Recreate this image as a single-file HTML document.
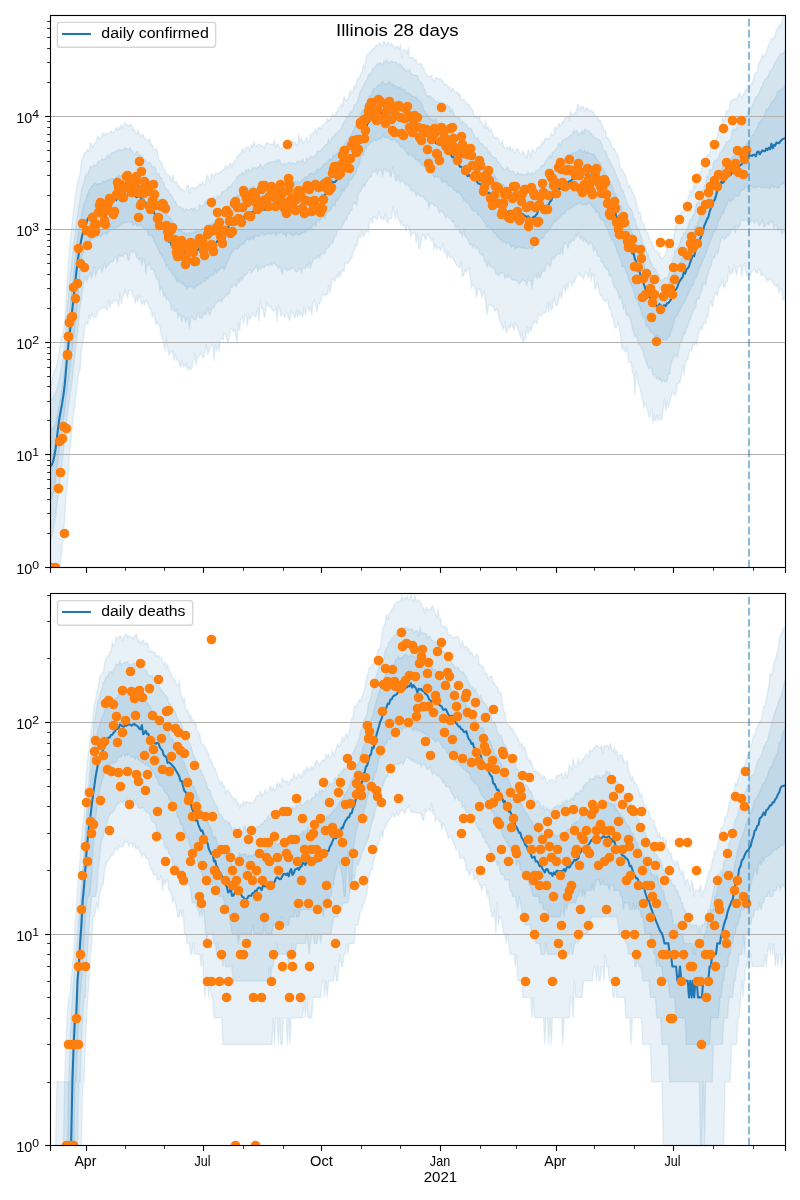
<!DOCTYPE html><html><head><meta charset="utf-8"><title>Illinois 28 days</title>
<style>html,body{margin:0;padding:0;background:#fff}svg{display:block}text{font-family:"Liberation Sans",sans-serif;fill:#000}</style></head><body>
<svg width="800" height="1200" viewBox="0 0 800 1200">
<rect width="800" height="1200" fill="#fff"/>
<defs><clipPath id="c1"><rect x="50.5" y="15.5" width="735.0" height="552.0"/></clipPath><clipPath id="c2"><rect x="50.5" y="593.5" width="735.0" height="552.0"/></clipPath></defs>
<g clip-path="url(#c1)">
<path d="M50.5,388.2L51.8,382.0L53.1,375.8L54.4,370.5L55.6,369.2L56.9,364.5L58.2,357.1L59.5,349.2L60.8,340.5L62.1,335.7L63.4,329.9L64.7,321.6L65.9,303.2L67.2,279.9L68.5,260.3L69.8,245.9L71.1,232.7L72.4,220.8L73.7,209.2L75.0,199.0L76.2,189.7L77.5,182.1L78.8,177.4L80.1,173.9L81.4,160.7L82.7,157.8L84.0,153.1L85.3,152.5L86.5,151.2L87.8,149.2L89.1,151.9L90.4,143.1L91.7,143.6L93.0,148.0L94.3,143.8L95.6,143.0L96.8,138.0L98.1,136.1L99.4,139.5L100.7,138.5L102.0,134.6L103.3,132.8L104.6,135.6L105.9,132.8L107.1,133.9L108.4,133.6L109.7,132.7L111.0,130.8L112.3,132.6L113.6,132.6L114.9,130.7L116.2,127.5L117.4,130.5L118.7,127.0L120.0,129.6L121.3,124.4L122.6,128.4L123.9,125.7L125.2,122.5L126.5,124.4L127.7,125.1L129.0,126.1L130.3,124.2L131.6,125.3L132.9,129.7L134.2,129.5L135.5,132.1L136.7,134.1L138.0,129.4L139.3,134.4L140.6,137.4L141.9,134.6L143.2,134.3L144.5,138.8L145.8,138.7L147.0,141.5L148.3,140.0L149.6,139.0L150.9,143.8L152.2,144.8L153.5,149.5L154.8,150.1L156.1,148.0L157.3,151.5L158.6,159.0L159.9,161.4L161.2,161.2L162.5,165.4L163.8,169.0L165.1,171.2L166.4,174.0L167.6,174.4L168.9,175.4L170.2,176.6L171.5,181.2L172.8,175.0L174.1,181.3L175.4,182.9L176.7,181.0L177.9,186.5L179.2,185.5L180.5,190.0L181.8,188.4L183.1,190.3L184.4,191.6L185.7,189.6L187.0,186.7L188.2,185.3L189.5,192.8L190.8,188.5L192.1,186.9L193.4,188.4L194.7,187.2L196.0,189.0L197.3,186.4L198.5,185.7L199.8,183.4L201.1,185.5L202.4,181.3L203.7,184.5L205.0,185.2L206.3,177.7L207.6,174.7L208.8,179.4L210.1,182.8L211.4,174.2L212.7,174.2L214.0,177.6L215.3,173.5L216.6,173.5L217.8,173.0L219.1,174.3L220.4,171.3L221.7,172.1L223.0,170.3L224.3,168.1L225.6,165.8L226.9,166.3L228.1,167.7L229.4,164.1L230.7,163.1L232.0,167.6L233.3,162.5L234.6,160.7L235.9,160.1L237.2,156.1L238.4,154.8L239.7,154.7L241.0,153.0L242.3,148.7L243.6,152.5L244.9,148.6L246.2,146.9L247.5,146.7L248.7,147.3L250.0,151.5L251.3,144.6L252.6,147.3L253.9,141.6L255.2,146.2L256.5,146.0L257.8,144.9L259.0,143.7L260.3,145.3L261.6,146.1L262.9,145.8L264.2,148.5L265.5,144.3L266.8,142.4L268.1,143.5L269.3,143.7L270.6,144.4L271.9,144.4L273.2,145.2L274.5,140.5L275.8,147.5L277.1,144.6L278.4,143.4L279.6,147.7L280.9,149.3L282.2,147.3L283.5,146.3L284.8,143.6L286.1,149.4L287.4,147.1L288.7,142.1L289.9,142.6L291.2,144.3L292.5,140.2L293.8,143.8L295.1,142.1L296.4,145.6L297.7,143.8L298.9,134.8L300.2,141.8L301.5,137.6L302.8,143.4L304.1,140.8L305.4,141.1L306.7,136.7L308.0,142.5L309.2,141.9L310.5,133.7L311.8,135.9L313.1,132.3L314.4,132.6L315.7,128.6L317.0,134.7L318.3,127.2L319.5,127.7L320.8,128.6L322.1,125.0L323.4,125.0L324.7,123.2L326.0,123.2L327.3,118.5L328.6,120.3L329.8,119.7L331.1,118.1L332.4,113.9L333.7,115.4L335.0,116.3L336.3,112.2L337.6,111.1L338.9,107.1L340.1,106.8L341.4,103.5L342.7,105.9L344.0,96.3L345.3,99.7L346.6,100.7L347.9,99.1L349.2,95.3L350.4,90.1L351.7,93.8L353.0,91.4L354.3,85.5L355.6,88.2L356.9,80.6L358.2,78.1L359.5,77.7L360.7,73.9L362.0,71.6L363.3,64.3L364.6,68.8L365.9,59.7L367.2,54.3L368.5,54.4L369.8,52.0L371.0,52.1L372.3,49.1L373.6,48.4L374.9,47.9L376.2,44.7L377.5,47.2L378.8,44.1L380.0,42.3L381.3,45.2L382.6,46.1L383.9,41.3L385.2,43.3L386.5,46.8L387.8,41.5L389.1,43.3L390.3,46.0L391.6,43.0L392.9,46.4L394.2,46.5L395.5,49.2L396.8,45.6L398.1,46.9L399.4,49.8L400.6,44.1L401.9,57.7L403.2,49.8L404.5,50.5L405.8,50.2L407.1,53.8L408.4,47.5L409.7,57.2L410.9,58.7L412.2,56.8L413.5,58.3L414.8,61.2L416.1,59.1L417.4,63.4L418.7,64.1L420.0,63.6L421.2,63.5L422.5,67.4L423.8,68.0L425.1,73.9L426.4,73.4L427.7,76.2L429.0,75.9L430.3,77.0L431.5,75.3L432.8,79.2L434.1,82.2L435.4,77.8L436.7,77.6L438.0,79.0L439.3,78.7L440.6,78.7L441.8,81.2L443.1,80.9L444.4,85.8L445.7,83.5L447.0,85.3L448.3,88.0L449.6,86.4L450.9,91.7L452.1,88.2L453.4,89.1L454.7,91.4L456.0,93.2L457.3,91.5L458.6,95.8L459.9,93.3L461.1,100.2L462.4,99.5L463.7,99.5L465.0,100.3L466.3,102.8L467.6,104.6L468.9,104.1L470.2,105.9L471.4,109.1L472.7,110.0L474.0,114.9L475.3,117.0L476.6,116.0L477.9,118.6L479.2,116.0L480.5,122.0L481.7,121.9L483.0,124.6L484.3,128.6L485.6,120.4L486.9,128.3L488.2,126.6L489.5,131.9L490.8,128.9L492.0,132.1L493.3,135.1L494.6,137.5L495.9,137.7L497.2,137.2L498.5,139.2L499.8,143.9L501.1,143.1L502.3,140.4L503.6,147.3L504.9,147.2L506.2,148.9L507.5,146.8L508.8,150.1L510.1,146.3L511.4,150.6L512.6,148.6L513.9,151.7L515.2,152.9L516.5,149.3L517.8,148.5L519.1,151.8L520.4,154.8L521.7,154.0L522.9,149.9L524.2,154.1L525.5,155.0L526.8,158.4L528.1,149.8L529.4,152.5L530.7,156.8L532.0,150.1L533.2,149.7L534.5,152.5L535.8,152.4L537.1,147.0L538.4,148.3L539.7,145.8L541.0,147.5L542.2,141.0L543.5,143.9L544.8,138.4L546.1,138.9L547.4,138.0L548.7,139.7L550.0,137.3L551.3,133.1L552.5,135.2L553.8,134.2L555.1,126.8L556.4,129.2L557.7,127.9L559.0,123.0L560.3,125.9L561.6,124.5L562.8,120.5L564.1,121.9L565.4,116.4L566.7,117.0L568.0,115.9L569.3,120.4L570.6,111.0L571.9,114.9L573.1,114.7L574.4,112.5L575.7,113.5L577.0,107.6L578.3,103.9L579.6,110.5L580.9,106.0L582.2,108.1L583.4,106.2L584.7,111.5L586.0,108.0L587.3,107.8L588.6,111.8L589.9,110.3L591.2,110.2L592.5,111.6L593.7,112.3L595.0,115.8L596.3,116.7L597.6,116.8L598.9,121.6L600.2,119.7L601.5,123.9L602.8,126.4L604.0,131.5L605.3,130.0L606.6,138.3L607.9,138.0L609.2,138.9L610.5,142.0L611.8,147.5L613.1,148.8L614.3,148.6L615.6,151.0L616.9,155.0L618.2,155.0L619.5,164.5L620.8,168.1L622.1,170.0L623.3,171.9L624.6,173.2L625.9,177.3L627.2,182.1L628.5,187.9L629.8,184.9L631.1,188.4L632.4,192.2L633.6,194.3L634.9,197.0L636.2,201.8L637.5,206.2L638.8,213.5L640.1,212.8L641.4,219.3L642.7,223.8L643.9,223.4L645.2,230.3L646.5,231.7L647.8,232.3L649.1,237.2L650.4,240.1L651.7,242.8L653.0,245.8L654.2,249.1L655.5,251.7L656.8,250.5L658.1,254.3L659.4,252.3L660.7,257.5L662.0,258.9L663.3,257.6L664.5,256.3L665.8,254.4L667.1,248.3L668.4,245.9L669.7,244.4L671.0,242.6L672.3,238.1L673.6,239.8L674.8,230.4L676.1,225.1L677.4,221.3L678.7,220.3L680.0,215.6L681.3,211.8L682.6,212.0L683.9,211.3L685.1,206.6L686.4,203.5L687.7,199.5L689.0,196.0L690.3,189.9L691.6,192.6L692.9,189.3L694.2,183.2L695.4,188.5L696.7,177.5L698.0,175.4L699.3,172.3L700.6,174.8L701.9,167.3L703.2,168.1L704.4,165.1L705.7,161.5L707.0,155.1L708.3,154.0L709.6,156.5L710.9,146.9L712.2,145.2L713.5,143.9L714.7,143.3L716.0,139.1L717.3,137.1L718.6,129.7L719.9,130.7L721.2,126.0L722.5,117.4L723.8,121.3L725.0,120.2L726.3,110.7L727.6,110.4L728.9,111.4L730.2,102.9L731.5,99.9L732.8,99.8L734.1,99.8L735.3,98.3L736.6,99.5L737.9,97.4L739.2,92.6L740.5,95.6L741.8,97.4L743.1,94.6L744.4,92.9L745.6,89.4L746.9,90.5L748.2,84.8L749.5,87.4L750.8,83.6L752.1,84.1L753.4,79.8L754.7,73.1L755.9,72.6L757.2,71.9L758.5,63.3L759.8,61.6L761.1,58.4L762.4,54.1L763.7,57.1L765.0,55.3L766.2,51.6L767.5,47.8L768.8,44.6L770.1,42.9L771.4,38.2L772.7,39.6L774.0,37.6L775.2,35.0L776.5,29.4L777.8,28.6L779.1,23.9L780.4,28.5L781.7,22.9L783.0,16.4L785.5,18.4L785.5,299.1L783.0,300.2L781.7,289.6L780.4,288.3L779.1,292.8L777.8,283.8L776.5,287.0L775.2,284.7L774.0,284.6L772.7,282.0L771.4,279.6L770.1,277.8L768.8,281.0L767.5,279.1L766.2,281.5L765.0,275.3L763.7,276.1L762.4,273.6L761.1,276.4L759.8,271.0L758.5,268.3L757.2,273.5L755.9,272.3L754.7,268.1L753.4,270.7L752.1,270.9L750.8,275.1L749.5,274.2L748.2,276.1L746.9,275.3L745.6,270.7L744.4,263.2L743.1,266.2L741.8,277.0L740.5,265.1L739.2,265.9L737.9,267.5L736.6,275.4L735.3,268.9L734.1,264.4L732.8,273.6L731.5,269.5L730.2,275.4L728.9,266.4L727.6,281.9L726.3,282.0L725.0,285.5L723.8,288.4L722.5,279.8L721.2,284.8L719.9,286.2L718.6,288.6L717.3,296.0L716.0,292.0L714.7,294.9L713.5,301.1L712.2,307.6L710.9,300.9L709.6,303.5L708.3,316.6L707.0,315.2L705.7,324.2L704.4,321.3L703.2,324.7L701.9,330.3L700.6,326.6L699.3,332.0L698.0,333.7L696.7,345.2L695.4,342.3L694.2,345.5L692.9,344.3L691.6,351.0L690.3,349.2L689.0,352.8L687.7,359.6L686.4,360.3L685.1,364.6L683.9,375.4L682.6,365.4L681.3,375.4L680.0,382.2L678.7,383.0L677.4,383.9L676.1,393.1L674.8,395.9L673.6,392.6L672.3,392.1L671.0,397.0L669.7,402.4L668.4,407.2L667.1,402.1L665.8,411.1L664.5,398.9L663.3,409.2L662.0,418.1L660.7,420.2L659.4,414.6L658.1,421.0L656.8,415.6L655.5,420.8L654.2,415.3L653.0,423.1L651.7,408.1L650.4,415.7L649.1,417.2L647.8,411.5L646.5,404.3L645.2,403.4L643.9,408.2L642.7,399.7L641.4,395.3L640.1,387.8L638.8,386.0L637.5,379.5L636.2,370.9L634.9,394.7L633.6,373.2L632.4,372.9L631.1,361.3L629.8,362.6L628.5,362.2L627.2,346.1L625.9,352.5L624.6,351.2L623.3,345.6L622.1,349.9L620.8,338.7L619.5,329.8L618.2,321.6L616.9,326.9L615.6,328.3L614.3,325.8L613.1,317.4L611.8,316.9L610.5,308.5L609.2,308.9L607.9,301.6L606.6,298.6L605.3,302.4L604.0,299.4L602.8,299.7L601.5,295.8L600.2,295.2L598.9,290.4L597.6,282.4L596.3,286.2L595.0,289.8L593.7,275.2L592.5,273.4L591.2,281.2L589.9,268.1L588.6,278.2L587.3,274.4L586.0,271.7L584.7,274.1L583.4,280.0L582.2,276.1L580.9,276.7L579.6,272.5L578.3,274.3L577.0,276.1L575.7,278.1L574.4,282.4L573.1,281.0L571.9,287.1L570.6,281.6L569.3,281.4L568.0,289.0L566.7,283.7L565.4,292.8L564.1,285.7L562.8,287.2L561.6,299.2L560.3,293.2L559.0,298.5L557.7,304.6L556.4,306.0L555.1,302.7L553.8,297.0L552.5,307.9L551.3,310.7L550.0,302.1L548.7,312.6L547.4,302.0L546.1,311.5L544.8,313.2L543.5,312.0L542.2,314.5L541.0,315.7L539.7,315.4L538.4,313.6L537.1,324.0L535.8,322.1L534.5,321.1L533.2,324.6L532.0,327.4L530.7,332.0L529.4,327.7L528.1,333.6L526.8,326.6L525.5,337.9L524.2,339.5L522.9,342.7L521.7,332.1L520.4,337.9L519.1,332.3L517.8,328.6L516.5,325.6L515.2,322.7L513.9,330.0L512.6,326.4L511.4,322.9L510.1,328.6L508.8,325.3L507.5,330.1L506.2,332.9L504.9,321.4L503.6,329.6L502.3,327.2L501.1,323.2L499.8,320.0L498.5,314.9L497.2,309.6L495.9,309.9L494.6,311.2L493.3,305.5L492.0,306.5L490.8,305.4L489.5,304.2L488.2,307.4L486.9,315.2L485.6,301.3L484.3,290.4L483.0,294.6L481.7,297.2L480.5,290.8L479.2,288.3L477.9,289.7L476.6,298.2L475.3,287.1L474.0,286.1L472.7,284.3L471.4,288.5L470.2,278.8L468.9,267.8L467.6,269.4L466.3,272.8L465.0,269.6L463.7,275.4L462.4,276.4L461.1,261.1L459.9,268.0L458.6,266.7L457.3,266.0L456.0,264.2L454.7,261.4L453.4,259.2L452.1,257.2L450.9,258.1L449.6,257.2L448.3,251.9L447.0,259.1L445.7,250.0L444.4,253.3L443.1,243.5L441.8,248.0L440.6,250.9L439.3,247.8L438.0,247.0L436.7,249.2L435.4,244.5L434.1,249.9L432.8,238.3L431.5,240.8L430.3,237.6L429.0,236.1L427.7,233.4L426.4,238.8L425.1,240.1L423.8,234.8L422.5,234.5L421.2,241.7L420.0,248.0L418.7,248.7L417.4,233.5L416.1,242.6L414.8,232.1L413.5,233.3L412.2,233.2L410.9,237.4L409.7,231.2L408.4,226.3L407.1,224.6L405.8,231.7L404.5,224.4L403.2,226.2L401.9,220.8L400.6,225.3L399.4,220.0L398.1,219.6L396.8,210.7L395.5,219.1L394.2,212.3L392.9,206.6L391.6,218.8L390.3,218.7L389.1,217.6L387.8,223.1L386.5,220.7L385.2,213.1L383.9,220.7L382.6,216.8L381.3,219.1L380.0,216.6L378.8,211.3L377.5,219.4L376.2,218.9L374.9,217.4L373.6,216.7L372.3,223.2L371.0,218.8L369.8,218.6L368.5,233.0L367.2,230.0L365.9,231.9L364.6,234.1L363.3,237.0L362.0,231.1L360.7,237.7L359.5,236.1L358.2,239.0L356.9,246.0L355.6,245.5L354.3,251.1L353.0,251.4L351.7,258.9L350.4,257.9L349.2,261.2L347.9,264.0L346.6,263.2L345.3,262.2L344.0,271.5L342.7,270.3L341.4,272.2L340.1,277.4L338.9,271.9L337.6,278.0L336.3,275.8L335.0,281.3L333.7,279.4L332.4,278.3L331.1,285.0L329.8,294.0L328.6,285.6L327.3,294.3L326.0,295.0L324.7,295.5L323.4,293.8L322.1,296.8L320.8,300.7L319.5,304.2L318.3,303.8L317.0,311.3L315.7,306.7L314.4,300.4L313.1,301.9L311.8,315.1L310.5,306.5L309.2,311.7L308.0,306.1L306.7,308.3L305.4,314.9L304.1,306.7L302.8,317.0L301.5,313.0L300.2,315.6L298.9,310.7L297.7,317.5L296.4,309.7L295.1,318.3L293.8,315.1L292.5,313.1L291.2,310.1L289.9,320.9L288.7,318.5L287.4,314.0L286.1,312.2L284.8,317.0L283.5,314.5L282.2,314.0L280.9,316.2L279.6,309.1L278.4,305.1L277.1,321.4L275.8,307.5L274.5,311.1L273.2,310.6L271.9,309.3L270.6,305.9L269.3,307.1L268.1,305.3L266.8,302.4L265.5,313.0L264.2,317.7L262.9,308.7L261.6,307.9L260.3,300.8L259.0,321.2L257.8,307.9L256.5,315.0L255.2,316.8L253.9,315.5L252.6,312.1L251.3,317.1L250.0,320.3L248.7,314.2L247.5,326.6L246.2,315.2L244.9,314.2L243.6,324.6L242.3,316.5L241.0,317.7L239.7,330.7L238.4,323.1L237.2,343.3L235.9,336.7L234.6,328.8L233.3,331.7L232.0,328.7L230.7,329.4L229.4,336.3L228.1,342.8L226.9,339.9L225.6,334.1L224.3,333.7L223.0,340.7L221.7,337.7L220.4,340.0L219.1,352.1L217.8,344.5L216.6,351.0L215.3,345.0L214.0,360.7L212.7,343.9L211.4,344.8L210.1,348.1L208.8,352.3L207.6,354.2L206.3,344.3L205.0,352.3L203.7,357.6L202.4,356.2L201.1,354.0L199.8,354.2L198.5,357.1L197.3,358.2L196.0,365.5L194.7,352.9L193.4,360.5L192.1,367.5L190.8,369.6L189.5,367.0L188.2,370.6L187.0,362.1L185.7,367.8L184.4,363.7L183.1,367.2L181.8,361.0L180.5,367.5L179.2,362.9L177.9,359.1L176.7,360.1L175.4,354.3L174.1,360.8L172.8,350.2L171.5,353.0L170.2,351.2L168.9,355.6L167.6,348.0L166.4,336.8L165.1,351.3L163.8,345.3L162.5,338.1L161.2,335.8L159.9,326.5L158.6,324.6L157.3,322.1L156.1,324.9L154.8,317.2L153.5,313.0L152.2,317.5L150.9,308.5L149.6,308.5L148.3,305.1L147.0,302.1L145.8,299.6L144.5,305.2L143.2,301.0L141.9,305.3L140.6,299.4L139.3,294.9L138.0,301.8L136.7,296.2L135.5,303.4L134.2,296.9L132.9,296.8L131.6,290.7L130.3,289.5L129.0,291.0L127.7,297.4L126.5,293.9L125.2,289.7L123.9,294.8L122.6,297.4L121.3,303.8L120.0,293.7L118.7,307.0L117.4,301.5L116.2,300.8L114.9,301.2L113.6,299.8L112.3,303.9L111.0,301.9L109.7,308.1L108.4,300.2L107.1,310.3L105.9,308.5L104.6,306.6L103.3,307.8L102.0,308.0L100.7,307.9L99.4,310.0L98.1,312.1L96.8,315.2L95.6,317.3L94.3,317.3L93.0,316.8L91.7,313.1L90.4,319.4L89.1,315.0L87.8,324.6L86.5,322.8L85.3,325.3L84.0,334.8L82.7,344.2L81.4,350.6L80.1,369.6L78.8,372.7L77.5,383.1L76.2,392.2L75.0,403.8L73.7,413.3L72.4,425.8L71.1,439.4L69.8,450.3L68.5,469.1L67.2,485.7L65.9,499.2L64.7,517.7L63.4,536.0L62.1,547.3L60.8,560.6L59.5,574.7L58.2,599.8L56.9,601.9L55.6,600.8L54.4,600.9L53.1,601.5L51.8,601.8L50.5,601.4Z" fill="rgb(31,119,180)" fill-opacity="0.1" stroke="rgb(31,119,180)" stroke-opacity="0.1" stroke-width="1.39" stroke-linejoin="round"/>
<path d="M50.5,399.6L51.8,399.7L53.1,397.6L54.4,395.2L55.6,392.9L56.9,389.0L58.2,384.5L59.5,378.5L60.8,370.7L62.1,364.1L63.4,355.6L64.7,344.1L65.9,327.1L67.2,308.8L68.5,294.0L69.8,279.5L71.1,267.4L72.4,255.6L73.7,243.6L75.0,233.9L76.2,224.0L77.5,215.0L78.8,206.4L80.1,199.4L81.4,190.8L82.7,185.7L84.0,183.2L85.3,176.5L86.5,174.3L87.8,174.4L89.1,170.3L90.4,166.4L91.7,166.6L93.0,166.8L94.3,164.5L95.6,165.7L96.8,165.1L98.1,161.5L99.4,161.0L100.7,160.9L102.0,158.5L103.3,160.1L104.6,158.4L105.9,159.0L107.1,156.0L108.4,154.8L109.7,158.1L111.0,153.2L112.3,153.0L113.6,152.1L114.9,152.1L116.2,150.4L117.4,151.1L118.7,149.4L120.0,149.3L121.3,150.0L122.6,150.1L123.9,149.5L125.2,147.6L126.5,149.5L127.7,149.0L129.0,149.5L130.3,147.6L131.6,151.8L132.9,151.2L134.2,154.7L135.5,153.7L136.7,151.7L138.0,152.0L139.3,156.6L140.6,154.3L141.9,157.5L143.2,157.0L144.5,161.5L145.8,159.5L147.0,162.6L148.3,163.5L149.6,161.9L150.9,163.3L152.2,167.3L153.5,166.4L154.8,166.6L156.1,171.2L157.3,174.9L158.6,172.9L159.9,177.2L161.2,177.4L162.5,182.3L163.8,182.5L165.1,187.5L166.4,188.8L167.6,190.0L168.9,192.9L170.2,194.0L171.5,195.3L172.8,197.6L174.1,201.1L175.4,201.3L176.7,205.0L177.9,206.2L179.2,207.1L180.5,206.5L181.8,208.2L183.1,208.8L184.4,211.4L185.7,208.7L187.0,209.5L188.2,209.7L189.5,209.7L190.8,208.6L192.1,208.5L193.4,210.5L194.7,207.6L196.0,209.5L197.3,210.7L198.5,209.1L199.8,203.9L201.1,207.0L202.4,205.8L203.7,205.0L205.0,200.9L206.3,203.6L207.6,199.9L208.8,202.7L210.1,201.6L211.4,203.2L212.7,198.2L214.0,195.9L215.3,199.2L216.6,198.3L217.8,195.8L219.1,197.7L220.4,195.9L221.7,192.0L223.0,192.3L224.3,191.1L225.6,190.4L226.9,189.6L228.1,187.1L229.4,186.6L230.7,186.5L232.0,184.2L233.3,182.5L234.6,181.1L235.9,179.9L237.2,175.8L238.4,177.6L239.7,174.5L241.0,175.1L242.3,171.8L243.6,174.5L244.9,172.7L246.2,169.6L247.5,171.3L248.7,169.1L250.0,172.4L251.3,169.8L252.6,167.3L253.9,168.4L255.2,167.5L256.5,168.9L257.8,167.1L259.0,167.0L260.3,164.1L261.6,166.6L262.9,168.2L264.2,165.6L265.5,164.3L266.8,164.3L268.1,162.3L269.3,163.7L270.6,161.4L271.9,162.8L273.2,161.8L274.5,160.8L275.8,162.7L277.1,159.3L278.4,161.4L279.6,159.4L280.9,164.1L282.2,164.5L283.5,163.1L284.8,165.0L286.1,163.4L287.4,163.7L288.7,162.6L289.9,162.2L291.2,164.0L292.5,163.0L293.8,163.1L295.1,164.7L296.4,163.1L297.7,160.6L298.9,162.2L300.2,160.9L301.5,161.1L302.8,159.4L304.1,162.3L305.4,162.8L306.7,157.7L308.0,159.7L309.2,158.9L310.5,155.7L311.8,156.6L313.1,157.8L314.4,156.1L315.7,156.3L317.0,151.2L318.3,150.9L319.5,151.5L320.8,150.6L322.1,149.0L323.4,147.2L324.7,146.0L326.0,144.5L327.3,144.8L328.6,138.7L329.8,143.9L331.1,139.3L332.4,136.5L333.7,137.9L335.0,133.3L336.3,134.3L337.6,131.4L338.9,131.1L340.1,129.6L341.4,128.5L342.7,124.0L344.0,122.5L345.3,121.0L346.6,117.0L347.9,118.0L349.2,115.3L350.4,111.0L351.7,112.7L353.0,110.7L354.3,104.4L355.6,104.8L356.9,103.1L358.2,99.5L359.5,93.7L360.7,89.9L362.0,88.8L363.3,85.3L364.6,83.3L365.9,80.7L367.2,79.1L368.5,75.0L369.8,73.2L371.0,75.7L372.3,69.1L373.6,68.7L374.9,66.8L376.2,65.7L377.5,63.1L378.8,64.4L380.0,62.7L381.3,63.4L382.6,64.7L383.9,61.6L385.2,62.4L386.5,59.8L387.8,61.6L389.1,63.9L390.3,61.6L391.6,60.9L392.9,62.4L394.2,62.1L395.5,62.3L396.8,62.6L398.1,66.8L399.4,63.3L400.6,64.9L401.9,65.7L403.2,69.4L404.5,68.0L405.8,71.3L407.1,70.4L408.4,70.9L409.7,69.5L410.9,74.3L412.2,74.1L413.5,74.8L414.8,75.0L416.1,75.6L417.4,75.5L418.7,80.3L420.0,81.2L421.2,82.5L422.5,84.5L423.8,88.2L425.1,90.4L426.4,95.3L427.7,96.0L429.0,95.7L430.3,96.1L431.5,98.2L432.8,98.0L434.1,100.1L435.4,101.1L436.7,102.0L438.0,102.2L439.3,101.8L440.6,103.6L441.8,102.1L443.1,104.1L444.4,106.3L445.7,106.4L447.0,105.0L448.3,106.2L449.6,106.6L450.9,112.8L452.1,108.9L453.4,112.2L454.7,116.3L456.0,116.3L457.3,117.9L458.6,116.4L459.9,119.5L461.1,124.2L462.4,120.9L463.7,122.9L465.0,123.1L466.3,125.0L467.6,127.0L468.9,129.9L470.2,128.0L471.4,128.7L472.7,132.4L474.0,134.3L475.3,137.7L476.6,138.2L477.9,137.8L479.2,141.2L480.5,143.5L481.7,143.9L483.0,144.5L484.3,147.7L485.6,147.7L486.9,147.1L488.2,153.4L489.5,151.0L490.8,153.9L492.0,155.4L493.3,156.7L494.6,158.0L495.9,157.6L497.2,161.8L498.5,162.3L499.8,163.5L501.1,166.2L502.3,167.3L503.6,168.6L504.9,170.3L506.2,169.0L507.5,166.8L508.8,170.3L510.1,170.8L511.4,171.6L512.6,171.2L513.9,171.4L515.2,174.4L516.5,175.0L517.8,172.2L519.1,174.9L520.4,174.0L521.7,173.8L522.9,175.6L524.2,174.7L525.5,174.0L526.8,175.0L528.1,172.0L529.4,174.1L530.7,174.3L532.0,172.5L533.2,174.2L534.5,173.5L535.8,171.0L537.1,170.4L538.4,170.3L539.7,169.5L541.0,165.4L542.2,165.8L543.5,165.5L544.8,162.5L546.1,159.9L547.4,158.4L548.7,157.4L550.0,154.7L551.3,157.6L552.5,152.1L553.8,151.9L555.1,150.1L556.4,149.3L557.7,146.2L559.0,143.2L560.3,145.9L561.6,141.8L562.8,140.6L564.1,139.3L565.4,139.7L566.7,137.9L568.0,137.7L569.3,136.5L570.6,134.9L571.9,134.6L573.1,132.6L574.4,130.3L575.7,132.3L577.0,130.5L578.3,135.5L579.6,133.6L580.9,133.0L582.2,130.5L583.4,134.5L584.7,129.0L586.0,129.9L587.3,130.8L588.6,130.8L589.9,132.7L591.2,133.2L592.5,136.6L593.7,136.3L595.0,137.8L596.3,138.0L597.6,138.7L598.9,139.6L600.2,140.6L601.5,144.0L602.8,147.4L604.0,151.8L605.3,150.6L606.6,153.6L607.9,158.4L609.2,159.1L610.5,163.8L611.8,165.3L613.1,167.6L614.3,169.6L615.6,174.5L616.9,176.6L618.2,179.8L619.5,182.8L620.8,187.1L622.1,190.0L623.3,190.2L624.6,195.6L625.9,199.4L627.2,203.4L628.5,206.0L629.8,208.1L631.1,209.0L632.4,212.5L633.6,218.1L634.9,218.8L636.2,224.6L637.5,228.4L638.8,228.4L640.1,234.1L641.4,236.8L642.7,243.5L643.9,245.2L645.2,246.8L646.5,251.7L647.8,253.2L649.1,257.6L650.4,261.2L651.7,264.1L653.0,267.4L654.2,268.4L655.5,269.5L656.8,273.7L658.1,274.3L659.4,275.8L660.7,281.2L662.0,280.7L663.3,279.4L664.5,277.8L665.8,277.7L667.1,278.2L668.4,276.0L669.7,269.8L671.0,265.8L672.3,261.3L673.6,258.1L674.8,250.1L676.1,250.2L677.4,247.8L678.7,246.1L680.0,242.7L681.3,238.1L682.6,236.4L683.9,232.6L685.1,232.7L686.4,230.1L687.7,227.8L689.0,222.7L690.3,219.5L691.6,220.4L692.9,215.3L694.2,214.5L695.4,209.3L696.7,203.3L698.0,203.5L699.3,201.0L700.6,195.4L701.9,190.0L703.2,190.7L704.4,186.3L705.7,183.7L707.0,176.0L708.3,177.6L709.6,169.8L710.9,169.7L712.2,169.5L713.5,162.8L714.7,160.2L716.0,159.9L717.3,160.6L718.6,158.3L719.9,152.7L721.2,152.8L722.5,150.0L723.8,147.4L725.0,145.5L726.3,141.8L727.6,142.0L728.9,140.4L730.2,140.9L731.5,136.3L732.8,129.4L734.1,129.5L735.3,130.0L736.6,128.0L737.9,123.5L739.2,124.5L740.5,122.6L741.8,121.6L743.1,119.9L744.4,119.7L745.6,118.8L746.9,115.8L748.2,111.2L749.5,109.5L750.8,107.6L752.1,106.1L753.4,103.0L754.7,100.4L755.9,96.8L757.2,96.9L758.5,94.2L759.8,91.8L761.1,87.9L762.4,86.4L763.7,82.0L765.0,79.7L766.2,78.2L767.5,77.6L768.8,74.3L770.1,70.6L771.4,70.2L772.7,68.3L774.0,65.6L775.2,62.0L776.5,60.8L777.8,57.9L779.1,55.9L780.4,54.3L781.7,53.7L783.0,53.5L785.5,49.8L785.5,233.2L783.0,232.3L781.7,234.2L780.4,229.6L779.1,228.3L777.8,231.1L776.5,224.9L775.2,224.7L774.0,229.1L772.7,221.3L771.4,223.1L770.1,220.5L768.8,225.1L767.5,223.0L766.2,224.8L765.0,226.5L763.7,227.2L762.4,220.2L761.1,222.8L759.8,225.9L758.5,225.0L757.2,219.3L755.9,220.7L754.7,223.4L753.4,222.3L752.1,218.5L750.8,221.9L749.5,222.3L748.2,222.6L746.9,220.0L745.6,219.6L744.4,220.3L743.1,220.5L741.8,220.0L740.5,222.1L739.2,226.8L737.9,228.0L736.6,224.4L735.3,232.9L734.1,225.6L732.8,228.1L731.5,228.6L730.2,233.0L728.9,235.8L727.6,235.1L726.3,238.5L725.0,237.2L723.8,239.9L722.5,236.2L721.2,239.1L719.9,243.6L718.6,250.6L717.3,254.3L716.0,250.7L714.7,258.2L713.5,256.9L712.2,260.1L710.9,266.5L709.6,268.7L708.3,273.3L707.0,276.5L705.7,285.5L704.4,282.8L703.2,283.9L701.9,290.6L700.6,292.0L699.3,298.8L698.0,297.9L696.7,300.5L695.4,307.6L694.2,308.9L692.9,311.5L691.6,315.0L690.3,319.6L689.0,320.6L687.7,327.3L686.4,327.0L685.1,334.0L683.9,332.8L682.6,339.6L681.3,341.7L680.0,343.3L678.7,351.2L677.4,357.5L676.1,354.9L674.8,355.7L673.6,358.0L672.3,359.5L671.0,364.4L669.7,374.4L668.4,373.5L667.1,381.4L665.8,381.9L664.5,381.7L663.3,379.5L662.0,382.2L660.7,378.4L659.4,380.4L658.1,376.5L656.8,379.3L655.5,375.0L654.2,374.1L653.0,375.8L651.7,368.7L650.4,365.8L649.1,369.0L647.8,366.9L646.5,362.0L645.2,358.8L643.9,355.4L642.7,350.0L641.4,348.8L640.1,343.3L638.8,345.3L637.5,339.2L636.2,334.3L634.9,337.4L633.6,331.9L632.4,329.5L631.1,321.5L629.8,318.4L628.5,313.4L627.2,316.0L625.9,313.6L624.6,304.2L623.3,309.7L622.1,301.2L620.8,296.2L619.5,299.3L618.2,293.6L616.9,290.2L615.6,287.6L614.3,287.5L613.1,283.5L611.8,278.6L610.5,274.2L609.2,276.0L607.9,268.9L606.6,269.6L605.3,266.9L604.0,266.3L602.8,262.0L601.5,262.5L600.2,255.6L598.9,256.5L597.6,255.5L596.3,250.8L595.0,247.8L593.7,251.9L592.5,244.8L591.2,243.0L589.9,241.9L588.6,245.0L587.3,241.9L586.0,242.0L584.7,239.6L583.4,241.5L582.2,236.5L580.9,239.6L579.6,237.5L578.3,231.5L577.0,237.4L575.7,234.1L574.4,240.4L573.1,240.5L571.9,239.9L570.6,242.8L569.3,241.9L568.0,248.6L566.7,244.5L565.4,243.4L564.1,242.2L562.8,254.8L561.6,247.8L560.3,253.7L559.0,254.4L557.7,253.0L556.4,255.1L555.1,257.0L553.8,259.3L552.5,256.5L551.3,262.7L550.0,267.2L548.7,264.0L547.4,264.4L546.1,265.4L544.8,271.7L543.5,270.7L542.2,270.3L541.0,276.2L539.7,277.7L538.4,273.3L537.1,278.8L535.8,275.1L534.5,276.6L533.2,279.9L532.0,288.6L530.7,280.3L529.4,280.8L528.1,279.1L526.8,285.2L525.5,281.3L524.2,280.7L522.9,279.2L521.7,280.8L520.4,281.9L519.1,283.9L517.8,282.1L516.5,280.2L515.2,280.3L513.9,280.0L512.6,279.8L511.4,279.4L510.1,276.7L508.8,274.8L507.5,277.9L506.2,275.3L504.9,278.6L503.6,272.8L502.3,272.9L501.1,273.9L499.8,272.2L498.5,276.0L497.2,273.3L495.9,274.0L494.6,269.1L493.3,268.3L492.0,266.4L490.8,267.1L489.5,265.6L488.2,261.7L486.9,267.7L485.6,260.7L484.3,261.3L483.0,254.5L481.7,255.4L480.5,254.4L479.2,253.4L477.9,246.7L476.6,248.6L475.3,248.3L474.0,244.1L472.7,248.1L471.4,243.6L470.2,245.0L468.9,243.1L467.6,238.9L466.3,236.5L465.0,236.7L463.7,229.5L462.4,237.1L461.1,231.9L459.9,233.5L458.6,227.7L457.3,226.5L456.0,228.3L454.7,225.6L453.4,220.9L452.1,222.0L450.9,218.7L449.6,217.6L448.3,217.7L447.0,215.3L445.7,218.2L444.4,214.8L443.1,213.0L441.8,210.5L440.6,211.4L439.3,213.1L438.0,209.0L436.7,205.8L435.4,205.7L434.1,205.8L432.8,203.3L431.5,203.8L430.3,202.3L429.0,208.3L427.7,201.1L426.4,200.9L425.1,199.5L423.8,197.3L422.5,196.0L421.2,196.6L420.0,196.3L418.7,194.9L417.4,192.9L416.1,196.2L414.8,191.8L413.5,190.6L412.2,190.9L410.9,190.7L409.7,184.5L408.4,186.6L407.1,183.2L405.8,185.8L404.5,182.3L403.2,182.3L401.9,179.5L400.6,182.3L399.4,180.7L398.1,175.1L396.8,181.1L395.5,179.9L394.2,172.5L392.9,167.0L391.6,175.4L390.3,176.9L389.1,170.0L387.8,171.1L386.5,171.8L385.2,168.4L383.9,169.9L382.6,176.4L381.3,171.1L380.0,169.8L378.8,169.8L377.5,175.0L376.2,169.0L374.9,172.7L373.6,171.5L372.3,171.2L371.0,177.3L369.8,176.9L368.5,178.2L367.2,181.6L365.9,183.1L364.6,187.1L363.3,184.0L362.0,188.5L360.7,191.3L359.5,191.4L358.2,195.4L356.9,205.4L355.6,203.8L354.3,202.4L353.0,204.1L351.7,210.7L350.4,210.3L349.2,214.3L347.9,214.8L346.6,219.7L345.3,219.5L344.0,223.2L342.7,225.4L341.4,229.6L340.1,229.4L338.9,229.6L337.6,229.4L336.3,235.6L335.0,236.2L333.7,239.5L332.4,244.1L331.1,239.6L329.8,246.4L328.6,247.3L327.3,248.3L326.0,248.7L324.7,253.7L323.4,252.7L322.1,253.5L320.8,253.8L319.5,258.1L318.3,255.2L317.0,258.1L315.7,258.8L314.4,258.4L313.1,261.0L311.8,262.7L310.5,268.2L309.2,261.5L308.0,267.1L306.7,264.4L305.4,268.9L304.1,267.7L302.8,267.7L301.5,273.3L300.2,268.2L298.9,268.4L297.7,271.6L296.4,271.9L295.1,270.0L293.8,268.5L292.5,268.0L291.2,267.5L289.9,269.9L288.7,269.6L287.4,270.9L286.1,267.4L284.8,269.3L283.5,268.4L282.2,274.4L280.9,268.7L279.6,266.7L278.4,268.7L277.1,265.7L275.8,265.1L274.5,262.6L273.2,264.1L271.9,265.7L270.6,262.9L269.3,265.6L268.1,265.8L266.8,264.5L265.5,265.8L264.2,267.3L262.9,267.0L261.6,267.3L260.3,269.4L259.0,266.3L257.8,271.6L256.5,265.1L255.2,267.9L253.9,269.2L252.6,271.0L251.3,273.2L250.0,268.9L248.7,270.3L247.5,273.2L246.2,273.7L244.9,275.7L243.6,276.4L242.3,280.6L241.0,277.3L239.7,282.7L238.4,279.0L237.2,283.9L235.9,286.7L234.6,284.6L233.3,284.9L232.0,288.0L230.7,285.3L229.4,294.2L228.1,293.2L226.9,296.6L225.6,293.4L224.3,298.1L223.0,298.5L221.7,302.5L220.4,299.4L219.1,301.7L217.8,301.0L216.6,302.7L215.3,304.2L214.0,307.4L212.7,308.0L211.4,309.2L210.1,315.4L208.8,312.5L207.6,307.8L206.3,314.6L205.0,314.6L203.7,312.2L202.4,318.2L201.1,317.2L199.8,318.3L198.5,312.1L197.3,315.8L196.0,319.8L194.7,319.8L193.4,319.1L192.1,316.4L190.8,317.8L189.5,328.5L188.2,320.0L187.0,317.6L185.7,322.5L184.4,316.7L183.1,315.7L181.8,321.5L180.5,315.4L179.2,313.8L177.9,318.0L176.7,308.8L175.4,311.8L174.1,311.2L172.8,305.3L171.5,310.5L170.2,302.5L168.9,301.3L167.6,297.8L166.4,300.3L165.1,293.3L163.8,297.0L162.5,291.1L161.2,286.0L159.9,291.6L158.6,280.1L157.3,279.1L156.1,278.0L154.8,273.9L153.5,270.1L152.2,269.6L150.9,268.9L149.6,262.0L148.3,265.6L147.0,265.2L145.8,273.8L144.5,259.5L143.2,258.3L141.9,265.0L140.6,257.9L139.3,260.4L138.0,258.7L136.7,257.8L135.5,253.8L134.2,250.1L132.9,253.0L131.6,251.0L130.3,251.7L129.0,260.3L127.7,259.2L126.5,253.2L125.2,253.5L123.9,254.9L122.6,256.8L121.3,255.3L120.0,256.5L118.7,254.3L117.4,262.6L116.2,257.2L114.9,257.1L113.6,260.3L112.3,262.0L111.0,261.9L109.7,262.8L108.4,265.1L107.1,265.7L105.9,268.8L104.6,263.4L103.3,267.8L102.0,272.9L100.7,267.2L99.4,267.1L98.1,269.1L96.8,271.4L95.6,276.8L94.3,266.6L93.0,271.8L91.7,278.3L90.4,272.4L89.1,275.8L87.8,277.8L86.5,281.7L85.3,275.7L84.0,281.0L82.7,287.1L81.4,300.8L80.1,305.4L78.8,320.2L77.5,331.9L76.2,343.1L75.0,353.9L73.7,365.2L72.4,378.5L71.1,387.9L69.8,396.6L68.5,406.5L67.2,416.0L65.9,427.6L64.7,438.7L63.4,450.2L62.1,462.5L60.8,473.7L59.5,484.0L58.2,495.4L56.9,505.5L55.6,516.6L54.4,522.9L53.1,530.3L51.8,536.8L50.5,540.1Z" fill="rgb(31,119,180)" fill-opacity="0.1" stroke="rgb(31,119,180)" stroke-opacity="0.1" stroke-width="1.39" stroke-linejoin="round"/>
<path d="M50.5,430.2L51.8,429.4L53.1,428.0L54.4,426.0L55.6,423.7L56.9,417.0L58.2,410.7L59.5,402.2L60.8,395.6L62.1,388.7L63.4,379.5L64.7,368.2L65.9,354.9L67.2,339.2L68.5,324.7L69.8,311.6L71.1,298.1L72.4,286.3L73.7,274.1L75.0,261.0L76.2,248.7L77.5,238.6L78.8,230.3L80.1,221.4L81.4,216.7L82.7,209.7L84.0,203.6L85.3,200.4L86.5,196.6L87.8,193.6L89.1,189.8L90.4,189.3L91.7,185.7L93.0,185.8L94.3,183.4L95.6,182.8L96.8,184.7L98.1,183.8L99.4,183.6L100.7,183.8L102.0,183.1L103.3,181.2L104.6,181.8L105.9,181.1L107.1,180.1L108.4,180.1L109.7,179.3L111.0,178.6L112.3,178.5L113.6,178.6L114.9,180.1L116.2,176.5L117.4,177.4L118.7,174.8L120.0,177.7L121.3,175.2L122.6,175.4L123.9,176.5L125.2,176.1L126.5,173.4L127.7,175.9L129.0,175.3L130.3,176.6L131.6,176.5L132.9,177.6L134.2,177.5L135.5,177.5L136.7,179.5L138.0,177.2L139.3,179.2L140.6,179.4L141.9,181.2L143.2,181.9L144.5,183.2L145.8,183.8L147.0,185.0L148.3,184.9L149.6,187.9L150.9,189.7L152.2,190.1L153.5,191.6L154.8,193.2L156.1,197.4L157.3,197.5L158.6,199.6L159.9,201.0L161.2,203.1L162.5,205.1L163.8,210.2L165.1,209.0L166.4,213.5L167.6,215.2L168.9,217.0L170.2,217.6L171.5,220.0L172.8,224.4L174.1,224.4L175.4,227.7L176.7,228.8L177.9,229.7L179.2,230.9L180.5,229.6L181.8,231.2L183.1,233.2L184.4,231.7L185.7,235.3L187.0,233.1L188.2,233.7L189.5,232.5L190.8,233.8L192.1,232.2L193.4,232.4L194.7,231.0L196.0,233.1L197.3,229.5L198.5,231.4L199.8,230.6L201.1,230.3L202.4,228.1L203.7,229.7L205.0,228.9L206.3,227.3L207.6,226.7L208.8,225.5L210.1,225.6L211.4,223.3L212.7,224.1L214.0,223.3L215.3,220.5L216.6,218.4L217.8,220.3L219.1,219.3L220.4,219.7L221.7,217.0L223.0,214.7L224.3,211.9L225.6,211.3L226.9,208.7L228.1,206.2L229.4,205.6L230.7,205.3L232.0,202.7L233.3,200.0L234.6,200.0L235.9,197.0L237.2,195.1L238.4,196.2L239.7,193.9L241.0,194.7L242.3,193.0L243.6,191.0L244.9,191.5L246.2,192.0L247.5,189.8L248.7,188.4L250.0,188.3L251.3,187.7L252.6,186.9L253.9,186.4L255.2,187.9L256.5,188.3L257.8,186.4L259.0,187.4L260.3,187.2L261.6,187.8L262.9,185.5L264.2,185.1L265.5,185.8L266.8,185.2L268.1,185.3L269.3,186.2L270.6,184.1L271.9,184.6L273.2,183.2L274.5,183.9L275.8,183.2L277.1,183.0L278.4,183.5L279.6,183.3L280.9,184.2L282.2,184.7L283.5,182.3L284.8,185.3L286.1,181.9L287.4,184.8L288.7,185.5L289.9,184.1L291.2,184.7L292.5,184.1L293.8,185.8L295.1,180.9L296.4,182.7L297.7,180.8L298.9,182.2L300.2,182.5L301.5,181.3L302.8,179.7L304.1,178.4L305.4,176.4L306.7,177.9L308.0,176.5L309.2,174.1L310.5,172.9L311.8,172.9L313.1,174.0L314.4,173.4L315.7,173.0L317.0,169.5L318.3,169.1L319.5,170.1L320.8,167.9L322.1,167.5L323.4,164.2L324.7,164.2L326.0,163.5L327.3,162.1L328.6,160.9L329.8,158.3L331.1,160.7L332.4,157.8L333.7,154.8L335.0,156.2L336.3,153.7L337.6,153.0L338.9,150.5L340.1,148.3L341.4,146.8L342.7,146.4L344.0,145.2L345.3,143.2L346.6,141.6L347.9,140.4L349.2,137.5L350.4,136.3L351.7,134.4L353.0,131.3L354.3,128.7L355.6,125.9L356.9,122.4L358.2,119.2L359.5,119.3L360.7,114.7L362.0,111.0L363.3,110.3L364.6,106.9L365.9,103.3L367.2,101.7L368.5,97.7L369.8,95.7L371.0,94.9L372.3,91.9L373.6,88.6L374.9,88.4L376.2,87.9L377.5,85.6L378.8,84.4L380.0,86.1L381.3,83.1L382.6,81.5L383.9,82.8L385.2,85.1L386.5,83.4L387.8,83.9L389.1,80.8L390.3,82.9L391.6,85.3L392.9,83.9L394.2,86.3L395.5,85.8L396.8,86.4L398.1,88.5L399.4,87.0L400.6,87.9L401.9,89.4L403.2,90.5L404.5,89.2L405.8,93.2L407.1,92.8L408.4,93.1L409.7,94.6L410.9,94.2L412.2,96.6L413.5,96.1L414.8,97.7L416.1,96.8L417.4,98.5L418.7,100.5L420.0,100.8L421.2,103.1L422.5,106.0L423.8,109.6L425.1,111.6L426.4,113.9L427.7,115.3L429.0,117.6L430.3,119.5L431.5,119.0L432.8,120.2L434.1,121.1L435.4,119.0L436.7,121.8L438.0,123.0L439.3,124.0L440.6,123.6L441.8,125.8L443.1,124.9L444.4,126.3L445.7,129.3L447.0,126.9L448.3,129.3L449.6,130.3L450.9,131.4L452.1,132.0L453.4,134.4L454.7,133.7L456.0,134.6L457.3,137.8L458.6,137.2L459.9,140.2L461.1,141.1L462.4,141.6L463.7,143.4L465.0,145.0L466.3,146.9L467.6,147.0L468.9,148.7L470.2,148.6L471.4,151.2L472.7,150.6L474.0,153.9L475.3,154.7L476.6,158.8L477.9,159.2L479.2,159.0L480.5,161.6L481.7,162.4L483.0,162.3L484.3,162.5L485.6,168.1L486.9,168.9L488.2,167.9L489.5,172.3L490.8,174.2L492.0,173.8L493.3,176.8L494.6,175.3L495.9,178.2L497.2,179.7L498.5,181.8L499.8,182.5L501.1,183.4L502.3,184.9L503.6,184.5L504.9,187.8L506.2,186.8L507.5,189.0L508.8,189.0L510.1,189.6L511.4,191.4L512.6,192.0L513.9,193.7L515.2,194.1L516.5,192.8L517.8,194.4L519.1,194.4L520.4,193.7L521.7,193.8L522.9,195.6L524.2,195.0L525.5,194.3L526.8,195.9L528.1,196.4L529.4,196.4L530.7,194.9L532.0,195.2L533.2,196.5L534.5,193.1L535.8,192.4L537.1,193.8L538.4,190.2L539.7,187.7L541.0,184.6L542.2,185.6L543.5,182.4L544.8,182.4L546.1,180.0L547.4,177.5L548.7,179.6L550.0,176.0L551.3,175.6L552.5,173.8L553.8,170.6L555.1,170.0L556.4,168.0L557.7,167.8L559.0,165.6L560.3,163.2L561.6,163.8L562.8,161.1L564.1,159.7L565.4,157.0L566.7,157.3L568.0,154.3L569.3,155.6L570.6,153.4L571.9,154.0L573.1,152.9L574.4,152.9L575.7,152.7L577.0,151.8L578.3,151.4L579.6,149.6L580.9,149.2L582.2,152.7L583.4,152.0L584.7,149.9L586.0,153.8L587.3,151.2L588.6,152.8L589.9,152.9L591.2,153.1L592.5,154.6L593.7,153.8L595.0,156.8L596.3,158.2L597.6,160.2L598.9,161.6L600.2,163.2L601.5,165.3L602.8,169.4L604.0,169.8L605.3,173.5L606.6,175.9L607.9,177.9L609.2,181.0L610.5,183.8L611.8,185.3L613.1,189.1L614.3,193.7L615.6,193.4L616.9,197.3L618.2,199.9L619.5,206.0L620.8,205.3L622.1,209.8L623.3,213.8L624.6,214.9L625.9,218.7L627.2,221.0L628.5,223.3L629.8,227.7L631.1,231.2L632.4,233.2L633.6,236.9L634.9,240.6L636.2,244.4L637.5,245.1L638.8,250.6L640.1,252.8L641.4,254.9L642.7,259.6L643.9,264.6L645.2,267.9L646.5,269.9L647.8,276.3L649.1,278.3L650.4,280.8L651.7,283.3L653.0,287.4L654.2,289.3L655.5,293.5L656.8,294.6L658.1,296.3L659.4,296.5L660.7,296.4L662.0,299.5L663.3,298.5L664.5,299.9L665.8,298.8L667.1,292.7L668.4,287.7L669.7,279.3L671.0,279.3L672.3,274.4L673.6,273.8L674.8,272.2L676.1,267.9L677.4,266.1L678.7,265.9L680.0,262.7L681.3,260.1L682.6,255.3L683.9,252.8L685.1,252.4L686.4,250.5L687.7,245.2L689.0,242.1L690.3,240.3L691.6,237.6L692.9,234.8L694.2,230.7L695.4,226.0L696.7,226.6L698.0,221.4L699.3,220.2L700.6,213.5L701.9,213.0L703.2,208.9L704.4,205.1L705.7,204.3L707.0,201.3L708.3,195.9L709.6,193.8L710.9,188.5L712.2,185.7L713.5,182.9L714.7,179.9L716.0,178.3L717.3,174.0L718.6,174.3L719.9,172.5L721.2,169.5L722.5,166.9L723.8,164.1L725.0,165.2L726.3,163.1L727.6,162.6L728.9,160.0L730.2,159.8L731.5,158.4L732.8,157.1L734.1,156.1L735.3,154.9L736.6,154.4L737.9,151.2L739.2,151.6L740.5,149.7L741.8,147.8L743.1,146.0L744.4,147.5L745.6,145.0L746.9,142.9L748.2,142.2L749.5,140.6L750.8,138.4L752.1,135.5L753.4,135.0L754.7,132.3L755.9,129.8L757.2,128.7L758.5,123.8L759.8,121.8L761.1,120.8L762.4,119.2L763.7,116.6L765.0,114.5L766.2,109.0L767.5,109.7L768.8,107.4L770.1,105.6L771.4,102.0L772.7,101.2L774.0,99.6L775.2,98.2L776.5,94.8L777.8,91.3L779.1,91.1L780.4,90.3L781.7,88.8L783.0,89.1L785.5,84.8L785.5,185.8L783.0,182.5L781.7,184.8L780.4,184.6L779.1,187.6L777.8,188.1L776.5,187.5L775.2,186.8L774.0,188.0L772.7,187.1L771.4,185.2L770.1,188.9L768.8,187.7L767.5,187.5L766.2,186.5L765.0,188.1L763.7,187.4L762.4,187.6L761.1,187.9L759.8,186.3L758.5,186.5L757.2,187.3L755.9,186.6L754.7,188.3L753.4,186.9L752.1,187.2L750.8,185.3L749.5,186.3L748.2,189.7L746.9,187.4L745.6,186.9L744.4,188.9L743.1,189.8L741.8,190.5L740.5,191.5L739.2,195.6L737.9,196.0L736.6,196.1L735.3,194.3L734.1,198.1L732.8,199.7L731.5,200.6L730.2,201.7L728.9,200.0L727.6,202.7L726.3,206.4L725.0,207.7L723.8,213.3L722.5,213.0L721.2,215.6L719.9,219.6L718.6,219.8L717.3,225.7L716.0,228.9L714.7,231.8L713.5,231.8L712.2,237.6L710.9,238.9L709.6,242.7L708.3,246.3L707.0,250.4L705.7,253.4L704.4,256.9L703.2,259.6L701.9,262.9L700.6,266.8L699.3,268.0L698.0,272.9L696.7,276.5L695.4,277.3L694.2,280.0L692.9,285.5L691.6,285.4L690.3,290.2L689.0,290.8L687.7,295.2L686.4,297.4L685.1,300.8L683.9,303.9L682.6,303.9L681.3,307.2L680.0,309.5L678.7,311.3L677.4,315.8L676.1,315.9L674.8,318.5L673.6,324.1L672.3,327.9L671.0,330.4L669.7,336.8L668.4,335.9L667.1,339.9L665.8,339.3L664.5,339.4L663.3,340.4L662.0,338.7L660.7,340.1L659.4,338.3L658.1,336.8L656.8,335.2L655.5,337.9L654.2,335.3L653.0,333.7L651.7,331.5L650.4,331.9L649.1,328.4L647.8,325.9L646.5,326.9L645.2,319.9L643.9,316.9L642.7,317.4L641.4,311.8L640.1,307.9L638.8,305.5L637.5,298.4L636.2,299.6L634.9,296.7L633.6,290.5L632.4,287.6L631.1,284.8L629.8,282.0L628.5,278.4L627.2,273.8L625.9,271.1L624.6,267.2L623.3,266.0L622.1,266.7L620.8,259.3L619.5,257.2L618.2,253.4L616.9,251.0L615.6,246.2L614.3,243.7L613.1,239.7L611.8,239.8L610.5,235.4L609.2,233.3L607.9,230.4L606.6,227.5L605.3,224.5L604.0,220.8L602.8,220.5L601.5,219.5L600.2,218.7L598.9,213.4L597.6,211.5L596.3,212.4L595.0,209.4L593.7,207.8L592.5,206.3L591.2,205.4L589.9,202.7L588.6,203.2L587.3,203.9L586.0,205.2L584.7,204.3L583.4,205.0L582.2,205.0L580.9,203.4L579.6,202.9L578.3,203.5L577.0,205.2L575.7,203.5L574.4,206.4L573.1,206.4L571.9,207.9L570.6,207.7L569.3,209.7L568.0,209.9L566.7,209.2L565.4,212.8L564.1,213.8L562.8,214.4L561.6,214.8L560.3,216.3L559.0,218.1L557.7,219.1L556.4,220.6L555.1,221.6L553.8,223.1L552.5,223.7L551.3,227.1L550.0,227.9L548.7,230.1L547.4,231.9L546.1,232.9L544.8,233.6L543.5,238.2L542.2,237.5L541.0,237.7L539.7,241.3L538.4,244.9L537.1,242.9L535.8,244.6L534.5,244.1L533.2,246.8L532.0,249.3L530.7,248.5L529.4,247.3L528.1,248.5L526.8,248.8L525.5,247.9L524.2,248.4L522.9,247.4L521.7,248.2L520.4,247.6L519.1,246.2L517.8,247.5L516.5,247.5L515.2,249.3L513.9,246.2L512.6,245.6L511.4,247.6L510.1,244.9L508.8,243.1L507.5,242.3L506.2,243.8L504.9,242.1L503.6,242.3L502.3,241.8L501.1,239.6L499.8,239.7L498.5,236.2L497.2,237.4L495.9,233.2L494.6,233.9L493.3,232.2L492.0,229.6L490.8,228.0L489.5,228.1L488.2,225.3L486.9,227.8L485.6,223.9L484.3,222.2L483.0,220.2L481.7,217.7L480.5,216.3L479.2,215.1L477.9,215.2L476.6,210.4L475.3,210.9L474.0,211.4L472.7,210.4L471.4,207.7L470.2,206.8L468.9,203.6L467.6,202.6L466.3,202.6L465.0,199.9L463.7,200.5L462.4,197.3L461.1,194.7L459.9,193.9L458.6,191.7L457.3,193.0L456.0,190.7L454.7,190.5L453.4,189.5L452.1,186.5L450.9,186.6L449.6,186.2L448.3,185.4L447.0,181.9L445.7,182.5L444.4,180.5L443.1,182.2L441.8,181.7L440.6,178.0L439.3,177.6L438.0,177.2L436.7,176.9L435.4,176.2L434.1,177.6L432.8,174.8L431.5,173.6L430.3,172.1L429.0,173.2L427.7,169.9L426.4,171.0L425.1,167.3L423.8,166.3L422.5,165.3L421.2,165.0L420.0,159.8L418.7,162.0L417.4,159.6L416.1,160.3L414.8,157.9L413.5,156.4L412.2,156.2L410.9,153.6L409.7,153.7L408.4,155.9L407.1,152.8L405.8,151.9L404.5,148.8L403.2,148.2L401.9,146.2L400.6,147.1L399.4,145.1L398.1,142.4L396.8,142.4L395.5,140.5L394.2,138.9L392.9,140.4L391.6,140.2L390.3,139.6L389.1,137.0L387.8,137.9L386.5,137.4L385.2,138.4L383.9,135.1L382.6,137.2L381.3,137.3L380.0,139.4L378.8,139.2L377.5,139.6L376.2,141.1L374.9,139.3L373.6,139.7L372.3,142.3L371.0,142.0L369.8,142.5L368.5,145.1L367.2,145.5L365.9,148.7L364.6,150.3L363.3,155.4L362.0,154.7L360.7,157.0L359.5,163.0L358.2,166.5L356.9,168.8L355.6,173.8L354.3,174.5L353.0,177.0L351.7,179.0L350.4,180.3L349.2,179.7L347.9,185.9L346.6,186.2L345.3,188.0L344.0,191.7L342.7,189.3L341.4,193.9L340.1,196.2L338.9,198.9L337.6,200.5L336.3,199.6L335.0,205.9L333.7,205.8L332.4,205.2L331.1,209.2L329.8,210.4L328.6,211.2L327.3,212.2L326.0,213.7L324.7,218.5L323.4,216.5L322.1,217.8L320.8,218.4L319.5,221.5L318.3,220.1L317.0,221.1L315.7,225.8L314.4,224.2L313.1,225.3L311.8,226.7L310.5,228.9L309.2,228.2L308.0,230.4L306.7,229.9L305.4,232.2L304.1,231.8L302.8,232.8L301.5,233.0L300.2,234.7L298.9,234.5L297.7,234.9L296.4,232.8L295.1,235.4L293.8,234.4L292.5,236.7L291.2,233.5L289.9,234.4L288.7,232.4L287.4,232.7L286.1,236.8L284.8,233.4L283.5,234.4L282.2,232.6L280.9,232.0L279.6,233.3L278.4,233.6L277.1,233.3L275.8,235.8L274.5,232.8L273.2,232.0L271.9,234.5L270.6,234.0L269.3,233.9L268.1,232.8L266.8,234.2L265.5,234.0L264.2,235.0L262.9,233.0L261.6,233.4L260.3,234.6L259.0,236.4L257.8,235.9L256.5,236.4L255.2,235.4L253.9,239.7L252.6,236.5L251.3,239.2L250.0,238.7L248.7,240.2L247.5,238.2L246.2,240.3L244.9,241.9L243.6,244.5L242.3,243.9L241.0,245.6L239.7,245.0L238.4,249.1L237.2,248.7L235.9,249.2L234.6,248.2L233.3,250.5L232.0,252.3L230.7,254.6L229.4,257.7L228.1,261.2L226.9,263.0L225.6,266.8L224.3,270.0L223.0,267.2L221.7,267.5L220.4,268.9L219.1,271.0L217.8,270.0L216.6,273.4L215.3,269.2L214.0,274.0L212.7,274.8L211.4,275.6L210.1,275.6L208.8,277.4L207.6,279.0L206.3,277.7L205.0,282.1L203.7,280.9L202.4,280.9L201.1,283.8L199.8,284.5L198.5,284.3L197.3,286.2L196.0,285.5L194.7,288.3L193.4,287.9L192.1,285.9L190.8,286.8L189.5,287.1L188.2,287.2L187.0,289.5L185.7,286.1L184.4,285.8L183.1,282.9L181.8,284.2L180.5,281.6L179.2,282.1L177.9,280.3L176.7,282.0L175.4,277.9L174.1,274.6L172.8,274.9L171.5,271.5L170.2,269.8L168.9,269.3L167.6,264.9L166.4,267.1L165.1,261.9L163.8,259.8L162.5,257.3L161.2,254.4L159.9,253.6L158.6,249.4L157.3,247.4L156.1,244.6L154.8,242.5L153.5,239.6L152.2,236.1L150.9,235.8L149.6,235.4L148.3,234.9L147.0,230.0L145.8,229.0L144.5,229.6L143.2,227.5L141.9,226.3L140.6,224.7L139.3,225.4L138.0,226.0L136.7,225.9L135.5,223.2L134.2,224.2L132.9,224.9L131.6,221.8L130.3,222.4L129.0,221.7L127.7,222.3L126.5,222.6L125.2,222.4L123.9,222.7L122.6,224.5L121.3,223.0L120.0,226.1L118.7,225.9L117.4,226.9L116.2,227.1L114.9,229.5L113.6,229.1L112.3,227.4L111.0,226.4L109.7,231.5L108.4,230.5L107.1,234.4L105.9,233.9L104.6,232.9L103.3,233.8L102.0,235.4L100.7,236.6L99.4,235.5L98.1,235.9L96.8,237.7L95.6,237.3L94.3,239.1L93.0,237.4L91.7,239.5L90.4,241.5L89.1,239.9L87.8,242.9L86.5,243.2L85.3,244.1L84.0,251.3L82.7,253.6L81.4,259.4L80.1,270.6L78.8,289.8L77.5,304.0L76.2,316.3L75.0,326.5L73.7,337.8L72.4,349.6L71.1,360.9L69.8,371.1L68.5,380.7L67.2,391.0L65.9,400.7L64.7,409.7L63.4,420.0L62.1,429.7L60.8,438.9L59.5,448.8L58.2,458.8L56.9,468.4L55.6,479.2L54.4,488.0L53.1,493.9L51.8,497.7L50.5,499.6Z" fill="rgb(31,119,180)" fill-opacity="0.1" stroke="rgb(31,119,180)" stroke-opacity="0.1" stroke-width="1.39" stroke-linejoin="round"/>
<line x1="50.5" x2="785.5" y1="454.50" y2="454.50" stroke="#b0b0b0" stroke-width="1.11"/>
<line x1="50.5" x2="785.5" y1="342.50" y2="342.50" stroke="#b0b0b0" stroke-width="1.11"/>
<line x1="50.5" x2="785.5" y1="229.50" y2="229.50" stroke="#b0b0b0" stroke-width="1.11"/>
<line x1="50.5" x2="785.5" y1="116.50" y2="116.50" stroke="#b0b0b0" stroke-width="1.11"/>
<path d="M50.5,466.0L51.8,465.0L53.1,461.5L54.4,455.7L55.6,448.5L56.9,438.1L58.2,426.8L59.5,417.8L60.8,410.6L62.1,403.7L63.4,395.4L64.7,385.1L65.9,371.4L67.2,357.0L68.5,343.7L69.8,332.6L71.1,321.3L72.4,308.6L73.7,296.8L75.0,285.4L76.2,273.3L77.5,262.3L78.8,253.4L80.1,245.7L81.4,239.3L82.7,233.6L84.0,228.4L85.3,225.0L86.5,223.0L87.8,218.5L89.1,218.3L90.4,216.5L91.7,215.8L93.0,213.6L94.3,214.4L95.6,212.7L96.8,211.5L98.1,212.0L99.4,208.2L100.7,207.9L102.0,207.8L103.3,207.2L104.6,205.4L105.9,205.1L107.1,205.0L108.4,202.5L109.7,201.5L111.0,201.0L112.3,197.7L113.6,200.0L114.9,199.4L116.2,200.2L117.4,196.3L118.7,197.3L120.0,196.9L121.3,196.6L122.6,194.2L123.9,192.0L125.2,194.8L126.5,194.8L127.7,194.8L129.0,193.9L130.3,193.9L131.6,194.9L132.9,194.4L134.2,194.8L135.5,196.4L136.7,197.2L138.0,196.1L139.3,195.9L140.6,197.3L141.9,199.7L143.2,199.6L144.5,201.7L145.8,202.8L147.0,204.7L148.3,204.6L149.6,206.6L150.9,208.9L152.2,209.2L153.5,210.3L154.8,214.4L156.1,216.9L157.3,216.8L158.6,220.6L159.9,223.0L161.2,225.3L162.5,227.1L163.8,229.3L165.1,231.8L166.4,236.9L167.6,238.7L168.9,241.6L170.2,240.9L171.5,245.1L172.8,246.4L174.1,246.9L175.4,249.7L176.7,248.8L177.9,249.4L179.2,248.9L180.5,249.5L181.8,250.8L183.1,250.9L184.4,252.0L185.7,250.4L187.0,251.6L188.2,250.3L189.5,251.1L190.8,250.6L192.1,248.9L193.4,251.8L194.7,250.0L196.0,249.8L197.3,250.7L198.5,249.1L199.8,249.1L201.1,247.1L202.4,249.2L203.7,249.2L205.0,247.4L206.3,248.2L207.6,247.8L208.8,246.3L210.1,244.6L211.4,245.0L212.7,244.5L214.0,243.4L215.3,243.8L216.6,242.5L217.8,240.2L219.1,240.3L220.4,239.7L221.7,236.9L223.0,234.7L224.3,234.0L225.6,232.1L226.9,228.2L228.1,227.7L229.4,224.6L230.7,223.1L232.0,224.3L233.3,222.6L234.6,219.8L235.9,219.3L237.2,220.3L238.4,218.7L239.7,218.0L241.0,216.8L242.3,217.3L243.6,219.1L244.9,214.5L246.2,217.0L247.5,213.8L248.7,212.7L250.0,214.1L251.3,212.4L252.6,211.8L253.9,212.7L255.2,213.1L256.5,211.1L257.8,209.3L259.0,209.0L260.3,209.6L261.6,210.5L262.9,209.6L264.2,209.3L265.5,209.9L266.8,206.4L268.1,209.3L269.3,208.4L270.6,208.2L271.9,208.5L273.2,207.7L274.5,206.8L275.8,205.8L277.1,208.0L278.4,206.3L279.6,207.4L280.9,205.7L282.2,207.2L283.5,207.7L284.8,206.7L286.1,207.5L287.4,206.2L288.7,206.4L289.9,207.0L291.2,206.8L292.5,207.2L293.8,206.7L295.1,207.5L296.4,208.0L297.7,206.9L298.9,207.0L300.2,206.1L301.5,204.3L302.8,205.8L304.1,205.4L305.4,202.9L306.7,203.4L308.0,201.5L309.2,202.8L310.5,203.5L311.8,201.7L313.1,200.3L314.4,201.7L315.7,200.8L317.0,200.1L318.3,200.3L319.5,198.7L320.8,199.5L322.1,195.6L323.4,197.3L324.7,194.6L326.0,194.0L327.3,190.8L328.6,188.0L329.8,188.2L331.1,184.6L332.4,181.7L333.7,182.2L335.0,181.9L336.3,180.6L337.6,178.6L338.9,173.3L340.1,173.3L341.4,170.5L342.7,169.9L344.0,165.9L345.3,166.6L346.6,164.4L347.9,163.7L349.2,161.8L350.4,158.9L351.7,155.3L353.0,155.5L354.3,152.2L355.6,150.8L356.9,149.8L358.2,144.3L359.5,143.2L360.7,139.5L362.0,137.5L363.3,134.5L364.6,131.2L365.9,128.3L367.2,124.4L368.5,122.3L369.8,120.9L371.0,119.2L372.3,117.0L373.6,114.5L374.9,113.7L376.2,113.2L377.5,111.3L378.8,111.3L380.0,112.4L381.3,114.0L382.6,111.7L383.9,110.3L385.2,112.9L386.5,111.8L387.8,110.2L389.1,111.6L390.3,112.0L391.6,113.0L392.9,111.5L394.2,114.0L395.5,113.0L396.8,114.2L398.1,113.3L399.4,116.4L400.6,116.2L401.9,115.9L403.2,118.1L404.5,119.3L405.8,120.4L407.1,121.3L408.4,119.4L409.7,121.1L410.9,123.0L412.2,124.2L413.5,123.7L414.8,126.9L416.1,127.3L417.4,126.0L418.7,127.5L420.0,130.9L421.2,128.8L422.5,133.8L423.8,134.3L425.1,132.4L426.4,135.0L427.7,136.7L429.0,135.2L430.3,135.7L431.5,140.1L432.8,139.4L434.1,138.9L435.4,142.7L436.7,143.7L438.0,144.1L439.3,144.6L440.6,144.8L441.8,145.1L443.1,148.7L444.4,149.5L445.7,148.6L447.0,150.2L448.3,151.4L449.6,152.8L450.9,154.4L452.1,157.2L453.4,157.1L454.7,159.6L456.0,160.2L457.3,162.9L458.6,163.7L459.9,166.7L461.1,166.9L462.4,167.7L463.7,172.1L465.0,171.1L466.3,172.4L467.6,176.1L468.9,175.1L470.2,176.4L471.4,177.5L472.7,178.6L474.0,180.1L475.3,179.9L476.6,180.3L477.9,183.4L479.2,183.5L480.5,184.4L481.7,186.8L483.0,188.2L484.3,189.0L485.6,188.0L486.9,193.6L488.2,192.8L489.5,192.7L490.8,196.1L492.0,198.2L493.3,199.4L494.6,199.9L495.9,201.3L497.2,200.5L498.5,201.1L499.8,206.7L501.1,207.2L502.3,208.7L503.6,208.2L504.9,212.6L506.2,211.2L507.5,213.2L508.8,211.3L510.1,210.8L511.4,213.5L512.6,214.0L513.9,212.5L515.2,216.3L516.5,213.4L517.8,215.5L519.1,215.4L520.4,213.0L521.7,215.2L522.9,214.1L524.2,215.6L525.5,215.8L526.8,217.4L528.1,216.2L529.4,217.9L530.7,218.5L532.0,219.0L533.2,216.9L534.5,217.1L535.8,215.3L537.1,213.9L538.4,209.3L539.7,208.7L541.0,207.7L542.2,208.3L543.5,206.7L544.8,206.6L546.1,205.8L547.4,206.1L548.7,204.6L550.0,201.7L551.3,200.4L552.5,197.0L553.8,196.4L555.1,195.1L556.4,193.1L557.7,194.2L559.0,188.2L560.3,188.8L561.6,188.1L562.8,187.7L564.1,186.0L565.4,182.8L566.7,182.4L568.0,182.7L569.3,181.2L570.6,181.2L571.9,179.7L573.1,178.1L574.4,177.3L575.7,177.8L577.0,175.9L578.3,175.9L579.6,176.9L580.9,175.0L582.2,175.6L583.4,172.4L584.7,174.1L586.0,174.9L587.3,175.6L588.6,175.1L589.9,175.6L591.2,175.1L592.5,176.3L593.7,177.6L595.0,176.4L596.3,176.9L597.6,180.6L598.9,183.3L600.2,184.9L601.5,185.2L602.8,188.0L604.0,190.2L605.3,193.5L606.6,196.2L607.9,197.2L609.2,201.3L610.5,203.9L611.8,207.9L613.1,209.3L614.3,212.8L615.6,213.7L616.9,218.1L618.2,222.2L619.5,223.6L620.8,227.5L622.1,231.8L623.3,235.0L624.6,237.7L625.9,241.1L627.2,244.9L628.5,248.0L629.8,249.3L631.1,250.4L632.4,253.5L633.6,253.3L634.9,259.2L636.2,261.9L637.5,265.7L638.8,269.3L640.1,274.0L641.4,278.5L642.7,281.1L643.9,284.2L645.2,288.3L646.5,292.1L647.8,294.5L649.1,297.1L650.4,297.9L651.7,300.3L653.0,302.3L654.2,306.0L655.5,304.4L656.8,306.1L658.1,305.8L659.4,304.1L660.7,305.4L662.0,306.3L663.3,305.7L664.5,305.2L665.8,306.1L667.1,303.3L668.4,302.9L669.7,301.3L671.0,299.3L672.3,296.9L673.6,292.2L674.8,290.3L676.1,289.3L677.4,287.0L678.7,283.0L680.0,280.5L681.3,278.8L682.6,277.3L683.9,272.2L685.1,273.6L686.4,269.6L687.7,268.4L689.0,266.5L690.3,262.1L691.6,258.4L692.9,255.5L694.2,256.1L695.4,250.8L696.7,248.2L698.0,243.4L699.3,240.7L700.6,237.8L701.9,234.3L703.2,230.1L704.4,225.4L705.7,222.8L707.0,219.2L708.3,217.3L709.6,212.1L710.9,208.0L712.2,206.2L713.5,201.4L714.7,199.7L716.0,195.8L717.3,190.4L718.6,187.2L719.9,185.8L721.2,181.7L722.5,182.9L723.8,181.8L725.0,179.6L726.3,178.3L727.6,176.5L728.9,175.1L730.2,175.2L731.5,173.8L732.8,171.6L734.1,171.8L735.3,169.1L736.6,169.2L737.9,165.9L739.2,166.0L740.5,165.2L741.8,164.3L743.1,161.9L744.4,161.0L745.6,160.0L746.9,160.0L748.2,157.1L749.5,155.3L750.8,155.5L752.1,156.0L753.4,154.8L754.7,154.7L755.9,156.3L757.2,152.0L758.5,151.5L759.8,154.3L761.1,152.2L762.4,150.4L763.7,151.2L765.0,151.3L766.2,148.5L767.5,150.0L768.8,147.9L770.1,149.2L771.4,143.8L772.7,148.3L774.0,144.8L775.2,145.6L776.5,142.5L777.8,143.1L779.1,143.1L780.4,141.2L781.7,139.9L783.0,139.0L785.5,138.1" fill="none" stroke="#1f77b4" stroke-width="2.08" stroke-linejoin="round" stroke-linecap="square"/>
<circle class="d" cx="92.5" cy="217.5" r="4.1"/>
<circle class="d" cx="94.5" cy="225.5" r="4.1"/>
<circle class="d" cx="95.5" cy="231.5" r="4.1"/>
<circle class="d" cx="96.5" cy="224.5" r="4.1"/>
<circle class="d" cx="98.5" cy="212.5" r="4.1"/>
<circle class="d" cx="99.5" cy="205.5" r="4.1"/>
<circle class="d" cx="100.5" cy="202.5" r="4.1"/>
<circle class="d" cx="101.5" cy="212.5" r="4.1"/>
<circle class="d" cx="103.5" cy="212.5" r="4.1"/>
<circle class="d" cx="104.5" cy="220.5" r="4.1"/>
<circle class="d" cx="105.5" cy="224.5" r="4.1"/>
<circle class="d" cx="107.5" cy="208.5" r="4.1"/>
<circle class="d" cx="108.5" cy="202.5" r="4.1"/>
<circle class="d" cx="109.5" cy="198.5" r="4.1"/>
<circle class="d" cx="111.5" cy="198.5" r="4.1"/>
<circle class="d" cx="112.5" cy="212.5" r="4.1"/>
<circle class="d" cx="113.5" cy="214.5" r="4.1"/>
<circle class="d" cx="114.5" cy="211.5" r="4.1"/>
<circle class="d" cx="116.5" cy="194.5" r="4.1"/>
<circle class="d" cx="117.5" cy="182.5" r="4.1"/>
<circle class="d" cx="118.5" cy="187.5" r="4.1"/>
<circle class="d" cx="120.5" cy="184.5" r="4.1"/>
<circle class="d" cx="121.5" cy="191.5" r="4.1"/>
<circle class="d" cx="122.5" cy="197.5" r="4.1"/>
<circle class="d" cx="123.5" cy="197.5" r="4.1"/>
<circle class="d" cx="125.5" cy="187.5" r="4.1"/>
<circle class="d" cx="126.5" cy="176.5" r="4.1"/>
<circle class="d" cx="127.5" cy="175.5" r="4.1"/>
<circle class="d" cx="129.5" cy="182.5" r="4.1"/>
<circle class="d" cx="130.5" cy="183.5" r="4.1"/>
<circle class="d" cx="131.5" cy="192.5" r="4.1"/>
<circle class="d" cx="132.5" cy="192.5" r="4.1"/>
<circle class="d" cx="134.5" cy="187.5" r="4.1"/>
<circle class="d" cx="135.5" cy="182.5" r="4.1"/>
<circle class="d" cx="136.5" cy="176.5" r="4.1"/>
<circle class="d" cx="138.5" cy="192.5" r="4.1"/>
<circle class="d" cx="139.5" cy="189.5" r="4.1"/>
<circle class="d" cx="140.5" cy="205.5" r="4.1"/>
<circle class="d" cx="141.5" cy="203.5" r="4.1"/>
<circle class="d" cx="143.5" cy="193.5" r="4.1"/>
<circle class="d" cx="144.5" cy="181.5" r="4.1"/>
<circle class="d" cx="145.5" cy="183.5" r="4.1"/>
<circle class="d" cx="147.5" cy="189.5" r="4.1"/>
<circle class="d" cx="148.5" cy="191.5" r="4.1"/>
<circle class="d" cx="149.5" cy="206.5" r="4.1"/>
<circle class="d" cx="150.5" cy="209.5" r="4.1"/>
<circle class="d" cx="152.5" cy="200.5" r="4.1"/>
<circle class="d" cx="153.5" cy="184.5" r="4.1"/>
<circle class="d" cx="154.5" cy="194.5" r="4.1"/>
<circle class="d" cx="156.5" cy="205.5" r="4.1"/>
<circle class="d" cx="157.5" cy="218.5" r="4.1"/>
<circle class="d" cx="158.5" cy="217.5" r="4.1"/>
<circle class="d" cx="159.5" cy="225.5" r="4.1"/>
<circle class="d" cx="161.5" cy="206.5" r="4.1"/>
<circle class="d" cx="162.5" cy="203.5" r="4.1"/>
<circle class="d" cx="163.5" cy="204.5" r="4.1"/>
<circle class="d" cx="165.5" cy="208.5" r="4.1"/>
<circle class="d" cx="166.5" cy="225.5" r="4.1"/>
<circle class="d" cx="167.5" cy="231.5" r="4.1"/>
<circle class="d" cx="168.5" cy="237.5" r="4.1"/>
<circle class="d" cx="170.5" cy="230.5" r="4.1"/>
<circle class="d" cx="171.5" cy="229.5" r="4.1"/>
<circle class="d" cx="172.5" cy="227.5" r="4.1"/>
<circle class="d" cx="174.5" cy="239.5" r="4.1"/>
<circle class="d" cx="175.5" cy="245.5" r="4.1"/>
<circle class="d" cx="176.5" cy="252.5" r="4.1"/>
<circle class="d" cx="177.5" cy="256.5" r="4.1"/>
<circle class="d" cx="179.5" cy="250.5" r="4.1"/>
<circle class="d" cx="180.5" cy="242.5" r="4.1"/>
<circle class="d" cx="181.5" cy="240.5" r="4.1"/>
<circle class="d" cx="183.5" cy="247.5" r="4.1"/>
<circle class="d" cx="184.5" cy="257.5" r="4.1"/>
<circle class="d" cx="185.5" cy="264.5" r="4.1"/>
<circle class="d" cx="186.5" cy="259.5" r="4.1"/>
<circle class="d" cx="188.5" cy="249.5" r="4.1"/>
<circle class="d" cx="189.5" cy="251.5" r="4.1"/>
<circle class="d" cx="190.5" cy="242.5" r="4.1"/>
<circle class="d" cx="192.5" cy="250.5" r="4.1"/>
<circle class="d" cx="193.5" cy="252.5" r="4.1"/>
<circle class="d" cx="194.5" cy="261.5" r="4.1"/>
<circle class="d" cx="195.5" cy="261.5" r="4.1"/>
<circle class="d" cx="197.5" cy="243.5" r="4.1"/>
<circle class="d" cx="198.5" cy="242.5" r="4.1"/>
<circle class="d" cx="199.5" cy="238.5" r="4.1"/>
<circle class="d" cx="201.5" cy="241.5" r="4.1"/>
<circle class="d" cx="202.5" cy="241.5" r="4.1"/>
<circle class="d" cx="203.5" cy="250.5" r="4.1"/>
<circle class="d" cx="204.5" cy="255.5" r="4.1"/>
<circle class="d" cx="206.5" cy="246.5" r="4.1"/>
<circle class="d" cx="207.5" cy="234.5" r="4.1"/>
<circle class="d" cx="208.5" cy="229.5" r="4.1"/>
<circle class="d" cx="210.5" cy="231.5" r="4.1"/>
<circle class="d" cx="211.5" cy="244.5" r="4.1"/>
<circle class="d" cx="212.5" cy="245.5" r="4.1"/>
<circle class="d" cx="213.5" cy="251.5" r="4.1"/>
<circle class="d" cx="215.5" cy="230.5" r="4.1"/>
<circle class="d" cx="216.5" cy="227.5" r="4.1"/>
<circle class="d" cx="217.5" cy="212.5" r="4.1"/>
<circle class="d" cx="219.5" cy="222.5" r="4.1"/>
<circle class="d" cx="220.5" cy="236.5" r="4.1"/>
<circle class="d" cx="221.5" cy="237.5" r="4.1"/>
<circle class="d" cx="222.5" cy="243.5" r="4.1"/>
<circle class="d" cx="224.5" cy="230.5" r="4.1"/>
<circle class="d" cx="225.5" cy="212.5" r="4.1"/>
<circle class="d" cx="226.5" cy="210.5" r="4.1"/>
<circle class="d" cx="228.5" cy="213.5" r="4.1"/>
<circle class="d" cx="229.5" cy="221.5" r="4.1"/>
<circle class="d" cx="230.5" cy="233.5" r="4.1"/>
<circle class="d" cx="232.5" cy="231.5" r="4.1"/>
<circle class="d" cx="233.5" cy="221.5" r="4.1"/>
<circle class="d" cx="234.5" cy="203.5" r="4.1"/>
<circle class="d" cx="235.5" cy="201.5" r="4.1"/>
<circle class="d" cx="237.5" cy="207.5" r="4.1"/>
<circle class="d" cx="238.5" cy="218.5" r="4.1"/>
<circle class="d" cx="239.5" cy="219.5" r="4.1"/>
<circle class="d" cx="241.5" cy="222.5" r="4.1"/>
<circle class="d" cx="242.5" cy="207.5" r="4.1"/>
<circle class="d" cx="243.5" cy="190.5" r="4.1"/>
<circle class="d" cx="244.5" cy="193.5" r="4.1"/>
<circle class="d" cx="246.5" cy="198.5" r="4.1"/>
<circle class="d" cx="247.5" cy="202.5" r="4.1"/>
<circle class="d" cx="248.5" cy="215.5" r="4.1"/>
<circle class="d" cx="250.5" cy="216.5" r="4.1"/>
<circle class="d" cx="251.5" cy="199.5" r="4.1"/>
<circle class="d" cx="252.5" cy="193.5" r="4.1"/>
<circle class="d" cx="253.5" cy="192.5" r="4.1"/>
<circle class="d" cx="255.5" cy="196.5" r="4.1"/>
<circle class="d" cx="256.5" cy="203.5" r="4.1"/>
<circle class="d" cx="257.5" cy="209.5" r="4.1"/>
<circle class="d" cx="259.5" cy="207.5" r="4.1"/>
<circle class="d" cx="260.5" cy="201.5" r="4.1"/>
<circle class="d" cx="261.5" cy="189.5" r="4.1"/>
<circle class="d" cx="262.5" cy="185.5" r="4.1"/>
<circle class="d" cx="264.5" cy="185.5" r="4.1"/>
<circle class="d" cx="265.5" cy="199.5" r="4.1"/>
<circle class="d" cx="266.5" cy="203.5" r="4.1"/>
<circle class="d" cx="268.5" cy="206.5" r="4.1"/>
<circle class="d" cx="269.5" cy="196.5" r="4.1"/>
<circle class="d" cx="270.5" cy="188.5" r="4.1"/>
<circle class="d" cx="271.5" cy="186.5" r="4.1"/>
<circle class="d" cx="273.5" cy="194.5" r="4.1"/>
<circle class="d" cx="274.5" cy="197.5" r="4.1"/>
<circle class="d" cx="275.5" cy="206.5" r="4.1"/>
<circle class="d" cx="277.5" cy="205.5" r="4.1"/>
<circle class="d" cx="278.5" cy="199.5" r="4.1"/>
<circle class="d" cx="279.5" cy="188.5" r="4.1"/>
<circle class="d" cx="280.5" cy="184.5" r="4.1"/>
<circle class="d" cx="282.5" cy="193.5" r="4.1"/>
<circle class="d" cx="283.5" cy="202.5" r="4.1"/>
<circle class="d" cx="284.5" cy="208.5" r="4.1"/>
<circle class="d" cx="286.5" cy="213.5" r="4.1"/>
<circle class="d" cx="287.5" cy="202.5" r="4.1"/>
<circle class="d" cx="288.5" cy="190.5" r="4.1"/>
<circle class="d" cx="289.5" cy="184.5" r="4.1"/>
<circle class="d" cx="291.5" cy="198.5" r="4.1"/>
<circle class="d" cx="292.5" cy="203.5" r="4.1"/>
<circle class="d" cx="293.5" cy="208.5" r="4.1"/>
<circle class="d" cx="295.5" cy="210.5" r="4.1"/>
<circle class="d" cx="296.5" cy="199.5" r="4.1"/>
<circle class="d" cx="297.5" cy="194.5" r="4.1"/>
<circle class="d" cx="298.5" cy="190.5" r="4.1"/>
<circle class="d" cx="300.5" cy="195.5" r="4.1"/>
<circle class="d" cx="301.5" cy="197.5" r="4.1"/>
<circle class="d" cx="302.5" cy="208.5" r="4.1"/>
<circle class="d" cx="304.5" cy="213.5" r="4.1"/>
<circle class="d" cx="305.5" cy="200.5" r="4.1"/>
<circle class="d" cx="306.5" cy="188.5" r="4.1"/>
<circle class="d" cx="307.5" cy="185.5" r="4.1"/>
<circle class="d" cx="309.5" cy="189.5" r="4.1"/>
<circle class="d" cx="310.5" cy="201.5" r="4.1"/>
<circle class="d" cx="311.5" cy="211.5" r="4.1"/>
<circle class="d" cx="313.5" cy="208.5" r="4.1"/>
<circle class="d" cx="314.5" cy="200.5" r="4.1"/>
<circle class="d" cx="315.5" cy="184.5" r="4.1"/>
<circle class="d" cx="316.5" cy="185.5" r="4.1"/>
<circle class="d" cx="318.5" cy="187.5" r="4.1"/>
<circle class="d" cx="319.5" cy="207.5" r="4.1"/>
<circle class="d" cx="320.5" cy="212.5" r="4.1"/>
<circle class="d" cx="322.5" cy="208.5" r="4.1"/>
<circle class="d" cx="323.5" cy="199.5" r="4.1"/>
<circle class="d" cx="324.5" cy="183.5" r="4.1"/>
<circle class="d" cx="325.5" cy="187.5" r="4.1"/>
<circle class="d" cx="327.5" cy="181.5" r="4.1"/>
<circle class="d" cx="328.5" cy="190.5" r="4.1"/>
<circle class="d" cx="329.5" cy="190.5" r="4.1"/>
<circle class="d" cx="331.5" cy="187.5" r="4.1"/>
<circle class="d" cx="332.5" cy="173.5" r="4.1"/>
<circle class="d" cx="333.5" cy="169.5" r="4.1"/>
<circle class="d" cx="334.5" cy="166.5" r="4.1"/>
<circle class="d" cx="336.5" cy="166.5" r="4.1"/>
<circle class="d" cx="337.5" cy="168.5" r="4.1"/>
<circle class="d" cx="338.5" cy="175.5" r="4.1"/>
<circle class="d" cx="340.5" cy="173.5" r="4.1"/>
<circle class="d" cx="341.5" cy="164.5" r="4.1"/>
<circle class="d" cx="342.5" cy="155.5" r="4.1"/>
<circle class="d" cx="344.5" cy="150.5" r="4.1"/>
<circle class="d" cx="345.5" cy="159.5" r="4.1"/>
<circle class="d" cx="346.5" cy="162.5" r="4.1"/>
<circle class="d" cx="347.5" cy="167.5" r="4.1"/>
<circle class="d" cx="349.5" cy="168.5" r="4.1"/>
<circle class="d" cx="350.5" cy="158.5" r="4.1"/>
<circle class="d" cx="351.5" cy="145.5" r="4.1"/>
<circle class="d" cx="353.5" cy="140.5" r="4.1"/>
<circle class="d" cx="354.5" cy="144.5" r="4.1"/>
<circle class="d" cx="355.5" cy="149.5" r="4.1"/>
<circle class="d" cx="356.5" cy="152.5" r="4.1"/>
<circle class="d" cx="358.5" cy="149.5" r="4.1"/>
<circle class="d" cx="359.5" cy="139.5" r="4.1"/>
<circle class="d" cx="360.5" cy="122.5" r="4.1"/>
<circle class="d" cx="362.5" cy="123.5" r="4.1"/>
<circle class="d" cx="363.5" cy="120.5" r="4.1"/>
<circle class="d" cx="364.5" cy="119.5" r="4.1"/>
<circle class="d" cx="365.5" cy="119.5" r="4.1"/>
<circle class="d" cx="367.5" cy="117.5" r="4.1"/>
<circle class="d" cx="368.5" cy="111.5" r="4.1"/>
<circle class="d" cx="369.5" cy="106.5" r="4.1"/>
<circle class="d" cx="371.5" cy="102.5" r="4.1"/>
<circle class="d" cx="372.5" cy="107.5" r="4.1"/>
<circle class="d" cx="373.5" cy="108.5" r="4.1"/>
<circle class="d" cx="374.5" cy="113.5" r="4.1"/>
<circle class="d" cx="376.5" cy="120.5" r="4.1"/>
<circle class="d" cx="377.5" cy="109.5" r="4.1"/>
<circle class="d" cx="378.5" cy="99.5" r="4.1"/>
<circle class="d" cx="380.5" cy="101.5" r="4.1"/>
<circle class="d" cx="381.5" cy="102.5" r="4.1"/>
<circle class="d" cx="382.5" cy="119.5" r="4.1"/>
<circle class="d" cx="383.5" cy="117.5" r="4.1"/>
<circle class="d" cx="385.5" cy="123.5" r="4.1"/>
<circle class="d" cx="386.5" cy="111.5" r="4.1"/>
<circle class="d" cx="387.5" cy="107.5" r="4.1"/>
<circle class="d" cx="389.5" cy="101.5" r="4.1"/>
<circle class="d" cx="390.5" cy="108.5" r="4.1"/>
<circle class="d" cx="391.5" cy="119.5" r="4.1"/>
<circle class="d" cx="392.5" cy="130.5" r="4.1"/>
<circle class="d" cx="394.5" cy="132.5" r="4.1"/>
<circle class="d" cx="395.5" cy="115.5" r="4.1"/>
<circle class="d" cx="396.5" cy="106.5" r="4.1"/>
<circle class="d" cx="398.5" cy="105.5" r="4.1"/>
<circle class="d" cx="399.5" cy="106.5" r="4.1"/>
<circle class="d" cx="400.5" cy="117.5" r="4.1"/>
<circle class="d" cx="401.5" cy="133.5" r="4.1"/>
<circle class="d" cx="403.5" cy="135.5" r="4.1"/>
<circle class="d" cx="404.5" cy="118.5" r="4.1"/>
<circle class="d" cx="405.5" cy="108.5" r="4.1"/>
<circle class="d" cx="407.5" cy="106.5" r="4.1"/>
<circle class="d" cx="408.5" cy="115.5" r="4.1"/>
<circle class="d" cx="409.5" cy="127.5" r="4.1"/>
<circle class="d" cx="410.5" cy="128.5" r="4.1"/>
<circle class="d" cx="412.5" cy="132.5" r="4.1"/>
<circle class="d" cx="413.5" cy="121.5" r="4.1"/>
<circle class="d" cx="414.5" cy="115.5" r="4.1"/>
<circle class="d" cx="416.5" cy="117.5" r="4.1"/>
<circle class="d" cx="417.5" cy="117.5" r="4.1"/>
<circle class="d" cx="418.5" cy="127.5" r="4.1"/>
<circle class="d" cx="419.5" cy="137.5" r="4.1"/>
<circle class="d" cx="421.5" cy="140.5" r="4.1"/>
<circle class="d" cx="422.5" cy="128.5" r="4.1"/>
<circle class="d" cx="423.5" cy="132.5" r="4.1"/>
<circle class="d" cx="425.5" cy="132.5" r="4.1"/>
<circle class="d" cx="426.5" cy="129.5" r="4.1"/>
<circle class="d" cx="427.5" cy="149.5" r="4.1"/>
<circle class="d" cx="428.5" cy="163.5" r="4.1"/>
<circle class="d" cx="430.5" cy="168.5" r="4.1"/>
<circle class="d" cx="431.5" cy="139.5" r="4.1"/>
<circle class="d" cx="432.5" cy="136.5" r="4.1"/>
<circle class="d" cx="434.5" cy="128.5" r="4.1"/>
<circle class="d" cx="435.5" cy="132.5" r="4.1"/>
<circle class="d" cx="436.5" cy="153.5" r="4.1"/>
<circle class="d" cx="437.5" cy="154.5" r="4.1"/>
<circle class="d" cx="439.5" cy="160.5" r="4.1"/>
<circle class="d" cx="440.5" cy="141.5" r="4.1"/>
<circle class="d" cx="441.5" cy="127.5" r="4.1"/>
<circle class="d" cx="443.5" cy="132.5" r="4.1"/>
<circle class="d" cx="444.5" cy="137.5" r="4.1"/>
<circle class="d" cx="445.5" cy="144.5" r="4.1"/>
<circle class="d" cx="446.5" cy="146.5" r="4.1"/>
<circle class="d" cx="448.5" cy="150.5" r="4.1"/>
<circle class="d" cx="449.5" cy="140.5" r="4.1"/>
<circle class="d" cx="450.5" cy="128.5" r="4.1"/>
<circle class="d" cx="452.5" cy="127.5" r="4.1"/>
<circle class="d" cx="453.5" cy="138.5" r="4.1"/>
<circle class="d" cx="454.5" cy="147.5" r="4.1"/>
<circle class="d" cx="455.5" cy="151.5" r="4.1"/>
<circle class="d" cx="457.5" cy="160.5" r="4.1"/>
<circle class="d" cx="458.5" cy="148.5" r="4.1"/>
<circle class="d" cx="459.5" cy="148.5" r="4.1"/>
<circle class="d" cx="461.5" cy="136.5" r="4.1"/>
<circle class="d" cx="462.5" cy="144.5" r="4.1"/>
<circle class="d" cx="463.5" cy="153.5" r="4.1"/>
<circle class="d" cx="465.5" cy="170.5" r="4.1"/>
<circle class="d" cx="466.5" cy="169.5" r="4.1"/>
<circle class="d" cx="467.5" cy="154.5" r="4.1"/>
<circle class="d" cx="468.5" cy="149.5" r="4.1"/>
<circle class="d" cx="470.5" cy="148.5" r="4.1"/>
<circle class="d" cx="471.5" cy="155.5" r="4.1"/>
<circle class="d" cx="472.5" cy="165.5" r="4.1"/>
<circle class="d" cx="474.5" cy="176.5" r="4.1"/>
<circle class="d" cx="475.5" cy="176.5" r="4.1"/>
<circle class="d" cx="476.5" cy="174.5" r="4.1"/>
<circle class="d" cx="477.5" cy="166.5" r="4.1"/>
<circle class="d" cx="479.5" cy="160.5" r="4.1"/>
<circle class="d" cx="480.5" cy="165.5" r="4.1"/>
<circle class="d" cx="481.5" cy="177.5" r="4.1"/>
<circle class="d" cx="483.5" cy="191.5" r="4.1"/>
<circle class="d" cx="484.5" cy="187.5" r="4.1"/>
<circle class="d" cx="485.5" cy="181.5" r="4.1"/>
<circle class="d" cx="486.5" cy="174.5" r="4.1"/>
<circle class="d" cx="488.5" cy="170.5" r="4.1"/>
<circle class="d" cx="489.5" cy="180.5" r="4.1"/>
<circle class="d" cx="490.5" cy="198.5" r="4.1"/>
<circle class="d" cx="492.5" cy="205.5" r="4.1"/>
<circle class="d" cx="493.5" cy="200.5" r="4.1"/>
<circle class="d" cx="494.5" cy="195.5" r="4.1"/>
<circle class="d" cx="495.5" cy="186.5" r="4.1"/>
<circle class="d" cx="497.5" cy="187.5" r="4.1"/>
<circle class="d" cx="498.5" cy="188.5" r="4.1"/>
<circle class="d" cx="499.5" cy="203.5" r="4.1"/>
<circle class="d" cx="501.5" cy="214.5" r="4.1"/>
<circle class="d" cx="502.5" cy="211.5" r="4.1"/>
<circle class="d" cx="503.5" cy="203.5" r="4.1"/>
<circle class="d" cx="504.5" cy="194.5" r="4.1"/>
<circle class="d" cx="506.5" cy="191.5" r="4.1"/>
<circle class="d" cx="507.5" cy="194.5" r="4.1"/>
<circle class="d" cx="508.5" cy="217.5" r="4.1"/>
<circle class="d" cx="510.5" cy="218.5" r="4.1"/>
<circle class="d" cx="511.5" cy="214.5" r="4.1"/>
<circle class="d" cx="512.5" cy="198.5" r="4.1"/>
<circle class="d" cx="513.5" cy="186.5" r="4.1"/>
<circle class="d" cx="515.5" cy="186.5" r="4.1"/>
<circle class="d" cx="516.5" cy="195.5" r="4.1"/>
<circle class="d" cx="517.5" cy="211.5" r="4.1"/>
<circle class="d" cx="519.5" cy="220.5" r="4.1"/>
<circle class="d" cx="520.5" cy="218.5" r="4.1"/>
<circle class="d" cx="521.5" cy="201.5" r="4.1"/>
<circle class="d" cx="522.5" cy="193.5" r="4.1"/>
<circle class="d" cx="524.5" cy="189.5" r="4.1"/>
<circle class="d" cx="525.5" cy="189.5" r="4.1"/>
<circle class="d" cx="526.5" cy="207.5" r="4.1"/>
<circle class="d" cx="528.5" cy="226.5" r="4.1"/>
<circle class="d" cx="529.5" cy="221.5" r="4.1"/>
<circle class="d" cx="530.5" cy="205.5" r="4.1"/>
<circle class="d" cx="531.5" cy="187.5" r="4.1"/>
<circle class="d" cx="533.5" cy="192.5" r="4.1"/>
<circle class="d" cx="534.5" cy="195.5" r="4.1"/>
<circle class="d" cx="535.5" cy="207.5" r="4.1"/>
<circle class="d" cx="537.5" cy="222.5" r="4.1"/>
<circle class="d" cx="538.5" cy="221.5" r="4.1"/>
<circle class="d" cx="539.5" cy="204.5" r="4.1"/>
<circle class="d" cx="540.5" cy="196.5" r="4.1"/>
<circle class="d" cx="542.5" cy="183.5" r="4.1"/>
<circle class="d" cx="543.5" cy="192.5" r="4.1"/>
<circle class="d" cx="544.5" cy="209.5" r="4.1"/>
<circle class="d" cx="546.5" cy="209.5" r="4.1"/>
<circle class="d" cx="547.5" cy="209.5" r="4.1"/>
<circle class="d" cx="548.5" cy="195.5" r="4.1"/>
<circle class="d" cx="549.5" cy="173.5" r="4.1"/>
<circle class="d" cx="551.5" cy="177.5" r="4.1"/>
<circle class="d" cx="552.5" cy="178.5" r="4.1"/>
<circle class="d" cx="553.5" cy="185.5" r="4.1"/>
<circle class="d" cx="555.5" cy="193.5" r="4.1"/>
<circle class="d" cx="556.5" cy="193.5" r="4.1"/>
<circle class="d" cx="557.5" cy="183.5" r="4.1"/>
<circle class="d" cx="558.5" cy="167.5" r="4.1"/>
<circle class="d" cx="560.5" cy="162.5" r="4.1"/>
<circle class="d" cx="561.5" cy="169.5" r="4.1"/>
<circle class="d" cx="562.5" cy="182.5" r="4.1"/>
<circle class="d" cx="564.5" cy="186.5" r="4.1"/>
<circle class="d" cx="565.5" cy="186.5" r="4.1"/>
<circle class="d" cx="566.5" cy="170.5" r="4.1"/>
<circle class="d" cx="567.5" cy="169.5" r="4.1"/>
<circle class="d" cx="569.5" cy="159.5" r="4.1"/>
<circle class="d" cx="570.5" cy="170.5" r="4.1"/>
<circle class="d" cx="571.5" cy="170.5" r="4.1"/>
<circle class="d" cx="573.5" cy="185.5" r="4.1"/>
<circle class="d" cx="574.5" cy="186.5" r="4.1"/>
<circle class="d" cx="575.5" cy="175.5" r="4.1"/>
<circle class="d" cx="577.5" cy="168.5" r="4.1"/>
<circle class="d" cx="578.5" cy="163.5" r="4.1"/>
<circle class="d" cx="579.5" cy="175.5" r="4.1"/>
<circle class="d" cx="580.5" cy="188.5" r="4.1"/>
<circle class="d" cx="582.5" cy="192.5" r="4.1"/>
<circle class="d" cx="583.5" cy="189.5" r="4.1"/>
<circle class="d" cx="584.5" cy="184.5" r="4.1"/>
<circle class="d" cx="586.5" cy="170.5" r="4.1"/>
<circle class="d" cx="587.5" cy="168.5" r="4.1"/>
<circle class="d" cx="588.5" cy="179.5" r="4.1"/>
<circle class="d" cx="589.5" cy="185.5" r="4.1"/>
<circle class="d" cx="591.5" cy="191.5" r="4.1"/>
<circle class="d" cx="592.5" cy="194.5" r="4.1"/>
<circle class="d" cx="593.5" cy="178.5" r="4.1"/>
<circle class="d" cx="595.5" cy="172.5" r="4.1"/>
<circle class="d" cx="596.5" cy="168.5" r="4.1"/>
<circle class="d" cx="597.5" cy="179.5" r="4.1"/>
<circle class="d" cx="598.5" cy="182.5" r="4.1"/>
<circle class="d" cx="600.5" cy="186.5" r="4.1"/>
<circle class="d" cx="601.5" cy="193.5" r="4.1"/>
<circle class="d" cx="602.5" cy="187.5" r="4.1"/>
<circle class="d" cx="604.5" cy="179.5" r="4.1"/>
<circle class="d" cx="605.5" cy="182.5" r="4.1"/>
<circle class="d" cx="606.5" cy="194.5" r="4.1"/>
<circle class="d" cx="607.5" cy="203.5" r="4.1"/>
<circle class="d" cx="609.5" cy="213.5" r="4.1"/>
<circle class="d" cx="610.5" cy="215.5" r="4.1"/>
<circle class="d" cx="611.5" cy="207.5" r="4.1"/>
<circle class="d" cx="613.5" cy="204.5" r="4.1"/>
<circle class="d" cx="614.5" cy="201.5" r="4.1"/>
<circle class="d" cx="615.5" cy="208.5" r="4.1"/>
<circle class="d" cx="616.5" cy="222.5" r="4.1"/>
<circle class="d" cx="618.5" cy="229.5" r="4.1"/>
<circle class="d" cx="619.5" cy="234.5" r="4.1"/>
<circle class="d" cx="620.5" cy="222.5" r="4.1"/>
<circle class="d" cx="622.5" cy="217.5" r="4.1"/>
<circle class="d" cx="623.5" cy="216.5" r="4.1"/>
<circle class="d" cx="624.5" cy="222.5" r="4.1"/>
<circle class="d" cx="625.5" cy="235.5" r="4.1"/>
<circle class="d" cx="627.5" cy="241.5" r="4.1"/>
<circle class="d" cx="628.5" cy="247.5" r="4.1"/>
<circle class="d" cx="629.5" cy="244.5" r="4.1"/>
<circle class="d" cx="631.5" cy="239.5" r="4.1"/>
<circle class="d" cx="632.5" cy="239.5" r="4.1"/>
<circle class="d" cx="633.5" cy="248.5" r="4.1"/>
<circle class="d" cx="634.5" cy="266.5" r="4.1"/>
<circle class="d" cx="636.5" cy="279.5" r="4.1"/>
<circle class="d" cx="637.5" cy="279.5" r="4.1"/>
<circle class="d" cx="638.5" cy="267.5" r="4.1"/>
<circle class="d" cx="51.5" cy="567.5" r="4.1"/>
<circle class="d" cx="55.5" cy="567.5" r="4.1"/>
<circle class="d" cx="64.5" cy="533.5" r="4.1"/>
<circle class="d" cx="58.5" cy="488.5" r="4.1"/>
<circle class="d" cx="60.5" cy="472.5" r="4.1"/>
<circle class="d" cx="59.5" cy="441.5" r="4.1"/>
<circle class="d" cx="62.5" cy="438.5" r="4.1"/>
<circle class="d" cx="63.5" cy="426.5" r="4.1"/>
<circle class="d" cx="66.5" cy="428.5" r="4.1"/>
<circle class="d" cx="67.5" cy="354.5" r="4.1"/>
<circle class="d" cx="68.5" cy="336.5" r="4.1"/>
<circle class="d" cx="69.5" cy="322.5" r="4.1"/>
<circle class="d" cx="71.5" cy="317.5" r="4.1"/>
<circle class="d" cx="732.5" cy="120.5" r="4.1"/>
<circle class="d" cx="741.5" cy="120.5" r="4.1"/>
<circle class="d" cx="723.5" cy="128.5" r="4.1"/>
<circle class="d" cx="714.5" cy="144.5" r="4.1"/>
<circle class="d" cx="705.5" cy="162.5" r="4.1"/>
<circle class="d" cx="696.5" cy="178.5" r="4.1"/>
<circle class="d" cx="687.5" cy="206.5" r="4.1"/>
<circle class="d" cx="679.5" cy="219.5" r="4.1"/>
<circle class="d" cx="660.5" cy="242.5" r="4.1"/>
<circle class="d" cx="669.5" cy="243.5" r="4.1"/>
<circle class="d" cx="67.5" cy="355.5" r="4.1"/>
<circle class="d" cx="68.5" cy="336.5" r="4.1"/>
<circle class="d" cx="69.5" cy="322.5" r="4.1"/>
<circle class="d" cx="72.5" cy="316.5" r="4.1"/>
<circle class="d" cx="75.5" cy="298.5" r="4.1"/>
<circle class="d" cx="77.5" cy="283.5" r="4.1"/>
<circle class="d" cx="73.5" cy="287.5" r="4.1"/>
<circle class="d" cx="80.5" cy="263.5" r="4.1"/>
<circle class="d" cx="84.5" cy="267.5" r="4.1"/>
<circle class="d" cx="78.5" cy="248.5" r="4.1"/>
<circle class="d" cx="87.5" cy="245.5" r="4.1"/>
<circle class="d" cx="82.5" cy="223.5" r="4.1"/>
<circle class="d" cx="86.5" cy="230.5" r="4.1"/>
<circle class="d" cx="91.5" cy="233.5" r="4.1"/>
<circle class="d" cx="93.5" cy="228.5" r="4.1"/>
<circle class="d" cx="139.5" cy="161.5" r="4.1"/>
<circle class="d" cx="141.5" cy="171.5" r="4.1"/>
<circle class="d" cx="138.5" cy="217.5" r="4.1"/>
<circle class="d" cx="211.5" cy="202.5" r="4.1"/>
<circle class="d" cx="360.5" cy="124.5" r="4.1"/>
<circle class="d" cx="365.5" cy="130.5" r="4.1"/>
<circle class="d" cx="364.5" cy="138.5" r="4.1"/>
<circle class="d" cx="357.5" cy="139.5" r="4.1"/>
<circle class="d" cx="287.5" cy="144.5" r="4.1"/>
<circle class="d" cx="288.5" cy="178.5" r="4.1"/>
<circle class="d" cx="441.5" cy="107.5" r="4.1"/>
<circle class="d" cx="534.5" cy="241.5" r="4.1"/>
<circle class="d" cx="651.5" cy="317.5" r="4.1"/>
<circle class="d" cx="656.5" cy="341.5" r="4.1"/>
<circle class="d" cx="737.5" cy="150.5" r="4.1"/>
<circle class="d" cx="746.5" cy="150.5" r="4.1"/>
<circle class="d" cx="743.5" cy="154.5" r="4.1"/>
<circle class="d" cx="744.5" cy="159.5" r="4.1"/>
<circle class="d" cx="726.5" cy="162.5" r="4.1"/>
<circle class="d" cx="735.5" cy="163.5" r="4.1"/>
<circle class="d" cx="729.5" cy="167.5" r="4.1"/>
<circle class="d" cx="735.5" cy="169.5" r="4.1"/>
<circle class="d" cx="743.5" cy="174.5" r="4.1"/>
<circle class="d" cx="738.5" cy="172.5" r="4.1"/>
<circle class="d" cx="718.5" cy="174.5" r="4.1"/>
<circle class="d" cx="723.5" cy="176.5" r="4.1"/>
<circle class="d" cx="714.5" cy="180.5" r="4.1"/>
<circle class="d" cx="726.5" cy="173.5" r="4.1"/>
<circle class="d" cx="710.5" cy="186.5" r="4.1"/>
<circle class="d" cx="717.5" cy="186.5" r="4.1"/>
<circle class="d" cx="708.5" cy="192.5" r="4.1"/>
<circle class="d" cx="699.5" cy="195.5" r="4.1"/>
<circle class="d" cx="709.5" cy="203.5" r="4.1"/>
<circle class="d" cx="705.5" cy="204.5" r="4.1"/>
<circle class="d" cx="701.5" cy="210.5" r="4.1"/>
<circle class="d" cx="699.5" cy="231.5" r="4.1"/>
<circle class="d" cx="691.5" cy="236.5" r="4.1"/>
<circle class="d" cx="697.5" cy="243.5" r="4.1"/>
<circle class="d" cx="690.5" cy="243.5" r="4.1"/>
<circle class="d" cx="692.5" cy="248.5" r="4.1"/>
<circle class="d" cx="682.5" cy="251.5" r="4.1"/>
<circle class="d" cx="687.5" cy="255.5" r="4.1"/>
<circle class="d" cx="673.5" cy="267.5" r="4.1"/>
<circle class="d" cx="681.5" cy="267.5" r="4.1"/>
<circle class="d" cx="674.5" cy="279.5" r="4.1"/>
<circle class="d" cx="640.5" cy="249.5" r="4.1"/>
<circle class="d" cx="641.5" cy="258.5" r="4.1"/>
<circle class="d" cx="646.5" cy="273.5" r="4.1"/>
<circle class="d" cx="643.5" cy="278.5" r="4.1"/>
<circle class="d" cx="654.5" cy="279.5" r="4.1"/>
<circle class="d" cx="650.5" cy="288.5" r="4.1"/>
<circle class="d" cx="665.5" cy="288.5" r="4.1"/>
<circle class="d" cx="670.5" cy="288.5" r="4.1"/>
<circle class="d" cx="645.5" cy="294.5" r="4.1"/>
<circle class="d" cx="654.5" cy="294.5" r="4.1"/>
<circle class="d" cx="663.5" cy="296.5" r="4.1"/>
<circle class="d" cx="672.5" cy="294.5" r="4.1"/>
<circle class="d" cx="642.5" cy="297.5" r="4.1"/>
<circle class="d" cx="652.5" cy="302.5" r="4.1"/>
<circle class="d" cx="660.5" cy="309.5" r="4.1"/>
<line x1="749.0" x2="749.0" y1="567.5" y2="15.5" stroke="#1f77b4" stroke-opacity="0.5" stroke-width="2.08" stroke-dasharray="7.71 3.33"/>
</g>
<rect x="50.5" y="15.5" width="735.0" height="552.0" fill="none" stroke="#000" stroke-width="1.11" stroke-linejoin="miter"/>
<line x1="45.09" x2="50.50" y1="454.50" y2="454.50" stroke="#000" stroke-width="1.11"/>
<line x1="45.09" x2="50.50" y1="342.50" y2="342.50" stroke="#000" stroke-width="1.11"/>
<line x1="45.09" x2="50.50" y1="229.50" y2="229.50" stroke="#000" stroke-width="1.11"/>
<line x1="45.09" x2="50.50" y1="116.50" y2="116.50" stroke="#000" stroke-width="1.11"/>
<line x1="45.09" x2="50.50" y1="567.50" y2="567.50" stroke="#000" stroke-width="1.11"/>
<line x1="47.17" x2="50.50" y1="533.50" y2="533.50" stroke="#000" stroke-width="0.83"/>
<line x1="47.17" x2="50.50" y1="513.50" y2="513.50" stroke="#000" stroke-width="0.83"/>
<line x1="47.17" x2="50.50" y1="499.50" y2="499.50" stroke="#000" stroke-width="0.83"/>
<line x1="47.17" x2="50.50" y1="488.50" y2="488.50" stroke="#000" stroke-width="0.83"/>
<line x1="47.17" x2="50.50" y1="479.50" y2="479.50" stroke="#000" stroke-width="0.83"/>
<line x1="47.17" x2="50.50" y1="472.50" y2="472.50" stroke="#000" stroke-width="0.83"/>
<line x1="47.17" x2="50.50" y1="465.50" y2="465.50" stroke="#000" stroke-width="0.83"/>
<line x1="47.17" x2="50.50" y1="460.50" y2="460.50" stroke="#000" stroke-width="0.83"/>
<line x1="47.17" x2="50.50" y1="420.50" y2="420.50" stroke="#000" stroke-width="0.83"/>
<line x1="47.17" x2="50.50" y1="401.50" y2="401.50" stroke="#000" stroke-width="0.83"/>
<line x1="47.17" x2="50.50" y1="386.50" y2="386.50" stroke="#000" stroke-width="0.83"/>
<line x1="47.17" x2="50.50" y1="376.50" y2="376.50" stroke="#000" stroke-width="0.83"/>
<line x1="47.17" x2="50.50" y1="367.50" y2="367.50" stroke="#000" stroke-width="0.83"/>
<line x1="47.17" x2="50.50" y1="359.50" y2="359.50" stroke="#000" stroke-width="0.83"/>
<line x1="47.17" x2="50.50" y1="353.50" y2="353.50" stroke="#000" stroke-width="0.83"/>
<line x1="47.17" x2="50.50" y1="347.50" y2="347.50" stroke="#000" stroke-width="0.83"/>
<line x1="47.17" x2="50.50" y1="308.50" y2="308.50" stroke="#000" stroke-width="0.83"/>
<line x1="47.17" x2="50.50" y1="288.50" y2="288.50" stroke="#000" stroke-width="0.83"/>
<line x1="47.17" x2="50.50" y1="274.50" y2="274.50" stroke="#000" stroke-width="0.83"/>
<line x1="47.17" x2="50.50" y1="263.50" y2="263.50" stroke="#000" stroke-width="0.83"/>
<line x1="47.17" x2="50.50" y1="254.50" y2="254.50" stroke="#000" stroke-width="0.83"/>
<line x1="47.17" x2="50.50" y1="246.50" y2="246.50" stroke="#000" stroke-width="0.83"/>
<line x1="47.17" x2="50.50" y1="240.50" y2="240.50" stroke="#000" stroke-width="0.83"/>
<line x1="47.17" x2="50.50" y1="234.50" y2="234.50" stroke="#000" stroke-width="0.83"/>
<line x1="47.17" x2="50.50" y1="195.50" y2="195.50" stroke="#000" stroke-width="0.83"/>
<line x1="47.17" x2="50.50" y1="175.50" y2="175.50" stroke="#000" stroke-width="0.83"/>
<line x1="47.17" x2="50.50" y1="161.50" y2="161.50" stroke="#000" stroke-width="0.83"/>
<line x1="47.17" x2="50.50" y1="150.50" y2="150.50" stroke="#000" stroke-width="0.83"/>
<line x1="47.17" x2="50.50" y1="141.50" y2="141.50" stroke="#000" stroke-width="0.83"/>
<line x1="47.17" x2="50.50" y1="134.50" y2="134.50" stroke="#000" stroke-width="0.83"/>
<line x1="47.17" x2="50.50" y1="127.50" y2="127.50" stroke="#000" stroke-width="0.83"/>
<line x1="47.17" x2="50.50" y1="121.50" y2="121.50" stroke="#000" stroke-width="0.83"/>
<line x1="47.17" x2="50.50" y1="82.50" y2="82.50" stroke="#000" stroke-width="0.83"/>
<line x1="47.17" x2="50.50" y1="62.50" y2="62.50" stroke="#000" stroke-width="0.83"/>
<line x1="47.17" x2="50.50" y1="48.50" y2="48.50" stroke="#000" stroke-width="0.83"/>
<line x1="47.17" x2="50.50" y1="37.50" y2="37.50" stroke="#000" stroke-width="0.83"/>
<line x1="47.17" x2="50.50" y1="28.50" y2="28.50" stroke="#000" stroke-width="0.83"/>
<line x1="47.17" x2="50.50" y1="21.50" y2="21.50" stroke="#000" stroke-width="0.83"/>
<line x1="86.50" x2="86.50" y1="567.5" y2="572.91" stroke="#000" stroke-width="1.11"/>
<line x1="125.50" x2="125.50" y1="567.5" y2="570.83" stroke="#000" stroke-width="0.83"/>
<line x1="164.50" x2="164.50" y1="567.5" y2="570.83" stroke="#000" stroke-width="0.83"/>
<line x1="203.50" x2="203.50" y1="567.5" y2="572.91" stroke="#000" stroke-width="1.11"/>
<line x1="243.50" x2="243.50" y1="567.5" y2="570.83" stroke="#000" stroke-width="0.83"/>
<line x1="283.50" x2="283.50" y1="567.5" y2="570.83" stroke="#000" stroke-width="0.83"/>
<line x1="321.50" x2="321.50" y1="567.5" y2="572.91" stroke="#000" stroke-width="1.11"/>
<line x1="361.50" x2="361.50" y1="567.5" y2="570.83" stroke="#000" stroke-width="0.83"/>
<line x1="400.50" x2="400.50" y1="567.5" y2="570.83" stroke="#000" stroke-width="0.83"/>
<line x1="440.50" x2="440.50" y1="567.5" y2="572.91" stroke="#000" stroke-width="1.11"/>
<line x1="480.50" x2="480.50" y1="567.5" y2="570.83" stroke="#000" stroke-width="0.83"/>
<line x1="516.50" x2="516.50" y1="567.5" y2="570.83" stroke="#000" stroke-width="0.83"/>
<line x1="556.50" x2="556.50" y1="567.5" y2="572.91" stroke="#000" stroke-width="1.11"/>
<line x1="594.50" x2="594.50" y1="567.5" y2="570.83" stroke="#000" stroke-width="0.83"/>
<line x1="634.50" x2="634.50" y1="567.5" y2="570.83" stroke="#000" stroke-width="0.83"/>
<line x1="673.50" x2="673.50" y1="567.5" y2="572.91" stroke="#000" stroke-width="1.11"/>
<line x1="713.50" x2="713.50" y1="567.5" y2="570.83" stroke="#000" stroke-width="0.83"/>
<line x1="753.50" x2="753.50" y1="567.5" y2="570.83" stroke="#000" stroke-width="0.83"/>
<line x1="50.50" x2="50.50" y1="567.5" y2="572.91" stroke="#000" stroke-width="1.11"/>
<line x1="785.50" x2="785.50" y1="567.5" y2="572.91" stroke="#000" stroke-width="1.11"/>
<rect x="57.4" y="22.4" width="158.2" height="24.800000000000004" rx="2.8" ry="2.8" fill="#fff" fill-opacity="0.8" stroke="#ccc" stroke-opacity="0.8" stroke-width="1.39"/>
<line x1="62.0" x2="91.0" y1="34.00" y2="34.00" stroke="#1f77b4" stroke-width="2.08"/>

<g clip-path="url(#c2)">
<path d="M50.5,1175.4L51.8,1175.4L53.1,1175.4L54.4,1175.4L55.6,1145.4L56.9,1081.7L58.2,1081.7L59.5,1081.7L60.8,1081.7L62.1,1081.7L63.4,1081.7L64.7,1081.7L65.9,1044.4L67.2,1017.9L68.5,997.4L69.8,997.4L71.1,980.7L72.4,966.5L73.7,954.2L75.0,924.9L76.2,909.6L77.5,890.5L78.8,874.7L80.1,857.3L81.4,838.7L82.7,825.0L84.0,813.3L85.3,787.9L86.5,771.7L87.8,758.1L89.1,750.3L90.4,736.3L91.7,727.3L93.0,716.3L94.3,704.0L95.6,699.7L96.8,691.8L98.1,688.2L99.4,678.3L100.7,675.3L102.0,672.8L103.3,672.6L104.6,663.1L105.9,658.8L107.1,656.6L108.4,656.9L109.7,651.2L111.0,652.0L112.3,642.0L113.6,646.5L114.9,644.1L116.2,636.5L117.4,638.2L118.7,638.9L120.0,635.3L121.3,637.3L122.6,640.6L123.9,636.0L125.2,635.0L126.5,634.2L127.7,637.8L129.0,636.2L130.3,636.7L131.6,637.3L132.9,639.5L134.2,636.0L135.5,635.4L136.7,633.7L138.0,642.4L139.3,640.2L140.6,643.9L141.9,640.9L143.2,639.9L144.5,643.8L145.8,643.8L147.0,642.6L148.3,644.9L149.6,652.4L150.9,650.5L152.2,651.9L153.5,651.6L154.8,651.9L156.1,656.3L157.3,655.9L158.6,655.6L159.9,658.2L161.2,657.6L162.5,661.4L163.8,664.9L165.1,661.9L166.4,669.0L167.6,663.6L168.9,670.8L170.2,671.0L171.5,675.0L172.8,678.2L174.1,679.5L175.4,681.4L176.7,684.0L177.9,686.3L179.2,679.8L180.5,693.0L181.8,697.5L183.1,701.7L184.4,697.8L185.7,711.5L187.0,709.5L188.2,710.5L189.5,718.5L190.8,714.3L192.1,721.4L193.4,719.5L194.7,725.1L196.0,722.6L197.3,731.4L198.5,732.7L199.8,733.9L201.1,743.1L202.4,744.0L203.7,745.4L205.0,746.6L206.3,751.3L207.6,751.0L208.8,754.6L210.1,762.1L211.4,759.1L212.7,764.9L214.0,767.9L215.3,768.8L216.6,773.1L217.8,776.6L219.1,780.6L220.4,784.0L221.7,780.9L223.0,785.9L224.3,785.4L225.6,793.2L226.9,790.3L228.1,790.0L229.4,792.1L230.7,793.9L232.0,797.5L233.3,797.5L234.6,800.7L235.9,797.9L237.2,804.4L238.4,801.9L239.7,808.4L241.0,803.8L242.3,806.9L243.6,801.0L244.9,804.9L246.2,801.6L247.5,802.1L248.7,802.9L250.0,801.8L251.3,802.6L252.6,803.0L253.9,801.9L255.2,799.3L256.5,795.3L257.8,795.6L259.0,796.1L260.3,790.9L261.6,796.8L262.9,793.8L264.2,793.1L265.5,789.3L266.8,793.9L268.1,792.3L269.3,788.8L270.6,785.5L271.9,790.5L273.2,787.0L274.5,790.8L275.8,788.9L277.1,782.5L278.4,786.7L279.6,782.8L280.9,787.6L282.2,777.9L283.5,781.1L284.8,780.8L286.1,782.4L287.4,780.9L288.7,784.3L289.9,781.7L291.2,778.7L292.5,780.0L293.8,773.3L295.1,777.9L296.4,778.5L297.7,775.4L298.9,773.5L300.2,775.7L301.5,778.1L302.8,773.3L304.1,769.5L305.4,774.6L306.7,766.2L308.0,770.9L309.2,767.6L310.5,770.3L311.8,765.5L313.1,769.7L314.4,766.5L315.7,761.2L317.0,759.9L318.3,762.9L319.5,765.8L320.8,762.2L322.1,761.2L323.4,759.6L324.7,760.9L326.0,753.9L327.3,757.9L328.6,753.9L329.8,757.9L331.1,757.2L332.4,749.9L333.7,757.0L335.0,752.2L336.3,748.1L337.6,743.5L338.9,746.7L340.1,746.1L341.4,739.9L342.7,737.1L344.0,741.7L345.3,735.5L346.6,733.3L347.9,738.2L349.2,733.0L350.4,726.1L351.7,718.5L353.0,716.8L354.3,706.3L355.6,706.6L356.9,705.1L358.2,702.1L359.5,699.4L360.7,701.5L362.0,697.0L363.3,693.0L364.6,690.1L365.9,681.5L367.2,676.0L368.5,670.4L369.8,667.0L371.0,669.0L372.3,664.4L373.6,663.8L374.9,657.2L376.2,656.3L377.5,652.6L378.8,647.9L380.0,649.7L381.3,640.0L382.6,629.7L383.9,625.4L385.2,623.6L386.5,614.2L387.8,619.3L389.1,612.9L390.3,612.9L391.6,609.5L392.9,608.9L394.2,605.3L395.5,603.0L396.8,602.7L398.1,601.6L399.4,600.9L400.6,600.7L401.9,595.4L403.2,600.6L404.5,597.4L405.8,599.1L407.1,595.5L408.4,600.4L409.7,598.6L410.9,595.0L412.2,600.8L413.5,602.0L414.8,595.0L416.1,600.3L417.4,601.8L418.7,599.3L420.0,602.2L421.2,603.3L422.5,607.4L423.8,607.6L425.1,613.5L426.4,607.0L427.7,611.0L429.0,608.9L430.3,609.8L431.5,607.1L432.8,606.1L434.1,609.8L435.4,614.7L436.7,618.0L438.0,608.6L439.3,619.0L440.6,618.1L441.8,625.9L443.1,627.7L444.4,625.4L445.7,628.3L447.0,627.9L448.3,635.2L449.6,634.4L450.9,634.6L452.1,637.1L453.4,638.2L454.7,637.2L456.0,636.2L457.3,637.0L458.6,636.9L459.9,642.9L461.1,648.1L462.4,640.4L463.7,645.9L465.0,647.9L466.3,646.0L467.6,650.1L468.9,648.3L470.2,654.8L471.4,651.9L472.7,654.7L474.0,657.4L475.3,656.2L476.6,654.6L477.9,655.1L479.2,664.3L480.5,664.4L481.7,667.2L483.0,666.1L484.3,670.8L485.6,673.8L486.9,673.8L488.2,679.7L489.5,676.4L490.8,676.1L492.0,676.3L493.3,684.2L494.6,682.6L495.9,686.4L497.2,686.5L498.5,691.0L499.8,692.4L501.1,692.9L502.3,701.6L503.6,711.3L504.9,711.9L506.2,721.6L507.5,723.9L508.8,725.9L510.1,725.4L511.4,728.7L512.6,727.7L513.9,732.6L515.2,733.2L516.5,736.9L517.8,737.6L519.1,741.5L520.4,745.9L521.7,742.7L522.9,750.4L524.2,746.4L525.5,748.7L526.8,755.9L528.1,758.6L529.4,762.0L530.7,759.5L532.0,765.3L533.2,767.8L534.5,772.3L535.8,769.7L537.1,773.8L538.4,771.8L539.7,775.0L541.0,775.5L542.2,779.0L543.5,775.7L544.8,776.7L546.1,780.5L547.4,783.7L548.7,780.8L550.0,780.7L551.3,779.1L552.5,780.2L553.8,780.3L555.1,782.5L556.4,775.7L557.7,775.3L559.0,775.7L560.3,774.4L561.6,773.4L562.8,778.7L564.1,777.2L565.4,772.0L566.7,778.2L568.0,773.9L569.3,764.7L570.6,767.0L571.9,770.4L573.1,758.3L574.4,763.8L575.7,767.1L577.0,766.3L578.3,758.3L579.6,764.2L580.9,763.0L582.2,759.2L583.4,759.2L584.7,757.0L586.0,754.5L587.3,754.4L588.6,757.1L589.9,749.4L591.2,752.0L592.5,750.7L593.7,747.8L595.0,747.7L596.3,745.1L597.6,746.0L598.9,747.8L600.2,748.2L601.5,745.1L602.8,753.9L604.0,745.3L605.3,746.7L606.6,745.7L607.9,745.2L609.2,749.5L610.5,743.1L611.8,750.8L613.1,751.2L614.3,747.1L615.6,752.9L616.9,750.3L618.2,759.7L619.5,754.4L620.8,755.1L622.1,754.9L623.3,758.5L624.6,762.5L625.9,764.1L627.2,760.3L628.5,770.3L629.8,774.1L631.1,780.5L632.4,775.8L633.6,781.0L634.9,782.7L636.2,784.0L637.5,787.1L638.8,790.5L640.1,796.8L641.4,793.3L642.7,799.1L643.9,804.3L645.2,806.1L646.5,807.5L647.8,811.5L649.1,811.3L650.4,817.2L651.7,819.4L653.0,820.0L654.2,820.7L655.5,829.6L656.8,828.9L658.1,837.2L659.4,832.3L660.7,838.3L662.0,838.0L663.3,837.0L664.5,846.2L665.8,838.5L667.1,849.1L668.4,849.1L669.7,854.1L671.0,853.1L672.3,860.4L673.6,861.2L674.8,865.5L676.1,861.2L677.4,861.2L678.7,865.5L680.0,870.0L681.3,874.7L682.6,870.0L683.9,874.7L685.1,884.9L686.4,879.7L687.7,879.7L689.0,884.9L690.3,890.5L691.6,879.7L692.9,884.9L694.2,896.4L695.4,890.5L696.7,890.5L698.0,890.5L699.3,890.5L700.6,884.9L701.9,896.4L703.2,890.5L704.4,890.5L705.7,884.9L707.0,879.7L708.3,874.7L709.6,870.0L710.9,870.0L712.2,861.2L713.5,856.7L714.7,850.8L716.0,853.0L717.3,845.9L718.6,839.4L719.9,833.7L721.2,827.8L722.5,828.3L723.8,824.5L725.0,816.6L726.3,818.1L727.6,812.6L728.9,804.0L730.2,800.6L731.5,796.9L732.8,794.4L734.1,790.0L735.3,782.7L736.6,785.8L737.9,779.0L739.2,777.4L740.5,772.0L741.8,768.3L743.1,767.1L744.4,765.6L745.6,762.8L746.9,757.6L748.2,753.3L749.5,751.4L750.8,745.9L752.1,742.7L753.4,735.3L754.7,736.2L755.9,729.8L757.2,727.0L758.5,724.3L759.8,721.3L761.1,721.2L762.4,713.7L763.7,706.2L765.0,705.5L766.2,698.6L767.5,693.1L768.8,686.3L770.1,673.0L771.4,675.7L772.7,670.5L774.0,662.7L775.2,659.8L776.5,654.7L777.8,650.4L779.1,640.5L780.4,635.2L781.7,633.1L783.0,629.2L785.5,626.2L785.5,954.2L783.0,954.2L781.7,966.5L780.4,954.2L779.1,954.2L777.8,966.5L776.5,954.2L775.2,966.5L774.0,943.4L772.7,954.2L771.4,943.4L770.1,954.2L768.8,943.4L767.5,954.2L766.2,966.5L765.0,954.2L763.7,966.5L762.4,966.5L761.1,966.5L759.8,966.5L758.5,966.5L757.2,966.5L755.9,966.5L754.7,966.5L753.4,966.5L752.1,966.5L750.8,954.2L749.5,966.5L748.2,954.2L746.9,966.5L745.6,966.5L744.4,980.7L743.1,997.4L741.8,980.7L740.5,997.4L739.2,1017.9L737.9,1017.9L736.6,1044.4L735.3,1044.4L734.1,1044.4L732.8,1044.4L731.5,1044.4L730.2,1081.7L728.9,1081.7L727.6,1081.7L726.3,1081.7L725.0,1081.7L723.8,1145.4L722.5,1145.4L721.2,1145.4L719.9,1145.4L718.6,1145.4L717.3,1145.4L716.0,1145.4L714.7,1145.4L713.5,1145.4L712.2,1145.4L710.9,1145.4L709.6,1145.4L708.3,1145.4L707.0,1145.4L705.7,1145.4L704.4,1145.4L703.2,1145.4L701.9,1145.4L700.6,1145.4L699.3,1145.4L698.0,1145.4L696.7,1145.4L695.4,1145.4L694.2,1145.4L692.9,1145.4L691.6,1145.4L690.3,1145.4L689.0,1145.4L687.7,1145.4L686.4,1145.4L685.1,1145.4L683.9,1145.4L682.6,1145.4L681.3,1145.4L680.0,1145.4L678.7,1145.4L677.4,1145.4L676.1,1145.4L674.8,1145.4L673.6,1145.4L672.3,1145.4L671.0,1145.4L669.7,1145.4L668.4,1145.4L667.1,1145.4L665.8,1145.4L664.5,1145.4L663.3,1145.4L662.0,1081.7L660.7,1081.7L659.4,1081.7L658.1,1081.7L656.8,1081.7L655.5,1081.7L654.2,1081.7L653.0,1081.7L651.7,1081.7L650.4,1044.4L649.1,1044.4L647.8,1044.4L646.5,1044.4L645.2,1044.4L643.9,1044.4L642.7,1044.4L641.4,1017.9L640.1,1017.9L638.8,1017.9L637.5,1017.9L636.2,1017.9L634.9,1017.9L633.6,1017.9L632.4,1017.9L631.1,1044.4L629.8,1017.9L628.5,1017.9L627.2,1017.9L625.9,1017.9L624.6,997.4L623.3,997.4L622.1,997.4L620.8,997.4L619.5,997.4L618.2,997.4L616.9,997.4L615.6,980.7L614.3,997.4L613.1,997.4L611.8,980.7L610.5,980.7L609.2,980.7L607.9,966.5L606.6,966.5L605.3,954.2L604.0,980.7L602.8,966.5L601.5,966.5L600.2,980.7L598.9,980.7L597.6,966.5L596.3,980.7L595.0,966.5L593.7,966.5L592.5,980.7L591.2,980.7L589.9,980.7L588.6,980.7L587.3,980.7L586.0,980.7L584.7,980.7L583.4,980.7L582.2,997.4L580.9,997.4L579.6,997.4L578.3,997.4L577.0,997.4L575.7,997.4L574.4,980.7L573.1,1017.9L571.9,997.4L570.6,997.4L569.3,1017.9L568.0,1017.9L566.7,1017.9L565.4,1017.9L564.1,1017.9L562.8,1044.4L561.6,1017.9L560.3,1017.9L559.0,1017.9L557.7,1017.9L556.4,1017.9L555.1,1017.9L553.8,1017.9L552.5,1017.9L551.3,1044.4L550.0,1017.9L548.7,1044.4L547.4,1017.9L546.1,1017.9L544.8,1044.4L543.5,1017.9L542.2,1017.9L541.0,1017.9L539.7,1017.9L538.4,1017.9L537.1,1017.9L535.8,1017.9L534.5,1017.9L533.2,997.4L532.0,1017.9L530.7,997.4L529.4,997.4L528.1,997.4L526.8,997.4L525.5,997.4L524.2,997.4L522.9,997.4L521.7,980.7L520.4,980.7L519.1,980.7L517.8,980.7L516.5,954.2L515.2,966.5L513.9,954.2L512.6,954.2L511.4,954.2L510.1,954.2L508.8,943.4L507.5,933.7L506.2,943.4L504.9,933.7L503.6,933.7L502.3,924.9L501.1,916.9L499.8,916.9L498.5,924.9L497.2,902.8L495.9,933.7L494.6,909.6L493.3,916.9L492.0,916.9L490.8,909.6L489.5,902.8L488.2,890.5L486.9,896.4L485.6,884.9L484.3,884.9L483.0,884.9L481.7,890.5L480.5,884.9L479.2,884.9L477.9,879.7L476.6,874.7L475.3,879.7L474.0,879.7L472.7,870.0L471.4,870.0L470.2,874.7L468.9,874.7L467.6,870.0L466.3,870.0L465.0,861.2L463.7,857.1L462.4,858.8L461.1,857.7L459.9,858.7L458.6,850.9L457.3,849.6L456.0,849.5L454.7,845.4L453.4,842.0L452.1,840.3L450.9,836.6L449.6,837.0L448.3,838.5L447.0,833.0L445.7,830.5L444.4,825.0L443.1,823.0L441.8,830.1L440.6,821.2L439.3,822.1L438.0,818.9L436.7,817.6L435.4,821.9L434.1,809.5L432.8,814.3L431.5,802.5L430.3,811.9L429.0,808.7L427.7,809.6L426.4,812.3L425.1,808.8L423.8,820.6L422.5,819.7L421.2,813.7L420.0,813.6L418.7,813.3L417.4,813.1L416.1,812.9L414.8,811.9L413.5,812.5L412.2,811.4L410.9,812.6L409.7,804.8L408.4,808.1L407.1,807.3L405.8,812.2L404.5,813.7L403.2,809.6L401.9,810.2L400.6,811.4L399.4,813.5L398.1,815.9L396.8,811.8L395.5,815.3L394.2,817.5L392.9,813.3L391.6,816.8L390.3,817.8L389.1,819.5L387.8,821.5L386.5,824.7L385.2,828.2L383.9,829.1L382.6,838.5L381.3,831.1L380.0,838.9L378.8,843.2L377.5,845.4L376.2,854.2L374.9,856.3L373.6,861.2L372.3,870.0L371.0,870.0L369.8,874.7L368.5,879.7L367.2,890.5L365.9,896.4L364.6,902.8L363.3,902.8L362.0,909.6L360.7,909.6L359.5,916.9L358.2,924.9L356.9,924.9L355.6,924.9L354.3,943.4L353.0,943.4L351.7,943.4L350.4,943.4L349.2,943.4L347.9,954.2L346.6,943.4L345.3,954.2L344.0,954.2L342.7,966.5L341.4,966.5L340.1,954.2L338.9,966.5L337.6,980.7L336.3,980.7L335.0,966.5L333.7,980.7L332.4,980.7L331.1,980.7L329.8,980.7L328.6,980.7L327.3,997.4L326.0,980.7L324.7,997.4L323.4,980.7L322.1,980.7L320.8,997.4L319.5,997.4L318.3,997.4L317.0,997.4L315.7,997.4L314.4,997.4L313.1,997.4L311.8,1017.9L310.5,1017.9L309.2,1017.9L308.0,1017.9L306.7,997.4L305.4,1017.9L304.1,997.4L302.8,1017.9L301.5,1017.9L300.2,1017.9L298.9,1017.9L297.7,1017.9L296.4,1017.9L295.1,1017.9L293.8,1017.9L292.5,1017.9L291.2,1017.9L289.9,1044.4L288.7,1017.9L287.4,1044.4L286.1,1017.9L284.8,1017.9L283.5,1017.9L282.2,1044.4L280.9,1044.4L279.6,1017.9L278.4,1044.4L277.1,1017.9L275.8,1017.9L274.5,1044.4L273.2,1017.9L271.9,1044.4L270.6,1044.4L269.3,1044.4L268.1,1044.4L266.8,1044.4L265.5,1044.4L264.2,1044.4L262.9,1044.4L261.6,1044.4L260.3,1044.4L259.0,1044.4L257.8,1044.4L256.5,1044.4L255.2,1044.4L253.9,1044.4L252.6,1044.4L251.3,1044.4L250.0,1044.4L248.7,1044.4L247.5,1044.4L246.2,1044.4L244.9,1044.4L243.6,1044.4L242.3,1044.4L241.0,1044.4L239.7,1044.4L238.4,1044.4L237.2,1044.4L235.9,1044.4L234.6,1044.4L233.3,1044.4L232.0,1044.4L230.7,1044.4L229.4,1044.4L228.1,1044.4L226.9,1044.4L225.6,1044.4L224.3,1044.4L223.0,1044.4L221.7,1017.9L220.4,1017.9L219.1,1017.9L217.8,1017.9L216.6,1017.9L215.3,1017.9L214.0,1017.9L212.7,997.4L211.4,997.4L210.1,980.7L208.8,997.4L207.6,980.7L206.3,980.7L205.0,997.4L203.7,980.7L202.4,954.2L201.1,966.5L199.8,954.2L198.5,954.2L197.3,954.2L196.0,954.2L194.7,954.2L193.4,943.4L192.1,954.2L190.8,954.2L189.5,943.4L188.2,943.4L187.0,943.4L185.7,933.7L184.4,933.7L183.1,909.6L181.8,916.9L180.5,909.6L179.2,916.9L177.9,916.9L176.7,909.6L175.4,902.8L174.1,896.4L172.8,902.8L171.5,896.4L170.2,890.5L168.9,890.5L167.6,879.7L166.4,879.7L165.1,884.9L163.8,879.7L162.5,890.5L161.2,874.7L159.9,879.7L158.6,879.7L157.3,879.7L156.1,874.7L154.8,874.7L153.5,874.7L152.2,870.0L150.9,870.0L149.6,865.5L148.3,858.3L147.0,858.6L145.8,858.3L144.5,853.9L143.2,853.8L141.9,857.2L140.6,851.7L139.3,852.2L138.0,847.0L136.7,849.1L135.5,848.2L134.2,842.6L132.9,847.2L131.6,842.5L130.3,843.5L129.0,846.6L127.7,842.2L126.5,842.8L125.2,839.8L123.9,845.2L122.6,846.7L121.3,846.8L120.0,845.5L118.7,846.9L117.4,850.4L116.2,849.6L114.9,849.2L113.6,854.8L112.3,854.6L111.0,856.4L109.7,857.7L108.4,860.6L107.1,861.2L105.9,865.5L104.6,870.0L103.3,884.9L102.0,884.9L100.7,890.5L99.4,896.4L98.1,909.6L96.8,902.8L95.6,909.6L94.3,916.9L93.0,916.9L91.7,943.4L90.4,954.2L89.1,980.7L87.8,997.4L86.5,1017.9L85.3,1044.4L84.0,1081.7L82.7,1081.7L81.4,1145.4L80.1,1175.4L78.8,1175.4L77.5,1175.4L76.2,1175.4L75.0,1175.4L73.7,1175.4L72.4,1175.4L71.1,1175.4L69.8,1175.4L68.5,1175.4L67.2,1175.4L65.9,1175.4L64.7,1175.4L63.4,1175.4L62.1,1175.4L60.8,1175.4L59.5,1175.4L58.2,1175.4L56.9,1175.4L55.6,1175.4L54.4,1175.4L53.1,1175.4L51.8,1175.4L50.5,1175.4Z" fill="rgb(31,119,180)" fill-opacity="0.1" stroke="rgb(31,119,180)" stroke-opacity="0.1" stroke-width="1.39" stroke-linejoin="round"/>
<path d="M50.5,1175.4L51.8,1175.4L53.1,1175.4L54.4,1175.4L55.6,1175.4L56.9,1175.4L58.2,1175.4L59.5,1175.4L60.8,1175.4L62.1,1175.4L63.4,1145.4L64.7,1081.7L65.9,1081.7L67.2,1081.7L68.5,1081.7L69.8,1044.4L71.1,1017.9L72.4,997.4L73.7,980.7L75.0,966.5L76.2,954.2L77.5,933.7L78.8,916.9L80.1,902.8L81.4,884.9L82.7,870.0L84.0,851.7L85.3,830.6L86.5,812.4L87.8,793.1L89.1,779.0L90.4,760.3L91.7,749.8L93.0,735.5L94.3,722.3L95.6,714.6L96.8,706.3L98.1,700.1L99.4,699.2L100.7,691.3L102.0,688.9L103.3,682.6L104.6,680.8L105.9,676.8L107.1,677.8L108.4,674.2L109.7,672.3L111.0,671.3L112.3,673.7L113.6,669.6L114.9,668.9L116.2,664.3L117.4,664.1L118.7,664.8L120.0,660.8L121.3,665.5L122.6,663.5L123.9,662.8L125.2,662.3L126.5,662.2L127.7,661.7L129.0,664.9L130.3,664.2L131.6,665.6L132.9,663.7L134.2,663.3L135.5,667.3L136.7,663.6L138.0,664.9L139.3,667.4L140.6,668.4L141.9,665.1L143.2,667.5L144.5,669.1L145.8,670.4L147.0,671.0L148.3,675.2L149.6,675.0L150.9,676.9L152.2,675.2L153.5,680.1L154.8,678.6L156.1,684.4L157.3,685.6L158.6,685.6L159.9,688.3L161.2,689.9L162.5,691.2L163.8,693.8L165.1,694.9L166.4,696.3L167.6,697.8L168.9,703.9L170.2,703.7L171.5,705.7L172.8,709.2L174.1,709.8L175.4,712.3L176.7,716.6L177.9,719.8L179.2,721.9L180.5,721.3L181.8,726.6L183.1,729.5L184.4,733.3L185.7,734.2L187.0,737.0L188.2,741.5L189.5,743.3L190.8,746.0L192.1,750.6L193.4,755.2L194.7,757.0L196.0,761.5L197.3,761.2L198.5,766.9L199.8,768.7L201.1,770.4L202.4,774.1L203.7,776.4L205.0,780.5L206.3,782.7L207.6,788.9L208.8,789.3L210.1,790.5L211.4,795.4L212.7,799.3L214.0,801.1L215.3,805.7L216.6,805.6L217.8,808.0L219.1,814.2L220.4,813.8L221.7,816.7L223.0,818.4L224.3,820.1L225.6,820.6L226.9,821.0L228.1,823.8L229.4,822.3L230.7,825.6L232.0,830.5L233.3,829.4L234.6,827.6L235.9,830.7L237.2,831.7L238.4,830.4L239.7,827.3L241.0,831.0L242.3,833.1L243.6,827.6L244.9,825.7L246.2,829.6L247.5,830.1L248.7,831.2L250.0,831.3L251.3,830.0L252.6,830.3L253.9,829.4L255.2,828.3L256.5,827.2L257.8,826.2L259.0,826.7L260.3,825.4L261.6,823.2L262.9,824.5L264.2,820.5L265.5,820.2L266.8,819.7L268.1,815.6L269.3,817.2L270.6,818.6L271.9,818.2L273.2,814.7L274.5,815.0L275.8,814.4L277.1,815.4L278.4,815.4L279.6,812.6L280.9,815.2L282.2,814.2L283.5,813.4L284.8,811.8L286.1,811.8L287.4,808.6L288.7,811.1L289.9,810.4L291.2,809.2L292.5,806.9L293.8,810.1L295.1,809.2L296.4,803.9L297.7,806.8L298.9,805.8L300.2,800.9L301.5,805.1L302.8,804.7L304.1,804.2L305.4,802.7L306.7,800.8L308.0,800.4L309.2,801.2L310.5,801.5L311.8,798.1L313.1,797.5L314.4,798.0L315.7,792.5L317.0,795.6L318.3,793.5L319.5,789.4L320.8,793.1L322.1,789.5L323.4,791.3L324.7,791.3L326.0,786.2L327.3,785.3L328.6,786.2L329.8,782.4L331.1,785.2L332.4,783.1L333.7,783.2L335.0,777.5L336.3,779.4L337.6,778.4L338.9,773.5L340.1,776.2L341.4,771.2L342.7,772.1L344.0,768.2L345.3,769.7L346.6,769.2L347.9,764.5L349.2,761.9L350.4,761.1L351.7,755.3L353.0,752.8L354.3,750.7L355.6,746.6L356.9,744.8L358.2,740.5L359.5,737.7L360.7,730.6L362.0,728.3L363.3,721.2L364.6,719.8L365.9,716.9L367.2,713.5L368.5,703.5L369.8,700.7L371.0,697.5L372.3,690.1L373.6,687.4L374.9,682.5L376.2,676.2L377.5,671.9L378.8,667.4L380.0,665.6L381.3,663.6L382.6,658.8L383.9,659.5L385.2,649.9L386.5,648.3L387.8,647.4L389.1,641.8L390.3,641.6L391.6,640.2L392.9,637.4L394.2,635.1L395.5,635.4L396.8,633.2L398.1,632.6L399.4,631.4L400.6,628.8L401.9,627.5L403.2,628.0L404.5,628.4L405.8,627.5L407.1,629.1L408.4,628.2L409.7,629.8L410.9,629.3L412.2,628.8L413.5,632.1L414.8,632.1L416.1,630.3L417.4,631.2L418.7,636.4L420.0,626.8L421.2,634.1L422.5,632.7L423.8,633.0L425.1,633.4L426.4,633.9L427.7,639.4L429.0,636.1L430.3,637.3L431.5,640.2L432.8,640.8L434.1,641.3L435.4,642.5L436.7,642.2L438.0,647.3L439.3,645.1L440.6,644.2L441.8,650.9L443.1,651.7L444.4,652.4L445.7,652.6L447.0,657.0L448.3,655.2L449.6,655.3L450.9,660.7L452.1,663.4L453.4,664.5L454.7,668.1L456.0,667.4L457.3,666.9L458.6,668.2L459.9,671.3L461.1,671.3L462.4,672.9L463.7,672.0L465.0,676.1L466.3,676.3L467.6,680.5L468.9,682.1L470.2,684.7L471.4,688.1L472.7,686.7L474.0,691.0L475.3,688.6L476.6,692.3L477.9,695.2L479.2,698.4L480.5,695.3L481.7,698.5L483.0,701.1L484.3,703.1L485.6,704.3L486.9,705.9L488.2,709.3L489.5,713.8L490.8,714.4L492.0,721.9L493.3,723.7L494.6,721.2L495.9,726.1L497.2,731.5L498.5,734.3L499.8,736.3L501.1,734.9L502.3,739.1L503.6,744.3L504.9,745.0L506.2,746.7L507.5,750.8L508.8,754.2L510.1,755.4L511.4,758.1L512.6,762.0L513.9,762.0L515.2,764.1L516.5,769.4L517.8,768.9L519.1,774.1L520.4,774.5L521.7,779.3L522.9,778.2L524.2,784.0L525.5,784.7L526.8,785.9L528.1,787.1L529.4,790.5L530.7,791.6L532.0,793.5L533.2,799.2L534.5,800.4L535.8,803.0L537.1,800.4L538.4,801.0L539.7,802.9L541.0,807.6L542.2,808.7L543.5,805.1L544.8,810.3L546.1,808.5L547.4,807.7L548.7,809.8L550.0,810.9L551.3,809.6L552.5,809.3L553.8,807.8L555.1,806.3L556.4,807.4L557.7,804.8L559.0,807.7L560.3,804.5L561.6,807.1L562.8,801.5L564.1,805.3L565.4,800.8L566.7,800.0L568.0,801.1L569.3,801.2L570.6,798.9L571.9,797.4L573.1,800.2L574.4,796.6L575.7,792.6L577.0,792.7L578.3,794.5L579.6,790.9L580.9,790.4L582.2,791.0L583.4,785.4L584.7,785.6L586.0,782.7L587.3,782.6L588.6,782.4L589.9,778.3L591.2,779.5L592.5,778.6L593.7,779.4L595.0,776.5L596.3,775.5L597.6,778.1L598.9,775.7L600.2,777.8L601.5,778.2L602.8,775.3L604.0,775.9L605.3,773.8L606.6,770.5L607.9,772.7L609.2,772.0L610.5,776.1L611.8,775.3L613.1,778.0L614.3,779.3L615.6,782.3L616.9,781.4L618.2,783.0L619.5,786.3L620.8,790.0L622.1,789.2L623.3,791.8L624.6,793.0L625.9,794.2L627.2,795.1L628.5,799.7L629.8,801.7L631.1,804.1L632.4,810.2L633.6,809.1L634.9,812.8L636.2,814.3L637.5,819.4L638.8,819.6L640.1,825.6L641.4,824.8L642.7,829.0L643.9,832.0L645.2,832.6L646.5,836.9L647.8,838.2L649.1,839.5L650.4,842.2L651.7,846.4L653.0,851.3L654.2,850.2L655.5,854.4L656.8,854.8L658.1,859.1L659.4,859.2L660.7,861.2L662.0,865.5L663.3,870.0L664.5,870.0L665.8,874.7L667.1,879.7L668.4,874.7L669.7,879.7L671.0,879.7L672.3,884.9L673.6,884.9L674.8,884.9L676.1,890.5L677.4,890.5L678.7,896.4L680.0,896.4L681.3,902.8L682.6,902.8L683.9,909.6L685.1,909.6L686.4,916.9L687.7,916.9L689.0,916.9L690.3,924.9L691.6,924.9L692.9,924.9L694.2,924.9L695.4,924.9L696.7,924.9L698.0,933.7L699.3,924.9L700.6,933.7L701.9,924.9L703.2,924.9L704.4,924.9L705.7,916.9L707.0,916.9L708.3,909.6L709.6,909.6L710.9,902.8L712.2,896.4L713.5,890.5L714.7,884.9L716.0,879.7L717.3,874.7L718.6,874.7L719.9,874.7L721.2,870.0L722.5,874.7L723.8,861.2L725.0,861.0L726.3,855.4L727.6,850.9L728.9,843.7L730.2,840.7L731.5,836.2L732.8,831.7L734.1,824.8L735.3,819.8L736.6,818.9L737.9,814.1L739.2,808.9L740.5,805.1L741.8,801.4L743.1,794.0L744.4,793.7L745.6,791.6L746.9,787.9L748.2,784.4L749.5,782.1L750.8,776.2L752.1,775.1L753.4,774.7L754.7,772.2L755.9,767.3L757.2,762.5L758.5,759.8L759.8,758.1L761.1,756.8L762.4,751.6L763.7,746.4L765.0,745.1L766.2,741.6L767.5,741.3L768.8,734.7L770.1,729.8L771.4,725.5L772.7,719.5L774.0,715.6L775.2,712.3L776.5,707.5L777.8,704.8L779.1,700.3L780.4,697.4L781.7,694.0L783.0,687.5L785.5,678.5L785.5,890.5L783.0,884.9L781.7,884.9L780.4,890.5L779.1,884.9L777.8,884.9L776.5,890.5L775.2,890.5L774.0,890.5L772.7,896.4L771.4,896.4L770.1,896.4L768.8,890.5L767.5,896.4L766.2,896.4L765.0,896.4L763.7,902.8L762.4,902.8L761.1,909.6L759.8,902.8L758.5,909.6L757.2,909.6L755.9,909.6L754.7,909.6L753.4,916.9L752.1,916.9L750.8,924.9L749.5,924.9L748.2,933.7L746.9,933.7L745.6,933.7L744.4,954.2L743.1,933.7L741.8,954.2L740.5,954.2L739.2,954.2L737.9,966.5L736.6,966.5L735.3,980.7L734.1,980.7L732.8,997.4L731.5,997.4L730.2,997.4L728.9,997.4L727.6,1017.9L726.3,1017.9L725.0,1017.9L723.8,1017.9L722.5,1044.4L721.2,1044.4L719.9,1044.4L718.6,1044.4L717.3,1044.4L716.0,1044.4L714.7,1044.4L713.5,1044.4L712.2,1081.7L710.9,1081.7L709.6,1081.7L708.3,1081.7L707.0,1081.7L705.7,1081.7L704.4,1145.4L703.2,1081.7L701.9,1145.4L700.6,1145.4L699.3,1081.7L698.0,1081.7L696.7,1081.7L695.4,1081.7L694.2,1081.7L692.9,1081.7L691.6,1081.7L690.3,1081.7L689.0,1081.7L687.7,1081.7L686.4,1081.7L685.1,1081.7L683.9,1081.7L682.6,1081.7L681.3,1081.7L680.0,1081.7L678.7,1081.7L677.4,1081.7L676.1,1081.7L674.8,1081.7L673.6,1081.7L672.3,1081.7L671.0,1081.7L669.7,1081.7L668.4,1044.4L667.1,1044.4L665.8,1044.4L664.5,1044.4L663.3,1044.4L662.0,1044.4L660.7,1017.9L659.4,1017.9L658.1,1017.9L656.8,1017.9L655.5,997.4L654.2,997.4L653.0,997.4L651.7,997.4L650.4,997.4L649.1,980.7L647.8,980.7L646.5,980.7L645.2,980.7L643.9,980.7L642.7,980.7L641.4,966.5L640.1,966.5L638.8,966.5L637.5,954.2L636.2,966.5L634.9,966.5L633.6,954.2L632.4,954.2L631.1,954.2L629.8,954.2L628.5,954.2L627.2,943.4L625.9,943.4L624.6,933.7L623.3,933.7L622.1,933.7L620.8,933.7L619.5,933.7L618.2,924.9L616.9,916.9L615.6,916.9L614.3,916.9L613.1,916.9L611.8,916.9L610.5,916.9L609.2,916.9L607.9,909.6L606.6,916.9L605.3,916.9L604.0,916.9L602.8,916.9L601.5,916.9L600.2,916.9L598.9,916.9L597.6,916.9L596.3,916.9L595.0,916.9L593.7,916.9L592.5,916.9L591.2,916.9L589.9,924.9L588.6,924.9L587.3,933.7L586.0,933.7L584.7,933.7L583.4,933.7L582.2,933.7L580.9,933.7L579.6,933.7L578.3,943.4L577.0,933.7L575.7,943.4L574.4,943.4L573.1,954.2L571.9,954.2L570.6,943.4L569.3,954.2L568.0,954.2L566.7,954.2L565.4,954.2L564.1,954.2L562.8,954.2L561.6,954.2L560.3,943.4L559.0,954.2L557.7,954.2L556.4,954.2L555.1,954.2L553.8,954.2L552.5,954.2L551.3,954.2L550.0,954.2L548.7,954.2L547.4,954.2L546.1,943.4L544.8,954.2L543.5,954.2L542.2,954.2L541.0,954.2L539.7,943.4L538.4,943.4L537.1,943.4L535.8,943.4L534.5,933.7L533.2,933.7L532.0,933.7L530.7,924.9L529.4,924.9L528.1,924.9L526.8,924.9L525.5,924.9L524.2,916.9L522.9,916.9L521.7,909.6L520.4,902.8L519.1,896.4L517.8,909.6L516.5,902.8L515.2,896.4L513.9,896.4L512.6,896.4L511.4,890.5L510.1,890.5L508.8,879.7L507.5,879.7L506.2,879.7L504.9,879.7L503.6,874.7L502.3,874.7L501.1,874.7L499.8,870.0L498.5,861.2L497.2,865.5L495.9,860.1L494.6,861.2L493.3,856.4L492.0,855.4L490.8,852.5L489.5,847.1L488.2,846.7L486.9,842.2L485.6,842.8L484.3,835.3L483.0,838.4L481.7,833.4L480.5,828.9L479.2,831.0L477.9,827.4L476.6,826.2L475.3,821.9L474.0,819.2L472.7,816.2L471.4,820.7L470.2,817.3L468.9,812.9L467.6,811.5L466.3,813.9L465.0,807.6L463.7,805.8L462.4,807.5L461.1,800.0L459.9,801.1L458.6,800.6L457.3,796.7L456.0,797.3L454.7,800.1L453.4,795.0L452.1,794.2L450.9,791.6L449.6,787.8L448.3,785.7L447.0,787.2L445.7,786.6L444.4,781.4L443.1,783.4L441.8,779.6L440.6,778.4L439.3,775.0L438.0,775.5L436.7,775.8L435.4,774.1L434.1,771.1L432.8,774.7L431.5,772.2L430.3,766.1L429.0,769.1L427.7,769.9L426.4,769.0L425.1,764.2L423.8,764.8L422.5,763.2L421.2,767.4L420.0,762.4L418.7,763.8L417.4,764.1L416.1,761.8L414.8,762.3L413.5,759.6L412.2,761.4L410.9,758.3L409.7,759.7L408.4,757.8L407.1,757.6L405.8,757.1L404.5,761.1L403.2,764.8L401.9,761.9L400.6,762.9L399.4,763.9L398.1,764.8L396.8,763.4L395.5,764.7L394.2,765.2L392.9,768.9L391.6,768.4L390.3,770.3L389.1,771.1L387.8,776.4L386.5,776.8L385.2,779.3L383.9,782.6L382.6,786.3L381.3,790.2L380.0,793.7L378.8,798.1L377.5,803.8L376.2,807.8L374.9,811.8L373.6,818.4L372.3,820.7L371.0,826.5L369.8,830.8L368.5,838.2L367.2,840.6L365.9,843.8L364.6,846.9L363.3,850.4L362.0,852.1L360.7,858.7L359.5,860.6L358.2,865.5L356.9,861.2L355.6,870.0L354.3,879.7L353.0,874.7L351.7,884.9L350.4,884.9L349.2,896.4L347.9,902.8L346.6,902.8L345.3,902.8L344.0,902.8L342.7,902.8L341.4,909.6L340.1,909.6L338.9,909.6L337.6,916.9L336.3,916.9L335.0,916.9L333.7,916.9L332.4,924.9L331.1,933.7L329.8,933.7L328.6,933.7L327.3,933.7L326.0,933.7L324.7,933.7L323.4,933.7L322.1,933.7L320.8,943.4L319.5,933.7L318.3,933.7L317.0,943.4L315.7,943.4L314.4,943.4L313.1,933.7L311.8,933.7L310.5,943.4L309.2,954.2L308.0,943.4L306.7,933.7L305.4,943.4L304.1,943.4L302.8,943.4L301.5,943.4L300.2,943.4L298.9,943.4L297.7,943.4L296.4,943.4L295.1,954.2L293.8,954.2L292.5,943.4L291.2,954.2L289.9,954.2L288.7,966.5L287.4,954.2L286.1,954.2L284.8,954.2L283.5,954.2L282.2,954.2L280.9,954.2L279.6,954.2L278.4,954.2L277.1,943.4L275.8,954.2L274.5,954.2L273.2,966.5L271.9,966.5L270.6,980.7L269.3,966.5L268.1,980.7L266.8,980.7L265.5,980.7L264.2,980.7L262.9,980.7L261.6,980.7L260.3,980.7L259.0,980.7L257.8,980.7L256.5,980.7L255.2,980.7L253.9,980.7L252.6,980.7L251.3,980.7L250.0,980.7L248.7,980.7L247.5,980.7L246.2,980.7L244.9,980.7L243.6,980.7L242.3,980.7L241.0,980.7L239.7,980.7L238.4,980.7L237.2,980.7L235.9,980.7L234.6,980.7L233.3,980.7L232.0,966.5L230.7,966.5L229.4,966.5L228.1,966.5L226.9,966.5L225.6,966.5L224.3,954.2L223.0,966.5L221.7,954.2L220.4,954.2L219.1,954.2L217.8,943.4L216.6,954.2L215.3,943.4L214.0,943.4L212.7,933.7L211.4,933.7L210.1,933.7L208.8,933.7L207.6,933.7L206.3,943.4L205.0,924.9L203.7,909.6L202.4,916.9L201.1,909.6L199.8,916.9L198.5,909.6L197.3,909.6L196.0,902.8L194.7,902.8L193.4,902.8L192.1,902.8L190.8,890.5L189.5,884.9L188.2,884.9L187.0,879.7L185.7,884.9L184.4,884.9L183.1,874.7L181.8,879.7L180.5,879.7L179.2,874.7L177.9,870.0L176.7,865.5L175.4,865.5L174.1,865.5L172.8,865.5L171.5,856.2L170.2,854.9L168.9,853.8L167.6,847.1L166.4,849.2L165.1,847.2L163.8,842.0L162.5,838.4L161.2,838.9L159.9,834.1L158.6,830.3L157.3,833.2L156.1,826.5L154.8,822.8L153.5,822.6L152.2,821.1L150.9,818.2L149.6,814.1L148.3,812.6L147.0,812.7L145.8,811.0L144.5,809.6L143.2,807.7L141.9,807.7L140.6,808.4L139.3,808.4L138.0,806.8L136.7,804.0L135.5,803.4L134.2,799.6L132.9,801.4L131.6,803.0L130.3,800.4L129.0,798.1L127.7,797.2L126.5,800.4L125.2,802.0L123.9,800.4L122.6,802.9L121.3,801.4L120.0,802.1L118.7,803.2L117.4,804.6L116.2,805.1L114.9,809.9L113.6,810.5L112.3,813.0L111.0,812.5L109.7,815.7L108.4,817.1L107.1,822.2L105.9,827.6L104.6,830.5L103.3,836.5L102.0,839.4L100.7,845.9L99.4,860.2L98.1,870.0L96.8,890.5L95.6,896.4L94.3,896.4L93.0,896.4L91.7,896.4L90.4,909.6L89.1,924.9L87.8,943.4L86.5,966.5L85.3,997.4L84.0,997.4L82.7,1017.9L81.4,1044.4L80.1,1081.7L78.8,1081.7L77.5,1145.4L76.2,1175.4L75.0,1175.4L73.7,1175.4L72.4,1175.4L71.1,1175.4L69.8,1175.4L68.5,1175.4L67.2,1175.4L65.9,1175.4L64.7,1175.4L63.4,1175.4L62.1,1175.4L60.8,1175.4L59.5,1175.4L58.2,1175.4L56.9,1175.4L55.6,1175.4L54.4,1175.4L53.1,1175.4L51.8,1175.4L50.5,1175.4Z" fill="rgb(31,119,180)" fill-opacity="0.1" stroke="rgb(31,119,180)" stroke-opacity="0.1" stroke-width="1.39" stroke-linejoin="round"/>
<path d="M50.5,1175.4L51.8,1175.4L53.1,1175.4L54.4,1175.4L55.6,1175.4L56.9,1175.4L58.2,1175.4L59.5,1175.4L60.8,1175.4L62.1,1175.4L63.4,1175.4L64.7,1175.4L65.9,1175.4L67.2,1175.4L68.5,1081.7L69.8,1081.7L71.1,1081.7L72.4,1044.4L73.7,1017.9L75.0,1017.9L76.2,997.4L77.5,966.5L78.8,954.2L80.1,924.9L81.4,902.8L82.7,884.9L84.0,861.2L85.3,845.5L86.5,829.6L87.8,813.9L89.1,799.5L90.4,784.3L91.7,770.2L93.0,756.7L94.3,748.7L95.6,743.1L96.8,736.2L98.1,729.2L99.4,725.3L100.7,722.1L102.0,716.8L103.3,715.6L104.6,709.9L105.9,709.4L107.1,707.2L108.4,704.8L109.7,703.3L111.0,702.1L112.3,697.5L113.6,699.6L114.9,699.4L116.2,697.6L117.4,697.7L118.7,694.2L120.0,694.9L121.3,694.8L122.6,693.5L123.9,694.7L125.2,693.4L126.5,692.0L127.7,693.5L129.0,693.7L130.3,692.6L131.6,694.3L132.9,694.6L134.2,695.1L135.5,693.7L136.7,697.1L138.0,696.6L139.3,696.2L140.6,697.1L141.9,697.6L143.2,697.6L144.5,698.6L145.8,701.1L147.0,702.3L148.3,704.5L149.6,705.6L150.9,708.4L152.2,711.6L153.5,712.4L154.8,713.9L156.1,715.2L157.3,716.8L158.6,717.2L159.9,722.6L161.2,721.4L162.5,722.2L163.8,726.2L165.1,727.9L166.4,728.9L167.6,729.8L168.9,732.1L170.2,737.8L171.5,738.1L172.8,739.8L174.1,745.2L175.4,744.8L176.7,746.9L177.9,751.3L179.2,753.8L180.5,758.0L181.8,757.2L183.1,762.4L184.4,763.0L185.7,768.7L187.0,770.4L188.2,773.7L189.5,776.3L190.8,781.1L192.1,785.0L193.4,786.0L194.7,788.9L196.0,791.9L197.3,796.5L198.5,798.2L199.8,807.2L201.1,806.1L202.4,811.8L203.7,813.1L205.0,814.4L206.3,817.2L207.6,821.6L208.8,824.1L210.1,827.5L211.4,829.1L212.7,836.0L214.0,838.3L215.3,836.1L216.6,841.3L217.8,844.6L219.1,845.4L220.4,848.4L221.7,852.7L223.0,854.1L224.3,853.3L225.6,856.3L226.9,852.8L228.1,853.8L229.4,849.0L230.7,850.2L232.0,865.5L233.3,865.5L234.6,865.5L235.9,860.9L237.2,857.1L238.4,857.2L239.7,852.8L241.0,856.0L242.3,853.7L243.6,854.6L244.9,854.0L246.2,854.7L247.5,857.8L248.7,854.7L250.0,856.4L251.3,855.1L252.6,857.0L253.9,853.7L255.2,854.8L256.5,855.2L257.8,856.2L259.0,851.4L260.3,851.2L261.6,851.6L262.9,852.9L264.2,849.2L265.5,850.8L266.8,848.3L268.1,847.2L269.3,845.8L270.6,847.3L271.9,847.6L273.2,845.6L274.5,842.4L275.8,843.6L277.1,844.8L278.4,844.1L279.6,842.9L280.9,843.9L282.2,840.2L283.5,840.0L284.8,844.1L286.1,841.7L287.4,840.4L288.7,839.7L289.9,836.8L291.2,840.5L292.5,836.4L293.8,835.9L295.1,837.6L296.4,838.8L297.7,835.7L298.9,836.0L300.2,834.2L301.5,834.5L302.8,831.2L304.1,835.0L305.4,830.4L306.7,831.5L308.0,827.5L309.2,831.3L310.5,828.9L311.8,830.0L313.1,826.0L314.4,827.2L315.7,825.0L317.0,824.3L318.3,825.2L319.5,821.6L320.8,822.8L322.1,823.4L323.4,822.3L324.7,820.5L326.0,818.7L327.3,816.1L328.6,818.0L329.8,814.2L331.1,815.3L332.4,812.0L333.7,810.9L335.0,809.3L336.3,808.4L337.6,805.3L338.9,804.3L340.1,801.6L341.4,801.0L342.7,798.7L344.0,796.8L345.3,793.0L346.6,792.1L347.9,789.3L349.2,787.3L350.4,783.8L351.7,779.5L353.0,778.4L354.3,773.4L355.6,771.2L356.9,764.7L358.2,764.1L359.5,760.3L360.7,754.4L362.0,752.1L363.3,746.9L364.6,744.9L365.9,739.8L367.2,733.1L368.5,730.0L369.8,723.7L371.0,720.8L372.3,717.0L373.6,712.4L374.9,706.3L376.2,701.5L377.5,697.7L378.8,692.9L380.0,690.2L381.3,687.6L382.6,683.1L383.9,680.9L385.2,676.1L386.5,673.9L387.8,672.6L389.1,672.4L390.3,669.2L391.6,668.2L392.9,664.5L394.2,664.4L395.5,659.3L396.8,660.6L398.1,656.2L399.4,659.3L400.6,657.7L401.9,658.0L403.2,656.5L404.5,654.9L405.8,654.3L407.1,655.2L408.4,656.9L409.7,656.1L410.9,655.1L412.2,655.6L413.5,656.0L414.8,657.2L416.1,657.9L417.4,658.0L418.7,659.3L420.0,658.0L421.2,662.5L422.5,661.6L423.8,663.7L425.1,662.8L426.4,662.8L427.7,663.8L429.0,664.6L430.3,664.4L431.5,665.8L432.8,669.8L434.1,670.0L435.4,669.7L436.7,672.3L438.0,672.0L439.3,675.9L440.6,674.2L441.8,677.8L443.1,678.0L444.4,679.4L445.7,679.9L447.0,682.2L448.3,683.4L449.6,685.1L450.9,688.5L452.1,692.7L453.4,690.6L454.7,693.5L456.0,693.5L457.3,693.9L458.6,697.6L459.9,698.1L461.1,700.3L462.4,700.7L463.7,702.5L465.0,703.1L466.3,705.6L467.6,709.7L468.9,706.6L470.2,711.5L471.4,714.4L472.7,715.3L474.0,717.2L475.3,717.7L476.6,721.4L477.9,723.5L479.2,724.3L480.5,728.6L481.7,728.2L483.0,727.9L484.3,733.0L485.6,735.0L486.9,736.2L488.2,738.8L489.5,740.9L490.8,741.7L492.0,747.9L493.3,749.0L494.6,754.9L495.9,754.3L497.2,757.4L498.5,757.7L499.8,763.3L501.1,763.3L502.3,767.9L503.6,770.9L504.9,773.3L506.2,773.9L507.5,776.6L508.8,781.0L510.1,784.1L511.4,787.0L512.6,787.8L513.9,790.3L515.2,795.2L516.5,795.0L517.8,799.2L519.1,800.4L520.4,801.5L521.7,804.1L522.9,808.1L524.2,810.0L525.5,812.4L526.8,813.5L528.1,815.4L529.4,818.6L530.7,820.4L532.0,821.0L533.2,824.5L534.5,829.0L535.8,827.6L537.1,830.8L538.4,831.5L539.7,833.8L541.0,833.0L542.2,833.3L543.5,836.1L544.8,835.3L546.1,836.6L547.4,836.7L548.7,838.6L550.0,837.8L551.3,837.6L552.5,835.9L553.8,834.7L555.1,835.0L556.4,836.4L557.7,835.8L559.0,835.3L560.3,833.7L561.6,832.6L562.8,834.8L564.1,833.1L565.4,832.9L566.7,830.2L568.0,829.2L569.3,829.4L570.6,828.0L571.9,824.5L573.1,824.7L574.4,821.7L575.7,823.3L577.0,821.3L578.3,821.9L579.6,819.7L580.9,815.8L582.2,815.5L583.4,813.3L584.7,812.7L586.0,812.2L587.3,810.2L588.6,809.2L589.9,806.3L591.2,807.5L592.5,805.9L593.7,806.0L595.0,806.2L596.3,805.0L597.6,805.8L598.9,804.3L600.2,806.1L601.5,804.7L602.8,803.5L604.0,803.3L605.3,801.3L606.6,801.8L607.9,802.0L609.2,802.9L610.5,803.5L611.8,803.8L613.1,805.5L614.3,804.3L615.6,808.2L616.9,810.2L618.2,812.1L619.5,814.3L620.8,814.7L622.1,816.7L623.3,818.2L624.6,820.2L625.9,823.0L627.2,826.7L628.5,825.3L629.8,829.0L631.1,832.3L632.4,833.3L633.6,837.6L634.9,838.1L636.2,842.0L637.5,843.0L638.8,847.9L640.1,849.2L641.4,853.5L642.7,854.9L643.9,856.7L645.2,859.9L646.5,861.2L647.8,861.2L649.1,870.0L650.4,870.0L651.7,874.7L653.0,874.7L654.2,874.7L655.5,879.7L656.8,874.7L658.1,879.7L659.4,884.9L660.7,884.9L662.0,890.5L663.3,890.5L664.5,896.4L665.8,902.8L667.1,902.8L668.4,909.6L669.7,909.6L671.0,909.6L672.3,916.9L673.6,924.9L674.8,924.9L676.1,924.9L677.4,924.9L678.7,933.7L680.0,933.7L681.3,933.7L682.6,933.7L683.9,943.4L685.1,943.4L686.4,943.4L687.7,943.4L689.0,943.4L690.3,943.4L691.6,943.4L692.9,954.2L694.2,943.4L695.4,954.2L696.7,943.4L698.0,943.4L699.3,943.4L700.6,943.4L701.9,943.4L703.2,943.4L704.4,933.7L705.7,933.7L707.0,924.9L708.3,916.9L709.6,916.9L710.9,909.6L712.2,909.6L713.5,909.6L714.7,896.4L716.0,896.4L717.3,890.5L718.6,884.9L719.9,879.7L721.2,879.7L722.5,874.7L723.8,874.7L725.0,874.7L726.3,874.7L727.6,874.7L728.9,874.7L730.2,879.7L731.5,870.0L732.8,874.7L734.1,870.0L735.3,861.2L736.6,855.7L737.9,849.4L739.2,846.3L740.5,840.2L741.8,836.6L743.1,833.9L744.4,829.9L745.6,824.6L746.9,821.5L748.2,818.7L749.5,814.8L750.8,813.1L752.1,810.1L753.4,805.2L754.7,800.5L755.9,798.5L757.2,797.2L758.5,794.2L759.8,791.7L761.1,789.1L762.4,784.6L763.7,783.0L765.0,781.5L766.2,778.0L767.5,776.0L768.8,770.7L770.1,767.3L771.4,767.8L772.7,763.0L774.0,759.5L775.2,757.2L776.5,754.7L777.8,752.1L779.1,742.2L780.4,742.0L781.7,739.3L783.0,732.6L785.5,727.4L785.5,842.7L783.0,845.6L781.7,845.7L780.4,844.9L779.1,848.1L777.8,848.1L776.5,850.3L775.2,848.8L774.0,850.4L772.7,850.7L771.4,853.4L770.1,854.4L768.8,855.9L767.5,856.3L766.2,856.7L765.0,858.0L763.7,861.2L762.4,857.1L761.1,865.5L759.8,861.2L758.5,865.5L757.2,874.7L755.9,870.0L754.7,870.0L753.4,874.7L752.1,879.7L750.8,884.9L749.5,890.5L748.2,896.4L746.9,896.4L745.6,902.8L744.4,909.6L743.1,909.6L741.8,902.8L740.5,916.9L739.2,916.9L737.9,924.9L736.6,924.9L735.3,933.7L734.1,933.7L732.8,943.4L731.5,943.4L730.2,954.2L728.9,954.2L727.6,966.5L726.3,966.5L725.0,966.5L723.8,980.7L722.5,980.7L721.2,997.4L719.9,997.4L718.6,1017.9L717.3,1017.9L716.0,1017.9L714.7,1017.9L713.5,1017.9L712.2,1017.9L710.9,1017.9L709.6,1044.4L708.3,1044.4L707.0,1044.4L705.7,1044.4L704.4,1044.4L703.2,1044.4L701.9,1044.4L700.6,1044.4L699.3,1044.4L698.0,1044.4L696.7,1044.4L695.4,1044.4L694.2,1044.4L692.9,1044.4L691.6,1044.4L690.3,1044.4L689.0,1044.4L687.7,1044.4L686.4,1044.4L685.1,1017.9L683.9,1017.9L682.6,1017.9L681.3,1017.9L680.0,1017.9L678.7,1017.9L677.4,1017.9L676.1,1017.9L674.8,997.4L673.6,997.4L672.3,997.4L671.0,997.4L669.7,997.4L668.4,980.7L667.1,980.7L665.8,980.7L664.5,980.7L663.3,980.7L662.0,966.5L660.7,966.5L659.4,966.5L658.1,954.2L656.8,966.5L655.5,954.2L654.2,954.2L653.0,943.4L651.7,943.4L650.4,933.7L649.1,933.7L647.8,933.7L646.5,933.7L645.2,933.7L643.9,924.9L642.7,916.9L641.4,916.9L640.1,909.6L638.8,909.6L637.5,902.8L636.2,909.6L634.9,909.6L633.6,902.8L632.4,909.6L631.1,909.6L629.8,909.6L628.5,902.8L627.2,902.8L625.9,902.8L624.6,902.8L623.3,909.6L622.1,896.4L620.8,896.4L619.5,890.5L618.2,890.5L616.9,890.5L615.6,890.5L614.3,890.5L613.1,884.9L611.8,884.9L610.5,884.9L609.2,890.5L607.9,884.9L606.6,884.9L605.3,884.9L604.0,884.9L602.8,879.7L601.5,884.9L600.2,884.9L598.9,879.7L597.6,879.7L596.3,879.7L595.0,884.9L593.7,890.5L592.5,884.9L591.2,890.5L589.9,890.5L588.6,890.5L587.3,890.5L586.0,890.5L584.7,896.4L583.4,890.5L582.2,896.4L580.9,890.5L579.6,890.5L578.3,896.4L577.0,896.4L575.7,902.8L574.4,902.8L573.1,902.8L571.9,902.8L570.6,902.8L569.3,902.8L568.0,902.8L566.7,909.6L565.4,902.8L564.1,916.9L562.8,909.6L561.6,909.6L560.3,916.9L559.0,916.9L557.7,916.9L556.4,916.9L555.1,916.9L553.8,916.9L552.5,916.9L551.3,916.9L550.0,916.9L548.7,916.9L547.4,909.6L546.1,909.6L544.8,909.6L543.5,909.6L542.2,902.8L541.0,902.8L539.7,902.8L538.4,896.4L537.1,896.4L535.8,896.4L534.5,896.4L533.2,896.4L532.0,890.5L530.7,884.9L529.4,884.9L528.1,879.7L526.8,879.7L525.5,874.7L524.2,879.7L522.9,874.7L521.7,870.0L520.4,870.0L519.1,861.2L517.8,861.2L516.5,865.5L515.2,857.1L513.9,855.8L512.6,853.0L511.4,848.9L510.1,846.6L508.8,846.8L507.5,842.6L506.2,841.6L504.9,839.1L503.6,837.3L502.3,834.2L501.1,828.9L499.8,827.9L498.5,825.3L497.2,821.5L495.9,818.4L494.6,817.5L493.3,811.3L492.0,811.6L490.8,808.2L489.5,807.3L488.2,805.4L486.9,801.3L485.6,800.3L484.3,797.5L483.0,796.9L481.7,794.8L480.5,792.8L479.2,789.6L477.9,785.9L476.6,784.6L475.3,783.0L474.0,783.0L472.7,780.3L471.4,779.4L470.2,775.5L468.9,772.3L467.6,772.3L466.3,771.6L465.0,769.4L463.7,769.0L462.4,767.3L461.1,766.8L459.9,765.5L458.6,762.3L457.3,762.6L456.0,762.3L454.7,759.8L453.4,759.5L452.1,758.7L450.9,755.7L449.6,755.6L448.3,751.7L447.0,753.6L445.7,749.8L444.4,747.8L443.1,747.8L441.8,745.2L440.6,744.1L439.3,740.4L438.0,739.4L436.7,741.6L435.4,742.1L434.1,739.9L432.8,739.1L431.5,738.1L430.3,737.8L429.0,737.9L427.7,735.0L426.4,734.9L425.1,734.6L423.8,731.4L422.5,733.2L421.2,730.7L420.0,730.8L418.7,730.9L417.4,729.0L416.1,730.0L414.8,727.5L413.5,730.8L412.2,730.1L410.9,725.9L409.7,727.6L408.4,725.1L407.1,726.3L405.8,728.0L404.5,727.8L403.2,726.5L401.9,731.0L400.6,728.2L399.4,728.6L398.1,732.4L396.8,730.8L395.5,731.8L394.2,734.6L392.9,734.4L391.6,736.0L390.3,739.8L389.1,739.2L387.8,739.2L386.5,744.1L385.2,742.7L383.9,748.5L382.6,750.5L381.3,755.3L380.0,757.0L378.8,758.6L377.5,766.2L376.2,772.1L374.9,773.3L373.6,779.4L372.3,782.8L371.0,785.0L369.8,789.2L368.5,794.8L367.2,798.1L365.9,804.9L364.6,809.1L363.3,815.0L362.0,818.0L360.7,817.1L359.5,821.9L358.2,824.3L356.9,828.4L355.6,833.0L354.3,841.3L353.0,859.8L351.7,879.7L350.4,890.5L349.2,884.9L347.9,851.0L346.6,865.5L345.3,896.4L344.0,896.4L342.7,879.7L341.4,870.0L340.1,865.5L338.9,861.2L337.6,865.5L336.3,870.0L335.0,874.7L333.7,884.9L332.4,884.9L331.1,896.4L329.8,896.4L328.6,902.8L327.3,902.8L326.0,909.6L324.7,902.8L323.4,916.9L322.1,909.6L320.8,909.6L319.5,909.6L318.3,909.6L317.0,909.6L315.7,909.6L314.4,909.6L313.1,909.6L311.8,909.6L310.5,909.6L309.2,909.6L308.0,909.6L306.7,909.6L305.4,909.6L304.1,909.6L302.8,909.6L301.5,909.6L300.2,909.6L298.9,916.9L297.7,916.9L296.4,916.9L295.1,909.6L293.8,916.9L292.5,916.9L291.2,916.9L289.9,916.9L288.7,924.9L287.4,924.9L286.1,924.9L284.8,924.9L283.5,924.9L282.2,916.9L280.9,916.9L279.6,924.9L278.4,924.9L277.1,924.9L275.8,924.9L274.5,924.9L273.2,924.9L271.9,933.7L270.6,933.7L269.3,933.7L268.1,933.7L266.8,933.7L265.5,933.7L264.2,924.9L262.9,933.7L261.6,933.7L260.3,933.7L259.0,933.7L257.8,933.7L256.5,933.7L255.2,933.7L253.9,933.7L252.6,924.9L251.3,933.7L250.0,933.7L248.7,933.7L247.5,933.7L246.2,933.7L244.9,933.7L243.6,933.7L242.3,933.7L241.0,933.7L239.7,933.7L238.4,943.4L237.2,933.7L235.9,933.7L234.6,933.7L233.3,933.7L232.0,933.7L230.7,924.9L229.4,916.9L228.1,909.6L226.9,909.6L225.6,909.6L224.3,902.8L223.0,896.4L221.7,896.4L220.4,896.4L219.1,896.4L217.8,890.5L216.6,884.9L215.3,884.9L214.0,874.7L212.7,884.9L211.4,884.9L210.1,884.9L208.8,884.9L207.6,884.9L206.3,884.9L205.0,884.9L203.7,879.7L202.4,874.7L201.1,870.0L199.8,865.5L198.5,865.5L197.3,860.8L196.0,857.0L194.7,856.4L193.4,849.3L192.1,849.2L190.8,847.4L189.5,844.5L188.2,838.2L187.0,837.8L185.7,835.5L184.4,832.4L183.1,829.4L181.8,823.4L180.5,824.7L179.2,818.1L177.9,817.7L176.7,812.6L175.4,809.0L174.1,807.6L172.8,804.5L171.5,802.3L170.2,800.8L168.9,798.9L167.6,794.6L166.4,793.9L165.1,791.9L163.8,790.7L162.5,786.8L161.2,786.3L159.9,784.7L158.6,783.7L157.3,778.6L156.1,777.8L154.8,774.1L153.5,772.6L152.2,771.1L150.9,769.4L149.6,766.4L148.3,766.5L147.0,764.8L145.8,765.0L144.5,764.1L143.2,762.2L141.9,763.0L140.6,760.9L139.3,760.2L138.0,759.2L136.7,756.4L135.5,759.6L134.2,758.3L132.9,756.9L131.6,757.0L130.3,756.0L129.0,753.2L127.7,755.9L126.5,753.5L125.2,757.1L123.9,754.0L122.6,754.1L121.3,756.4L120.0,756.7L118.7,756.7L117.4,759.2L116.2,761.7L114.9,762.2L113.6,763.6L112.3,761.3L111.0,764.1L109.7,763.1L108.4,767.8L107.1,770.0L105.9,771.6L104.6,772.8L103.3,777.7L102.0,781.4L100.7,785.8L99.4,792.1L98.1,799.8L96.8,807.5L95.6,819.3L94.3,832.3L93.0,851.2L91.7,874.7L90.4,890.5L89.1,896.4L87.8,896.4L86.5,902.8L85.3,916.9L84.0,943.4L82.7,966.5L81.4,980.7L80.1,997.4L78.8,1017.9L77.5,1044.4L76.2,1081.7L75.0,1081.7L73.7,1175.4L72.4,1175.4L71.1,1175.4L69.8,1175.4L68.5,1175.4L67.2,1175.4L65.9,1175.4L64.7,1175.4L63.4,1175.4L62.1,1175.4L60.8,1175.4L59.5,1175.4L58.2,1175.4L56.9,1175.4L55.6,1175.4L54.4,1175.4L53.1,1175.4L51.8,1175.4L50.5,1175.4Z" fill="rgb(31,119,180)" fill-opacity="0.1" stroke="rgb(31,119,180)" stroke-opacity="0.1" stroke-width="1.39" stroke-linejoin="round"/>
<line x1="50.5" x2="785.5" y1="934.50" y2="934.50" stroke="#b0b0b0" stroke-width="1.11"/>
<line x1="50.5" x2="785.5" y1="722.50" y2="722.50" stroke="#b0b0b0" stroke-width="1.11"/>
<path d="M50.5,1175.4L51.8,1175.4L53.1,1175.4L54.4,1175.4L55.6,1175.4L56.9,1175.4L58.2,1175.4L59.5,1175.4L60.8,1175.4L62.1,1175.4L63.4,1175.4L64.7,1175.4L65.9,1175.4L67.2,1175.4L68.5,1175.4L69.8,1175.4L71.1,1145.4L72.4,1081.7L73.7,1044.4L75.0,1017.9L76.2,1017.9L77.5,980.7L78.8,966.5L80.1,943.4L81.4,925.4L82.7,900.3L84.0,887.5L85.3,869.6L86.5,852.4L87.8,838.2L89.1,825.8L90.4,816.9L91.7,805.5L93.0,795.0L94.3,786.3L95.6,776.6L96.8,770.2L98.1,763.4L99.4,757.6L100.7,756.5L102.0,753.3L103.3,748.9L104.6,747.1L105.9,742.4L107.1,742.4L108.4,737.6L109.7,737.5L111.0,735.1L112.3,734.8L113.6,732.6L114.9,731.4L116.2,728.9L117.4,729.0L118.7,728.1L120.0,724.4L121.3,725.6L122.6,726.4L123.9,726.7L125.2,725.3L126.5,725.7L127.7,724.8L129.0,724.1L130.3,724.7L131.6,725.7L132.9,724.6L134.2,723.8L135.5,725.2L136.7,725.5L138.0,726.6L139.3,728.7L140.6,729.3L141.9,725.1L143.2,734.2L144.5,733.1L145.8,730.6L147.0,733.9L148.3,733.7L149.6,739.5L150.9,736.9L152.2,741.1L153.5,741.1L154.8,743.3L156.1,743.7L157.3,742.9L158.6,743.7L159.9,747.4L161.2,749.1L162.5,750.7L163.8,755.3L165.1,756.0L166.4,757.5L167.6,762.9L168.9,762.3L170.2,763.3L171.5,764.5L172.8,766.1L174.1,767.4L175.4,769.5L176.7,771.7L177.9,773.7L179.2,776.2L180.5,781.0L181.8,781.1L183.1,786.5L184.4,790.9L185.7,792.1L187.0,796.1L188.2,801.0L189.5,803.5L190.8,804.5L192.1,808.9L193.4,811.8L194.7,816.7L196.0,820.8L197.3,820.4L198.5,825.1L199.8,828.2L201.1,831.0L202.4,830.5L203.7,834.6L205.0,837.9L206.3,840.9L207.6,843.3L208.8,849.0L210.1,851.6L211.4,854.0L212.7,854.0L214.0,861.4L215.3,860.7L216.6,866.5L217.8,867.7L219.1,871.7L220.4,872.7L221.7,876.2L223.0,877.5L224.3,882.0L225.6,884.6L226.9,887.1L228.1,892.4L229.4,891.4L230.7,888.2L232.0,895.7L233.3,895.7L234.6,893.4L235.9,891.4L237.2,892.2L238.4,889.6L239.7,892.0L241.0,894.4L242.3,896.8L243.6,897.4L244.9,899.7L246.2,899.1L247.5,898.1L248.7,895.7L250.0,895.7L251.3,895.7L252.6,893.0L253.9,893.6L255.2,890.7L256.5,891.3L257.8,888.3L259.0,887.6L260.3,888.0L261.6,890.2L262.9,885.8L264.2,886.3L265.5,886.2L266.8,886.0L268.1,884.8L269.3,883.2L270.6,882.3L271.9,882.7L273.2,883.2L274.5,882.1L275.8,878.6L277.1,877.2L278.4,878.1L279.6,879.1L280.9,878.9L282.2,876.2L283.5,874.3L284.8,873.8L286.1,875.0L287.4,873.3L288.7,876.2L289.9,871.7L291.2,869.0L292.5,875.0L293.8,873.1L295.1,869.3L296.4,869.0L297.7,868.0L298.9,869.9L300.2,867.0L301.5,866.5L302.8,862.9L304.1,863.4L305.4,865.2L306.7,861.1L308.0,861.0L309.2,863.6L310.5,861.2L311.8,860.9L313.1,859.2L314.4,859.6L315.7,857.5L317.0,861.6L318.3,858.9L319.5,858.6L320.8,856.7L322.1,855.6L323.4,855.7L324.7,853.6L326.0,853.5L327.3,851.1L328.6,850.9L329.8,846.8L331.1,844.8L332.4,841.7L333.7,838.4L335.0,838.1L336.3,838.3L337.6,835.8L338.9,836.4L340.1,834.6L341.4,827.9L342.7,828.1L344.0,824.1L345.3,821.1L346.6,819.5L347.9,817.4L349.2,817.2L350.4,813.3L351.7,813.2L353.0,808.0L354.3,805.8L355.6,799.7L356.9,796.8L358.2,795.0L359.5,788.8L360.7,784.0L362.0,782.7L363.3,773.8L364.6,772.4L365.9,766.7L367.2,765.5L368.5,760.0L369.8,755.3L371.0,754.4L372.3,747.4L373.6,748.1L374.9,741.2L376.2,736.1L377.5,731.2L378.8,727.0L380.0,722.1L381.3,719.5L382.6,715.4L383.9,711.5L385.2,710.8L386.5,707.4L387.8,703.5L389.1,703.9L390.3,699.8L391.6,699.2L392.9,696.6L394.2,695.7L395.5,694.9L396.8,694.3L398.1,691.5L399.4,691.1L400.6,689.4L401.9,689.6L403.2,689.6L404.5,689.4L405.8,685.5L407.1,687.4L408.4,686.0L409.7,686.2L410.9,683.3L412.2,687.6L413.5,685.2L414.8,686.8L416.1,688.7L417.4,692.6L418.7,688.8L420.0,689.5L421.2,689.1L422.5,691.0L423.8,691.2L425.1,693.5L426.4,694.4L427.7,695.7L429.0,699.2L430.3,700.2L431.5,701.6L432.8,702.0L434.1,702.9L435.4,703.1L436.7,704.2L438.0,701.6L439.3,704.9L440.6,705.8L441.8,706.6L443.1,709.7L444.4,709.7L445.7,709.1L447.0,711.6L448.3,714.4L449.6,715.9L450.9,716.0L452.1,715.9L453.4,719.0L454.7,721.3L456.0,723.0L457.3,724.5L458.6,726.4L459.9,726.5L461.1,729.1L462.4,729.5L463.7,731.8L465.0,732.2L466.3,731.1L467.6,735.8L468.9,739.2L470.2,740.2L471.4,743.9L472.7,743.0L474.0,747.7L475.3,748.4L476.6,751.8L477.9,753.1L479.2,751.6L480.5,754.7L481.7,759.3L483.0,762.5L484.3,765.1L485.6,764.8L486.9,768.5L488.2,769.0L489.5,773.7L490.8,775.6L492.0,776.6L493.3,783.5L494.6,784.0L495.9,787.1L497.2,790.2L498.5,789.8L499.8,796.2L501.1,797.6L502.3,798.4L503.6,802.5L504.9,801.0L506.2,806.7L507.5,806.8L508.8,811.8L510.1,811.2L511.4,814.5L512.6,820.8L513.9,821.1L515.2,825.5L516.5,826.9L517.8,829.8L519.1,832.9L520.4,832.8L521.7,837.7L522.9,839.4L524.2,841.7L525.5,845.3L526.8,846.0L528.1,850.6L529.4,851.2L530.7,853.6L532.0,857.8L533.2,857.4L534.5,856.7L535.8,861.6L537.1,861.2L538.4,863.1L539.7,866.4L541.0,863.7L542.2,868.6L543.5,870.0L544.8,872.4L546.1,869.3L547.4,869.0L548.7,872.1L550.0,873.6L551.3,873.0L552.5,875.8L553.8,872.4L555.1,874.5L556.4,871.0L557.7,870.8L559.0,871.5L560.3,871.1L561.6,871.3L562.8,870.7L564.1,869.1L565.4,871.5L566.7,867.6L568.0,864.8L569.3,867.7L570.6,865.7L571.9,863.5L573.1,862.2L574.4,859.6L575.7,860.6L577.0,859.4L578.3,858.4L579.6,852.7L580.9,852.0L582.2,848.5L583.4,849.3L584.7,848.1L586.0,847.3L587.3,845.8L588.6,844.6L589.9,842.7L591.2,840.3L592.5,839.4L593.7,840.7L595.0,836.1L596.3,837.4L597.6,834.5L598.9,838.3L600.2,838.1L601.5,838.3L602.8,836.6L604.0,836.1L605.3,837.6L606.6,837.4L607.9,836.5L609.2,836.3L610.5,840.0L611.8,839.0L613.1,841.8L614.3,840.6L615.6,846.3L616.9,849.9L618.2,850.4L619.5,848.4L620.8,852.1L622.1,855.4L623.3,855.5L624.6,856.6L625.9,858.3L627.2,859.0L628.5,861.3L629.8,866.2L631.1,865.9L632.4,869.7L633.6,873.9L634.9,875.7L636.2,878.4L637.5,878.2L638.8,882.0L640.1,884.1L641.4,883.9L642.7,888.3L643.9,887.1L645.2,892.5L646.5,896.5L647.8,900.1L649.1,901.1L650.4,906.2L651.7,909.9L653.0,913.6L654.2,916.1L655.5,919.7L656.8,922.8L658.1,925.8L659.4,929.5L660.7,931.9L662.0,933.5L663.3,938.0L664.5,943.4L665.8,943.4L667.1,943.4L668.4,943.4L669.7,954.2L671.0,954.2L672.3,966.5L673.6,966.5L674.8,966.5L676.1,966.5L677.4,980.7L678.7,980.7L680.0,966.5L681.3,980.7L682.6,980.7L683.9,980.7L685.1,980.7L686.4,980.7L687.7,980.7L689.0,997.4L690.3,980.7L691.6,997.4L692.9,980.7L694.2,997.4L695.4,980.7L696.7,980.7L698.0,997.4L699.3,997.4L700.6,997.4L701.9,997.4L703.2,980.7L704.4,980.7L705.7,980.7L707.0,980.7L708.3,980.7L709.6,966.5L710.9,966.5L712.2,954.2L713.5,954.2L714.7,954.2L716.0,954.2L717.3,943.4L718.6,943.4L719.9,943.4L721.2,935.8L722.5,931.2L723.8,925.1L725.0,921.2L726.3,918.0L727.6,911.8L728.9,908.2L730.2,905.0L731.5,901.5L732.8,899.3L734.1,891.0L735.3,884.9L736.6,880.8L737.9,877.5L739.2,868.7L740.5,866.2L741.8,860.4L743.1,859.3L744.4,855.8L745.6,853.3L746.9,851.0L748.2,850.5L749.5,847.7L750.8,845.8L752.1,839.8L753.4,836.7L754.7,830.6L755.9,829.8L757.2,826.0L758.5,825.0L759.8,818.4L761.1,817.3L762.4,815.4L763.7,812.5L765.0,814.9L766.2,810.2L767.5,809.6L768.8,807.6L770.1,805.4L771.4,805.3L772.7,802.2L774.0,802.4L775.2,799.2L776.5,798.0L777.8,794.5L779.1,792.7L780.4,788.3L781.7,786.3L783.0,786.1L785.5,785.3" fill="none" stroke="#1f77b4" stroke-width="2.08" stroke-linejoin="round" stroke-linecap="square"/>
<circle class="d" cx="211.5" cy="639.5" r="4.1"/>
<circle class="d" cx="140.5" cy="663.5" r="4.1"/>
<circle class="d" cx="130.5" cy="671.5" r="4.1"/>
<circle class="d" cx="158.5" cy="679.5" r="4.1"/>
<circle class="d" cx="122.5" cy="690.5" r="4.1"/>
<circle class="d" cx="131.5" cy="691.5" r="4.1"/>
<circle class="d" cx="139.5" cy="690.5" r="4.1"/>
<circle class="d" cx="149.5" cy="688.5" r="4.1"/>
<circle class="d" cx="134.5" cy="698.5" r="4.1"/>
<circle class="d" cx="142.5" cy="697.5" r="4.1"/>
<circle class="d" cx="105.5" cy="703.5" r="4.1"/>
<circle class="d" cx="108.5" cy="700.5" r="4.1"/>
<circle class="d" cx="113.5" cy="704.5" r="4.1"/>
<circle class="d" cx="168.5" cy="710.5" r="4.1"/>
<circle class="d" cx="166.5" cy="711.5" r="4.1"/>
<circle class="d" cx="116.5" cy="716.5" r="4.1"/>
<circle class="d" cx="135.5" cy="715.5" r="4.1"/>
<circle class="d" cx="152.5" cy="715.5" r="4.1"/>
<circle class="d" cx="125.5" cy="720.5" r="4.1"/>
<circle class="d" cx="159.5" cy="720.5" r="4.1"/>
<circle class="d" cx="113.5" cy="725.5" r="4.1"/>
<circle class="d" cx="167.5" cy="726.5" r="4.1"/>
<circle class="d" cx="175.5" cy="728.5" r="4.1"/>
<circle class="d" cx="122.5" cy="732.5" r="4.1"/>
<circle class="d" cx="178.5" cy="732.5" r="4.1"/>
<circle class="d" cx="185.5" cy="735.5" r="4.1"/>
<circle class="d" cx="95.5" cy="740.5" r="4.1"/>
<circle class="d" cx="104.5" cy="741.5" r="4.1"/>
<circle class="d" cx="101.5" cy="745.5" r="4.1"/>
<circle class="d" cx="117.5" cy="742.5" r="4.1"/>
<circle class="d" cx="150.5" cy="740.5" r="4.1"/>
<circle class="d" cx="161.5" cy="738.5" r="4.1"/>
<circle class="d" cx="94.5" cy="751.5" r="4.1"/>
<circle class="d" cx="103.5" cy="755.5" r="4.1"/>
<circle class="d" cx="153.5" cy="749.5" r="4.1"/>
<circle class="d" cx="144.5" cy="755.5" r="4.1"/>
<circle class="d" cx="177.5" cy="746.5" r="4.1"/>
<circle class="d" cx="180.5" cy="750.5" r="4.1"/>
<circle class="d" cx="184.5" cy="753.5" r="4.1"/>
<circle class="d" cx="171.5" cy="756.5" r="4.1"/>
<circle class="d" cx="96.5" cy="760.5" r="4.1"/>
<circle class="d" cx="154.5" cy="760.5" r="4.1"/>
<circle class="d" cx="107.5" cy="769.5" r="4.1"/>
<circle class="d" cx="111.5" cy="771.5" r="4.1"/>
<circle class="d" cx="118.5" cy="772.5" r="4.1"/>
<circle class="d" cx="127.5" cy="771.5" r="4.1"/>
<circle class="d" cx="136.5" cy="774.5" r="4.1"/>
<circle class="d" cx="147.5" cy="774.5" r="4.1"/>
<circle class="d" cx="162.5" cy="769.5" r="4.1"/>
<circle class="d" cx="169.5" cy="771.5" r="4.1"/>
<circle class="d" cx="194.5" cy="765.5" r="4.1"/>
<circle class="d" cx="138.5" cy="781.5" r="4.1"/>
<circle class="d" cx="187.5" cy="782.5" r="4.1"/>
<circle class="d" cx="89.5" cy="792.5" r="4.1"/>
<circle class="d" cx="120.5" cy="786.5" r="4.1"/>
<circle class="d" cx="145.5" cy="790.5" r="4.1"/>
<circle class="d" cx="86.5" cy="802.5" r="4.1"/>
<circle class="d" cx="100.5" cy="800.5" r="4.1"/>
<circle class="d" cx="129.5" cy="804.5" r="4.1"/>
<circle class="d" cx="172.5" cy="806.5" r="4.1"/>
<circle class="d" cx="157.5" cy="811.5" r="4.1"/>
<circle class="d" cx="189.5" cy="796.5" r="4.1"/>
<circle class="d" cx="188.5" cy="800.5" r="4.1"/>
<circle class="d" cx="196.5" cy="806.5" r="4.1"/>
<circle class="d" cx="90.5" cy="821.5" r="4.1"/>
<circle class="d" cx="93.5" cy="824.5" r="4.1"/>
<circle class="d" cx="192.5" cy="816.5" r="4.1"/>
<circle class="d" cx="198.5" cy="814.5" r="4.1"/>
<circle class="d" cx="205.5" cy="816.5" r="4.1"/>
<circle class="d" cx="212.5" cy="816.5" r="4.1"/>
<circle class="d" cx="91.5" cy="833.5" r="4.1"/>
<circle class="d" cx="109.5" cy="830.5" r="4.1"/>
<circle class="d" cx="156.5" cy="836.5" r="4.1"/>
<circle class="d" cx="180.5" cy="836.5" r="4.1"/>
<circle class="d" cx="237.5" cy="833.5" r="4.1"/>
<circle class="d" cx="85.5" cy="846.5" r="4.1"/>
<circle class="d" cx="203.5" cy="839.5" r="4.1"/>
<circle class="d" cx="198.5" cy="846.5" r="4.1"/>
<circle class="d" cx="87.5" cy="861.5" r="4.1"/>
<circle class="d" cx="165.5" cy="861.5" r="4.1"/>
<circle class="d" cx="192.5" cy="853.5" r="4.1"/>
<circle class="d" cx="190.5" cy="861.5" r="4.1"/>
<circle class="d" cx="216.5" cy="853.5" r="4.1"/>
<circle class="d" cx="221.5" cy="849.5" r="4.1"/>
<circle class="d" cx="225.5" cy="849.5" r="4.1"/>
<circle class="d" cx="230.5" cy="857.5" r="4.1"/>
<circle class="d" cx="82.5" cy="875.5" r="4.1"/>
<circle class="d" cx="174.5" cy="870.5" r="4.1"/>
<circle class="d" cx="181.5" cy="875.5" r="4.1"/>
<circle class="d" cx="183.5" cy="880.5" r="4.1"/>
<circle class="d" cx="202.5" cy="865.5" r="4.1"/>
<circle class="d" cx="206.5" cy="880.5" r="4.1"/>
<circle class="d" cx="214.5" cy="870.5" r="4.1"/>
<circle class="d" cx="217.5" cy="875.5" r="4.1"/>
<circle class="d" cx="225.5" cy="880.5" r="4.1"/>
<circle class="d" cx="232.5" cy="870.5" r="4.1"/>
<circle class="d" cx="239.5" cy="861.5" r="4.1"/>
<circle class="d" cx="215.5" cy="890.5" r="4.1"/>
<circle class="d" cx="232.5" cy="885.5" r="4.1"/>
<circle class="d" cx="66.5" cy="1145.5" r="4.1"/>
<circle class="d" cx="70.5" cy="1145.5" r="4.1"/>
<circle class="d" cx="73.5" cy="1145.5" r="4.1"/>
<circle class="d" cx="68.5" cy="1044.5" r="4.1"/>
<circle class="d" cx="72.5" cy="1044.5" r="4.1"/>
<circle class="d" cx="75.5" cy="1044.5" r="4.1"/>
<circle class="d" cx="78.5" cy="1044.5" r="4.1"/>
<circle class="d" cx="76.5" cy="1018.5" r="4.1"/>
<circle class="d" cx="78.5" cy="966.5" r="4.1"/>
<circle class="d" cx="85.5" cy="966.5" r="4.1"/>
<circle class="d" cx="80.5" cy="954.5" r="4.1"/>
<circle class="d" cx="81.5" cy="909.5" r="4.1"/>
<circle class="d" cx="199.5" cy="896.5" r="4.1"/>
<circle class="d" cx="201.5" cy="903.5" r="4.1"/>
<circle class="d" cx="224.5" cy="909.5" r="4.1"/>
<circle class="d" cx="234.5" cy="917.5" r="4.1"/>
<circle class="d" cx="238.5" cy="890.5" r="4.1"/>
<circle class="d" cx="207.5" cy="943.5" r="4.1"/>
<circle class="d" cx="221.5" cy="954.5" r="4.1"/>
<circle class="d" cx="240.5" cy="954.5" r="4.1"/>
<circle class="d" cx="207.5" cy="981.5" r="4.1"/>
<circle class="d" cx="211.5" cy="981.5" r="4.1"/>
<circle class="d" cx="219.5" cy="981.5" r="4.1"/>
<circle class="d" cx="228.5" cy="981.5" r="4.1"/>
<circle class="d" cx="226.5" cy="997.5" r="4.1"/>
<circle class="d" cx="235.5" cy="1145.5" r="4.1"/>
<circle class="d" cx="401.5" cy="632.5" r="4.1"/>
<circle class="d" cx="402.5" cy="646.5" r="4.1"/>
<circle class="d" cx="406.5" cy="643.5" r="4.1"/>
<circle class="d" cx="412.5" cy="645.5" r="4.1"/>
<circle class="d" cx="414.5" cy="649.5" r="4.1"/>
<circle class="d" cx="422.5" cy="649.5" r="4.1"/>
<circle class="d" cx="421.5" cy="656.5" r="4.1"/>
<circle class="d" cx="419.5" cy="663.5" r="4.1"/>
<circle class="d" cx="428.5" cy="662.5" r="4.1"/>
<circle class="d" cx="378.5" cy="660.5" r="4.1"/>
<circle class="d" cx="385.5" cy="668.5" r="4.1"/>
<circle class="d" cx="392.5" cy="669.5" r="4.1"/>
<circle class="d" cx="409.5" cy="675.5" r="4.1"/>
<circle class="d" cx="415.5" cy="676.5" r="4.1"/>
<circle class="d" cx="427.5" cy="673.5" r="4.1"/>
<circle class="d" cx="374.5" cy="683.5" r="4.1"/>
<circle class="d" cx="383.5" cy="684.5" r="4.1"/>
<circle class="d" cx="387.5" cy="681.5" r="4.1"/>
<circle class="d" cx="386.5" cy="686.5" r="4.1"/>
<circle class="d" cx="394.5" cy="681.5" r="4.1"/>
<circle class="d" cx="395.5" cy="686.5" r="4.1"/>
<circle class="d" cx="402.5" cy="684.5" r="4.1"/>
<circle class="d" cx="400.5" cy="688.5" r="4.1"/>
<circle class="d" cx="405.5" cy="680.5" r="4.1"/>
<circle class="d" cx="427.5" cy="688.5" r="4.1"/>
<circle class="d" cx="418.5" cy="697.5" r="4.1"/>
<circle class="d" cx="423.5" cy="706.5" r="4.1"/>
<circle class="d" cx="417.5" cy="708.5" r="4.1"/>
<circle class="d" cx="428.5" cy="706.5" r="4.1"/>
<circle class="d" cx="416.5" cy="716.5" r="4.1"/>
<circle class="d" cx="382.5" cy="711.5" r="4.1"/>
<circle class="d" cx="399.5" cy="720.5" r="4.1"/>
<circle class="d" cx="389.5" cy="723.5" r="4.1"/>
<circle class="d" cx="408.5" cy="722.5" r="4.1"/>
<circle class="d" cx="395.5" cy="732.5" r="4.1"/>
<circle class="d" cx="367.5" cy="725.5" r="4.1"/>
<circle class="d" cx="369.5" cy="731.5" r="4.1"/>
<circle class="d" cx="368.5" cy="738.5" r="4.1"/>
<circle class="d" cx="373.5" cy="740.5" r="4.1"/>
<circle class="d" cx="380.5" cy="750.5" r="4.1"/>
<circle class="d" cx="425.5" cy="741.5" r="4.1"/>
<circle class="d" cx="430.5" cy="755.5" r="4.1"/>
<circle class="d" cx="347.5" cy="758.5" r="4.1"/>
<circle class="d" cx="364.5" cy="758.5" r="4.1"/>
<circle class="d" cx="351.5" cy="765.5" r="4.1"/>
<circle class="d" cx="390.5" cy="768.5" r="4.1"/>
<circle class="d" cx="358.5" cy="775.5" r="4.1"/>
<circle class="d" cx="365.5" cy="777.5" r="4.1"/>
<circle class="d" cx="323.5" cy="782.5" r="4.1"/>
<circle class="d" cx="340.5" cy="782.5" r="4.1"/>
<circle class="d" cx="356.5" cy="783.5" r="4.1"/>
<circle class="d" cx="371.5" cy="786.5" r="4.1"/>
<circle class="d" cx="376.5" cy="790.5" r="4.1"/>
<circle class="d" cx="360.5" cy="788.5" r="4.1"/>
<circle class="d" cx="338.5" cy="792.5" r="4.1"/>
<circle class="d" cx="356.5" cy="794.5" r="4.1"/>
<circle class="d" cx="361.5" cy="795.5" r="4.1"/>
<circle class="d" cx="377.5" cy="796.5" r="4.1"/>
<circle class="d" cx="398.5" cy="798.5" r="4.1"/>
<circle class="d" cx="296.5" cy="798.5" r="4.1"/>
<circle class="d" cx="329.5" cy="802.5" r="4.1"/>
<circle class="d" cx="345.5" cy="804.5" r="4.1"/>
<circle class="d" cx="350.5" cy="803.5" r="4.1"/>
<circle class="d" cx="381.5" cy="802.5" r="4.1"/>
<circle class="d" cx="275.5" cy="814.5" r="4.1"/>
<circle class="d" cx="283.5" cy="811.5" r="4.1"/>
<circle class="d" cx="287.5" cy="811.5" r="4.1"/>
<circle class="d" cx="302.5" cy="818.5" r="4.1"/>
<circle class="d" cx="320.5" cy="818.5" r="4.1"/>
<circle class="d" cx="362.5" cy="818.5" r="4.1"/>
<circle class="d" cx="314.5" cy="824.5" r="4.1"/>
<circle class="d" cx="251.5" cy="830.5" r="4.1"/>
<circle class="d" cx="325.5" cy="830.5" r="4.1"/>
<circle class="d" cx="332.5" cy="827.5" r="4.1"/>
<circle class="d" cx="313.5" cy="833.5" r="4.1"/>
<circle class="d" cx="333.5" cy="833.5" r="4.1"/>
<circle class="d" cx="338.5" cy="833.5" r="4.1"/>
<circle class="d" cx="310.5" cy="836.5" r="4.1"/>
<circle class="d" cx="248.5" cy="839.5" r="4.1"/>
<circle class="d" cx="274.5" cy="836.5" r="4.1"/>
<circle class="d" cx="291.5" cy="839.5" r="4.1"/>
<circle class="d" cx="295.5" cy="839.5" r="4.1"/>
<circle class="d" cx="260.5" cy="842.5" r="4.1"/>
<circle class="d" cx="264.5" cy="842.5" r="4.1"/>
<circle class="d" cx="268.5" cy="842.5" r="4.1"/>
<circle class="d" cx="284.5" cy="842.5" r="4.1"/>
<circle class="d" cx="342.5" cy="842.5" r="4.1"/>
<circle class="d" cx="259.5" cy="853.5" r="4.1"/>
<circle class="d" cx="266.5" cy="857.5" r="4.1"/>
<circle class="d" cx="286.5" cy="853.5" r="4.1"/>
<circle class="d" cx="304.5" cy="849.5" r="4.1"/>
<circle class="d" cx="311.5" cy="849.5" r="4.1"/>
<circle class="d" cx="316.5" cy="849.5" r="4.1"/>
<circle class="d" cx="305.5" cy="857.5" r="4.1"/>
<circle class="d" cx="323.5" cy="853.5" r="4.1"/>
<circle class="d" cx="318.5" cy="857.5" r="4.1"/>
<circle class="d" cx="353.5" cy="853.5" r="4.1"/>
<circle class="d" cx="372.5" cy="849.5" r="4.1"/>
<circle class="d" cx="250.5" cy="865.5" r="4.1"/>
<circle class="d" cx="269.5" cy="861.5" r="4.1"/>
<circle class="d" cx="277.5" cy="857.5" r="4.1"/>
<circle class="d" cx="288.5" cy="857.5" r="4.1"/>
<circle class="d" cx="297.5" cy="861.5" r="4.1"/>
<circle class="d" cx="311.5" cy="861.5" r="4.1"/>
<circle class="d" cx="345.5" cy="861.5" r="4.1"/>
<circle class="d" cx="256.5" cy="870.5" r="4.1"/>
<circle class="d" cx="278.5" cy="870.5" r="4.1"/>
<circle class="d" cx="247.5" cy="875.5" r="4.1"/>
<circle class="d" cx="236.5" cy="880.5" r="4.1"/>
<circle class="d" cx="252.5" cy="880.5" r="4.1"/>
<circle class="d" cx="262.5" cy="880.5" r="4.1"/>
<circle class="d" cx="301.5" cy="880.5" r="4.1"/>
<circle class="d" cx="363.5" cy="880.5" r="4.1"/>
<circle class="d" cx="270.5" cy="885.5" r="4.1"/>
<circle class="d" cx="326.5" cy="885.5" r="4.1"/>
<circle class="d" cx="354.5" cy="885.5" r="4.1"/>
<circle class="d" cx="257.5" cy="896.5" r="4.1"/>
<circle class="d" cx="244.5" cy="903.5" r="4.1"/>
<circle class="d" cx="298.5" cy="903.5" r="4.1"/>
<circle class="d" cx="308.5" cy="903.5" r="4.1"/>
<circle class="d" cx="327.5" cy="903.5" r="4.1"/>
<circle class="d" cx="317.5" cy="909.5" r="4.1"/>
<circle class="d" cx="336.5" cy="909.5" r="4.1"/>
<circle class="d" cx="264.5" cy="917.5" r="4.1"/>
<circle class="d" cx="279.5" cy="925.5" r="4.1"/>
<circle class="d" cx="246.5" cy="943.5" r="4.1"/>
<circle class="d" cx="335.5" cy="943.5" r="4.1"/>
<circle class="d" cx="243.5" cy="954.5" r="4.1"/>
<circle class="d" cx="273.5" cy="954.5" r="4.1"/>
<circle class="d" cx="291.5" cy="954.5" r="4.1"/>
<circle class="d" cx="282.5" cy="966.5" r="4.1"/>
<circle class="d" cx="292.5" cy="966.5" r="4.1"/>
<circle class="d" cx="309.5" cy="966.5" r="4.1"/>
<circle class="d" cx="271.5" cy="981.5" r="4.1"/>
<circle class="d" cx="253.5" cy="997.5" r="4.1"/>
<circle class="d" cx="261.5" cy="997.5" r="4.1"/>
<circle class="d" cx="289.5" cy="997.5" r="4.1"/>
<circle class="d" cx="300.5" cy="997.5" r="4.1"/>
<circle class="d" cx="255.5" cy="1145.5" r="4.1"/>
<circle class="d" cx="441.5" cy="642.5" r="4.1"/>
<circle class="d" cx="437.5" cy="651.5" r="4.1"/>
<circle class="d" cx="448.5" cy="656.5" r="4.1"/>
<circle class="d" cx="439.5" cy="675.5" r="4.1"/>
<circle class="d" cx="447.5" cy="672.5" r="4.1"/>
<circle class="d" cx="449.5" cy="676.5" r="4.1"/>
<circle class="d" cx="445.5" cy="685.5" r="4.1"/>
<circle class="d" cx="458.5" cy="685.5" r="4.1"/>
<circle class="d" cx="454.5" cy="695.5" r="4.1"/>
<circle class="d" cx="466.5" cy="693.5" r="4.1"/>
<circle class="d" cx="465.5" cy="697.5" r="4.1"/>
<circle class="d" cx="435.5" cy="695.5" r="4.1"/>
<circle class="d" cx="436.5" cy="700.5" r="4.1"/>
<circle class="d" cx="475.5" cy="702.5" r="4.1"/>
<circle class="d" cx="456.5" cy="706.5" r="4.1"/>
<circle class="d" cx="433.5" cy="712.5" r="4.1"/>
<circle class="d" cx="493.5" cy="709.5" r="4.1"/>
<circle class="d" cx="467.5" cy="712.5" r="4.1"/>
<circle class="d" cx="472.5" cy="714.5" r="4.1"/>
<circle class="d" cx="457.5" cy="716.5" r="4.1"/>
<circle class="d" cx="443.5" cy="718.5" r="4.1"/>
<circle class="d" cx="450.5" cy="720.5" r="4.1"/>
<circle class="d" cx="485.5" cy="717.5" r="4.1"/>
<circle class="d" cx="474.5" cy="726.5" r="4.1"/>
<circle class="d" cx="444.5" cy="732.5" r="4.1"/>
<circle class="d" cx="452.5" cy="739.5" r="4.1"/>
<circle class="d" cx="483.5" cy="738.5" r="4.1"/>
<circle class="d" cx="484.5" cy="746.5" r="4.1"/>
<circle class="d" cx="486.5" cy="751.5" r="4.1"/>
<circle class="d" cx="476.5" cy="752.5" r="4.1"/>
<circle class="d" cx="502.5" cy="751.5" r="4.1"/>
<circle class="d" cx="503.5" cy="754.5" r="4.1"/>
<circle class="d" cx="453.5" cy="755.5" r="4.1"/>
<circle class="d" cx="462.5" cy="758.5" r="4.1"/>
<circle class="d" cx="512.5" cy="758.5" r="4.1"/>
<circle class="d" cx="492.5" cy="760.5" r="4.1"/>
<circle class="d" cx="471.5" cy="762.5" r="4.1"/>
<circle class="d" cx="478.5" cy="761.5" r="4.1"/>
<circle class="d" cx="481.5" cy="765.5" r="4.1"/>
<circle class="d" cx="489.5" cy="767.5" r="4.1"/>
<circle class="d" cx="495.5" cy="769.5" r="4.1"/>
<circle class="d" cx="504.5" cy="772.5" r="4.1"/>
<circle class="d" cx="522.5" cy="775.5" r="4.1"/>
<circle class="d" cx="529.5" cy="777.5" r="4.1"/>
<circle class="d" cx="519.5" cy="786.5" r="4.1"/>
<circle class="d" cx="520.5" cy="789.5" r="4.1"/>
<circle class="d" cx="510.5" cy="792.5" r="4.1"/>
<circle class="d" cx="498.5" cy="796.5" r="4.1"/>
<circle class="d" cx="521.5" cy="796.5" r="4.1"/>
<circle class="d" cx="517.5" cy="798.5" r="4.1"/>
<circle class="d" cx="493.5" cy="802.5" r="4.1"/>
<circle class="d" cx="489.5" cy="804.5" r="4.1"/>
<circle class="d" cx="479.5" cy="806.5" r="4.1"/>
<circle class="d" cx="507.5" cy="806.5" r="4.1"/>
<circle class="d" cx="530.5" cy="804.5" r="4.1"/>
<circle class="d" cx="463.5" cy="818.5" r="4.1"/>
<circle class="d" cx="470.5" cy="818.5" r="4.1"/>
<circle class="d" cx="513.5" cy="818.5" r="4.1"/>
<circle class="d" cx="497.5" cy="821.5" r="4.1"/>
<circle class="d" cx="499.5" cy="824.5" r="4.1"/>
<circle class="d" cx="511.5" cy="827.5" r="4.1"/>
<circle class="d" cx="461.5" cy="833.5" r="4.1"/>
<circle class="d" cx="565.5" cy="811.5" r="4.1"/>
<circle class="d" cx="573.5" cy="809.5" r="4.1"/>
<circle class="d" cx="555.5" cy="814.5" r="4.1"/>
<circle class="d" cx="583.5" cy="811.5" r="4.1"/>
<circle class="d" cx="592.5" cy="804.5" r="4.1"/>
<circle class="d" cx="602.5" cy="804.5" r="4.1"/>
<circle class="d" cx="594.5" cy="809.5" r="4.1"/>
<circle class="d" cx="591.5" cy="814.5" r="4.1"/>
<circle class="d" cx="611.5" cy="779.5" r="4.1"/>
<circle class="d" cx="619.5" cy="788.5" r="4.1"/>
<circle class="d" cx="613.5" cy="796.5" r="4.1"/>
<circle class="d" cx="622.5" cy="804.5" r="4.1"/>
<circle class="d" cx="628.5" cy="797.5" r="4.1"/>
<circle class="d" cx="547.5" cy="821.5" r="4.1"/>
<circle class="d" cx="538.5" cy="827.5" r="4.1"/>
<circle class="d" cx="600.5" cy="824.5" r="4.1"/>
<circle class="d" cx="618.5" cy="821.5" r="4.1"/>
<circle class="d" cx="574.5" cy="830.5" r="4.1"/>
<circle class="d" cx="586.5" cy="830.5" r="4.1"/>
<circle class="d" cx="596.5" cy="830.5" r="4.1"/>
<circle class="d" cx="604.5" cy="830.5" r="4.1"/>
<circle class="d" cx="610.5" cy="830.5" r="4.1"/>
<circle class="d" cx="548.5" cy="833.5" r="4.1"/>
<circle class="d" cx="564.5" cy="836.5" r="4.1"/>
<circle class="d" cx="581.5" cy="836.5" r="4.1"/>
<circle class="d" cx="616.5" cy="836.5" r="4.1"/>
<circle class="d" cx="528.5" cy="839.5" r="4.1"/>
<circle class="d" cx="542.5" cy="839.5" r="4.1"/>
<circle class="d" cx="583.5" cy="839.5" r="4.1"/>
<circle class="d" cx="596.5" cy="839.5" r="4.1"/>
<circle class="d" cx="607.5" cy="842.5" r="4.1"/>
<circle class="d" cx="628.5" cy="839.5" r="4.1"/>
<circle class="d" cx="549.5" cy="846.5" r="4.1"/>
<circle class="d" cx="501.5" cy="849.5" r="4.1"/>
<circle class="d" cx="515.5" cy="849.5" r="4.1"/>
<circle class="d" cx="531.5" cy="849.5" r="4.1"/>
<circle class="d" cx="540.5" cy="849.5" r="4.1"/>
<circle class="d" cx="557.5" cy="849.5" r="4.1"/>
<circle class="d" cx="516.5" cy="853.5" r="4.1"/>
<circle class="d" cx="576.5" cy="849.5" r="4.1"/>
<circle class="d" cx="586.5" cy="849.5" r="4.1"/>
<circle class="d" cx="589.5" cy="853.5" r="4.1"/>
<circle class="d" cx="615.5" cy="849.5" r="4.1"/>
<circle class="d" cx="622.5" cy="849.5" r="4.1"/>
<circle class="d" cx="490.5" cy="857.5" r="4.1"/>
<circle class="d" cx="508.5" cy="861.5" r="4.1"/>
<circle class="d" cx="543.5" cy="861.5" r="4.1"/>
<circle class="d" cx="551.5" cy="857.5" r="4.1"/>
<circle class="d" cx="556.5" cy="861.5" r="4.1"/>
<circle class="d" cx="566.5" cy="861.5" r="4.1"/>
<circle class="d" cx="575.5" cy="853.5" r="4.1"/>
<circle class="d" cx="609.5" cy="857.5" r="4.1"/>
<circle class="d" cx="604.5" cy="861.5" r="4.1"/>
<circle class="d" cx="620.5" cy="861.5" r="4.1"/>
<circle class="d" cx="579.5" cy="865.5" r="4.1"/>
<circle class="d" cx="598.5" cy="865.5" r="4.1"/>
<circle class="d" cx="480.5" cy="870.5" r="4.1"/>
<circle class="d" cx="526.5" cy="875.5" r="4.1"/>
<circle class="d" cx="534.5" cy="875.5" r="4.1"/>
<circle class="d" cx="538.5" cy="875.5" r="4.1"/>
<circle class="d" cx="560.5" cy="875.5" r="4.1"/>
<circle class="d" cx="533.5" cy="880.5" r="4.1"/>
<circle class="d" cx="539.5" cy="885.5" r="4.1"/>
<circle class="d" cx="546.5" cy="885.5" r="4.1"/>
<circle class="d" cx="571.5" cy="885.5" r="4.1"/>
<circle class="d" cx="626.5" cy="880.5" r="4.1"/>
<circle class="d" cx="630.5" cy="875.5" r="4.1"/>
<circle class="d" cx="569.5" cy="890.5" r="4.1"/>
<circle class="d" cx="553.5" cy="896.5" r="4.1"/>
<circle class="d" cx="567.5" cy="896.5" r="4.1"/>
<circle class="d" cx="580.5" cy="909.5" r="4.1"/>
<circle class="d" cx="606.5" cy="909.5" r="4.1"/>
<circle class="d" cx="524.5" cy="917.5" r="4.1"/>
<circle class="d" cx="544.5" cy="917.5" r="4.1"/>
<circle class="d" cx="561.5" cy="925.5" r="4.1"/>
<circle class="d" cx="588.5" cy="925.5" r="4.1"/>
<circle class="d" cx="534.5" cy="934.5" r="4.1"/>
<circle class="d" cx="578.5" cy="934.5" r="4.1"/>
<circle class="d" cx="625.5" cy="934.5" r="4.1"/>
<circle class="d" cx="558.5" cy="943.5" r="4.1"/>
<circle class="d" cx="562.5" cy="954.5" r="4.1"/>
<circle class="d" cx="525.5" cy="981.5" r="4.1"/>
<circle class="d" cx="552.5" cy="981.5" r="4.1"/>
<circle class="d" cx="615.5" cy="981.5" r="4.1"/>
<circle class="d" cx="745.5" cy="771.5" r="4.1"/>
<circle class="d" cx="735.5" cy="796.5" r="4.1"/>
<circle class="d" cx="741.5" cy="798.5" r="4.1"/>
<circle class="d" cx="744.5" cy="806.5" r="4.1"/>
<circle class="d" cx="631.5" cy="809.5" r="4.1"/>
<circle class="d" cx="633.5" cy="811.5" r="4.1"/>
<circle class="d" cx="641.5" cy="811.5" r="4.1"/>
<circle class="d" cx="640.5" cy="827.5" r="4.1"/>
<circle class="d" cx="645.5" cy="842.5" r="4.1"/>
<circle class="d" cx="629.5" cy="846.5" r="4.1"/>
<circle class="d" cx="654.5" cy="846.5" r="4.1"/>
<circle class="d" cx="660.5" cy="846.5" r="4.1"/>
<circle class="d" cx="679.5" cy="842.5" r="4.1"/>
<circle class="d" cx="687.5" cy="842.5" r="4.1"/>
<circle class="d" cx="723.5" cy="836.5" r="4.1"/>
<circle class="d" cx="732.5" cy="833.5" r="4.1"/>
<circle class="d" cx="637.5" cy="853.5" r="4.1"/>
<circle class="d" cx="727.5" cy="853.5" r="4.1"/>
<circle class="d" cx="647.5" cy="861.5" r="4.1"/>
<circle class="d" cx="655.5" cy="865.5" r="4.1"/>
<circle class="d" cx="669.5" cy="870.5" r="4.1"/>
<circle class="d" cx="696.5" cy="870.5" r="4.1"/>
<circle class="d" cx="642.5" cy="870.5" r="4.1"/>
<circle class="d" cx="728.5" cy="875.5" r="4.1"/>
<circle class="d" cx="664.5" cy="880.5" r="4.1"/>
<circle class="d" cx="717.5" cy="880.5" r="4.1"/>
<circle class="d" cx="737.5" cy="880.5" r="4.1"/>
<circle class="d" cx="638.5" cy="885.5" r="4.1"/>
<circle class="d" cx="646.5" cy="885.5" r="4.1"/>
<circle class="d" cx="650.5" cy="885.5" r="4.1"/>
<circle class="d" cx="734.5" cy="890.5" r="4.1"/>
<circle class="d" cx="652.5" cy="896.5" r="4.1"/>
<circle class="d" cx="743.5" cy="896.5" r="4.1"/>
<circle class="d" cx="643.5" cy="903.5" r="4.1"/>
<circle class="d" cx="656.5" cy="903.5" r="4.1"/>
<circle class="d" cx="718.5" cy="903.5" r="4.1"/>
<circle class="d" cx="736.5" cy="903.5" r="4.1"/>
<circle class="d" cx="746.5" cy="903.5" r="4.1"/>
<circle class="d" cx="719.5" cy="909.5" r="4.1"/>
<circle class="d" cx="650.5" cy="917.5" r="4.1"/>
<circle class="d" cx="688.5" cy="917.5" r="4.1"/>
<circle class="d" cx="709.5" cy="917.5" r="4.1"/>
<circle class="d" cx="682.5" cy="925.5" r="4.1"/>
<circle class="d" cx="714.5" cy="925.5" r="4.1"/>
<circle class="d" cx="634.5" cy="934.5" r="4.1"/>
<circle class="d" cx="673.5" cy="934.5" r="4.1"/>
<circle class="d" cx="725.5" cy="934.5" r="4.1"/>
<circle class="d" cx="651.5" cy="943.5" r="4.1"/>
<circle class="d" cx="699.5" cy="943.5" r="4.1"/>
<circle class="d" cx="726.5" cy="943.5" r="4.1"/>
<circle class="d" cx="636.5" cy="954.5" r="4.1"/>
<circle class="d" cx="662.5" cy="954.5" r="4.1"/>
<circle class="d" cx="666.5" cy="954.5" r="4.1"/>
<circle class="d" cx="674.5" cy="954.5" r="4.1"/>
<circle class="d" cx="683.5" cy="954.5" r="4.1"/>
<circle class="d" cx="705.5" cy="954.5" r="4.1"/>
<circle class="d" cx="710.5" cy="954.5" r="4.1"/>
<circle class="d" cx="690.5" cy="966.5" r="4.1"/>
<circle class="d" cx="692.5" cy="966.5" r="4.1"/>
<circle class="d" cx="715.5" cy="966.5" r="4.1"/>
<circle class="d" cx="661.5" cy="981.5" r="4.1"/>
<circle class="d" cx="681.5" cy="981.5" r="4.1"/>
<circle class="d" cx="697.5" cy="981.5" r="4.1"/>
<circle class="d" cx="700.5" cy="981.5" r="4.1"/>
<circle class="d" cx="708.5" cy="981.5" r="4.1"/>
<circle class="d" cx="706.5" cy="997.5" r="4.1"/>
<circle class="d" cx="670.5" cy="1018.5" r="4.1"/>
<circle class="d" cx="672.5" cy="1018.5" r="4.1"/>
<circle class="d" cx="701.5" cy="1044.5" r="4.1"/>
<line x1="749.0" x2="749.0" y1="1145.5" y2="593.5" stroke="#1f77b4" stroke-opacity="0.5" stroke-width="2.08" stroke-dasharray="7.71 3.33"/>
</g>
<rect x="50.5" y="593.5" width="735.0" height="552.0" fill="none" stroke="#000" stroke-width="1.11" stroke-linejoin="miter"/>
<line x1="45.09" x2="50.50" y1="934.50" y2="934.50" stroke="#000" stroke-width="1.11"/>
<line x1="45.09" x2="50.50" y1="722.50" y2="722.50" stroke="#000" stroke-width="1.11"/>
<line x1="45.09" x2="50.50" y1="1145.50" y2="1145.50" stroke="#000" stroke-width="1.11"/>
<line x1="47.17" x2="50.50" y1="1082.50" y2="1082.50" stroke="#000" stroke-width="0.83"/>
<line x1="47.17" x2="50.50" y1="1044.50" y2="1044.50" stroke="#000" stroke-width="0.83"/>
<line x1="47.17" x2="50.50" y1="1018.50" y2="1018.50" stroke="#000" stroke-width="0.83"/>
<line x1="47.17" x2="50.50" y1="997.50" y2="997.50" stroke="#000" stroke-width="0.83"/>
<line x1="47.17" x2="50.50" y1="981.50" y2="981.50" stroke="#000" stroke-width="0.83"/>
<line x1="47.17" x2="50.50" y1="966.50" y2="966.50" stroke="#000" stroke-width="0.83"/>
<line x1="47.17" x2="50.50" y1="954.50" y2="954.50" stroke="#000" stroke-width="0.83"/>
<line x1="47.17" x2="50.50" y1="943.50" y2="943.50" stroke="#000" stroke-width="0.83"/>
<line x1="47.17" x2="50.50" y1="870.50" y2="870.50" stroke="#000" stroke-width="0.83"/>
<line x1="47.17" x2="50.50" y1="833.50" y2="833.50" stroke="#000" stroke-width="0.83"/>
<line x1="47.17" x2="50.50" y1="806.50" y2="806.50" stroke="#000" stroke-width="0.83"/>
<line x1="47.17" x2="50.50" y1="786.50" y2="786.50" stroke="#000" stroke-width="0.83"/>
<line x1="47.17" x2="50.50" y1="769.50" y2="769.50" stroke="#000" stroke-width="0.83"/>
<line x1="47.17" x2="50.50" y1="755.50" y2="755.50" stroke="#000" stroke-width="0.83"/>
<line x1="47.17" x2="50.50" y1="743.50" y2="743.50" stroke="#000" stroke-width="0.83"/>
<line x1="47.17" x2="50.50" y1="732.50" y2="732.50" stroke="#000" stroke-width="0.83"/>
<line x1="47.17" x2="50.50" y1="658.50" y2="658.50" stroke="#000" stroke-width="0.83"/>
<line x1="47.17" x2="50.50" y1="621.50" y2="621.50" stroke="#000" stroke-width="0.83"/>
<line x1="47.17" x2="50.50" y1="595.50" y2="595.50" stroke="#000" stroke-width="0.83"/>
<line x1="86.50" x2="86.50" y1="1145.5" y2="1150.91" stroke="#000" stroke-width="1.11"/>
<line x1="125.50" x2="125.50" y1="1145.5" y2="1148.83" stroke="#000" stroke-width="0.83"/>
<line x1="164.50" x2="164.50" y1="1145.5" y2="1148.83" stroke="#000" stroke-width="0.83"/>
<line x1="203.50" x2="203.50" y1="1145.5" y2="1150.91" stroke="#000" stroke-width="1.11"/>
<line x1="243.50" x2="243.50" y1="1145.5" y2="1148.83" stroke="#000" stroke-width="0.83"/>
<line x1="283.50" x2="283.50" y1="1145.5" y2="1148.83" stroke="#000" stroke-width="0.83"/>
<line x1="321.50" x2="321.50" y1="1145.5" y2="1150.91" stroke="#000" stroke-width="1.11"/>
<line x1="361.50" x2="361.50" y1="1145.5" y2="1148.83" stroke="#000" stroke-width="0.83"/>
<line x1="400.50" x2="400.50" y1="1145.5" y2="1148.83" stroke="#000" stroke-width="0.83"/>
<line x1="440.50" x2="440.50" y1="1145.5" y2="1150.91" stroke="#000" stroke-width="1.11"/>
<line x1="480.50" x2="480.50" y1="1145.5" y2="1148.83" stroke="#000" stroke-width="0.83"/>
<line x1="516.50" x2="516.50" y1="1145.5" y2="1148.83" stroke="#000" stroke-width="0.83"/>
<line x1="556.50" x2="556.50" y1="1145.5" y2="1150.91" stroke="#000" stroke-width="1.11"/>
<line x1="594.50" x2="594.50" y1="1145.5" y2="1148.83" stroke="#000" stroke-width="0.83"/>
<line x1="634.50" x2="634.50" y1="1145.5" y2="1148.83" stroke="#000" stroke-width="0.83"/>
<line x1="673.50" x2="673.50" y1="1145.5" y2="1150.91" stroke="#000" stroke-width="1.11"/>
<line x1="713.50" x2="713.50" y1="1145.5" y2="1148.83" stroke="#000" stroke-width="0.83"/>
<line x1="753.50" x2="753.50" y1="1145.5" y2="1148.83" stroke="#000" stroke-width="0.83"/>
<line x1="50.50" x2="50.50" y1="1145.5" y2="1150.91" stroke="#000" stroke-width="1.11"/>
<line x1="785.50" x2="785.50" y1="1145.5" y2="1150.91" stroke="#000" stroke-width="1.11"/>
<rect x="57.5" y="600.6" width="135.2" height="24.600000000000023" rx="2.8" ry="2.8" fill="#fff" fill-opacity="0.8" stroke="#ccc" stroke-opacity="0.8" stroke-width="1.39"/>
<line x1="62.0" x2="91.0" y1="612.00" y2="612.00" stroke="#1f77b4" stroke-width="2.08"/>

















<style>.d{fill:#ff7f0e;stroke:#ff7f0e;stroke-width:1.39}</style>
<defs><filter id="gs" filterUnits="userSpaceOnUse" x="0" y="0" width="800" height="1200"><feOffset dx="0" dy="0"/></filter></defs>
<g filter="url(#gs)">
<text x="101.3" y="38.2" font-size="14" text-anchor="start" textLength="107.6" lengthAdjust="spacingAndGlyphs">daily confirmed</text>
<text x="101.3" y="616.3" font-size="14" text-anchor="start" textLength="84.2" lengthAdjust="spacingAndGlyphs">daily deaths</text>
<text x="16.2" y="460.9" font-size="14.1" textLength="16.0" lengthAdjust="spacingAndGlyphs">10</text>
<text x="32.3" y="456.3" font-size="11.2" textLength="6.8" lengthAdjust="spacingAndGlyphs">1</text>
<text x="16.2" y="348.9" font-size="14.1" textLength="16.0" lengthAdjust="spacingAndGlyphs">10</text>
<text x="32.3" y="344.3" font-size="11.2" textLength="6.8" lengthAdjust="spacingAndGlyphs">2</text>
<text x="16.2" y="235.9" font-size="14.1" textLength="16.0" lengthAdjust="spacingAndGlyphs">10</text>
<text x="32.3" y="231.3" font-size="11.2" textLength="6.8" lengthAdjust="spacingAndGlyphs">3</text>
<text x="16.2" y="122.9" font-size="14.1" textLength="16.0" lengthAdjust="spacingAndGlyphs">10</text>
<text x="32.3" y="118.3" font-size="11.2" textLength="6.8" lengthAdjust="spacingAndGlyphs">4</text>
<text x="16.2" y="573.9" font-size="14.1" textLength="16.0" lengthAdjust="spacingAndGlyphs">10</text>
<text x="32.3" y="569.3" font-size="11.2" textLength="6.8" lengthAdjust="spacingAndGlyphs">0</text>
<text x="16.2" y="940.9" font-size="14.1" textLength="16.0" lengthAdjust="spacingAndGlyphs">10</text>
<text x="32.3" y="936.3" font-size="11.2" textLength="6.8" lengthAdjust="spacingAndGlyphs">1</text>
<text x="16.2" y="728.9" font-size="14.1" textLength="16.0" lengthAdjust="spacingAndGlyphs">10</text>
<text x="32.3" y="724.3" font-size="11.2" textLength="6.8" lengthAdjust="spacingAndGlyphs">2</text>
<text x="16.2" y="1151.9" font-size="14.1" textLength="16.0" lengthAdjust="spacingAndGlyphs">10</text>
<text x="32.3" y="1147.3" font-size="11.2" textLength="6.8" lengthAdjust="spacingAndGlyphs">0</text>
<text x="85.4" y="1166.2" font-size="14.1" text-anchor="middle" textLength="21.9" lengthAdjust="spacingAndGlyphs">Apr</text>
<text x="202.6" y="1166.2" font-size="14.1" text-anchor="middle" textLength="16.0" lengthAdjust="spacingAndGlyphs">Jul</text>
<text x="321.5" y="1166.2" font-size="14.1" text-anchor="middle" textLength="22.8" lengthAdjust="spacingAndGlyphs">Oct</text>
<text x="440.0" y="1166.2" font-size="14.1" text-anchor="middle" textLength="20.3" lengthAdjust="spacingAndGlyphs">Jan</text>
<text x="555.3" y="1166.2" font-size="14.1" text-anchor="middle" textLength="21.9" lengthAdjust="spacingAndGlyphs">Apr</text>
<text x="672.5" y="1166.2" font-size="14.1" text-anchor="middle" textLength="16.0" lengthAdjust="spacingAndGlyphs">Jul</text>
<text x="440.4" y="1182.0" font-size="14.1" text-anchor="middle" textLength="33.5" lengthAdjust="spacingAndGlyphs">2021</text>
<text x="397.3" y="36.0" font-size="16.8" text-anchor="middle" textLength="122.6" lengthAdjust="spacingAndGlyphs">Illinois 28 days</text>
</g>
</svg></body></html>
